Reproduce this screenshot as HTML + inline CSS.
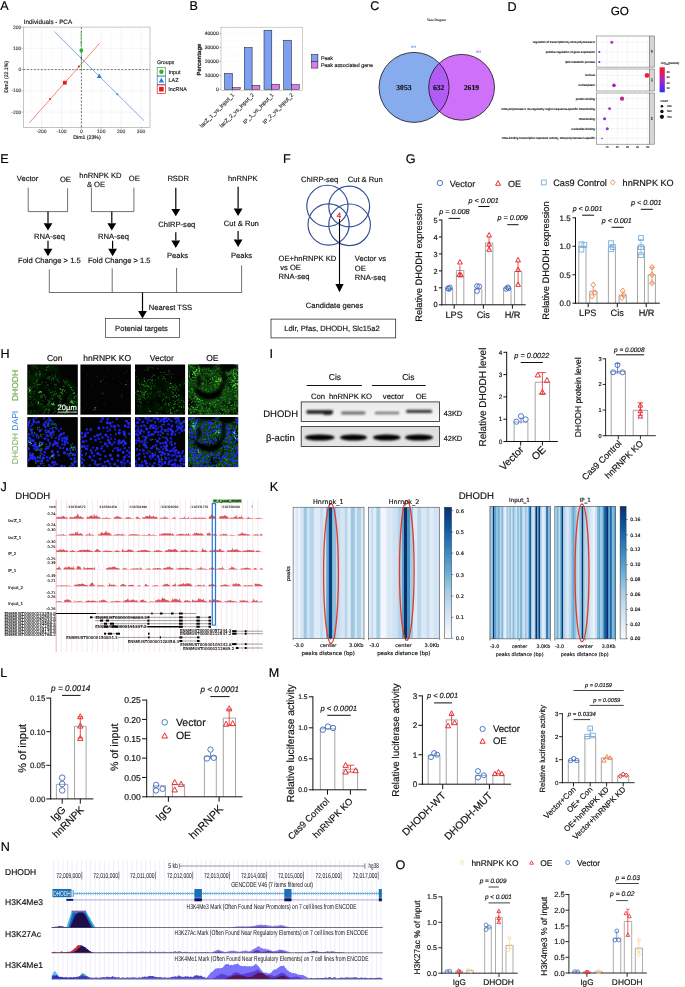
<!DOCTYPE html>
<html><head><meta charset="utf-8"><title>Figure</title>
<style>
html,body{margin:0;padding:0;background:#fff;}
svg{display:block;font-family:"Liberation Sans",sans-serif;text-rendering:geometricPrecision;}
</style></head>
<body>
<svg width="685" height="987" viewBox="0 0 685 987">
<rect width="685" height="987" fill="#fff"/>
<text x="0.3" y="10.4" font-size="12.6" fill="#000"  stroke="#000" stroke-width="0.16">A</text>
<text x="23.8" y="23.6" font-size="6.3" fill="#1a1a1a"  stroke="#1a1a1a" stroke-width="0.16">Individuals - PCA</text>
<rect x="23.3" y="27.1" width="126.7" height="100.2" fill="#fff" stroke="#8a8a8a" stroke-width="0.5" />
<line x1="31.7" y1="27.1" x2="31.7" y2="127.3" stroke="#f2f2f2" stroke-width="0.3" />
<line x1="51.58" y1="27.1" x2="51.58" y2="127.3" stroke="#f2f2f2" stroke-width="0.3" />
<line x1="71.46" y1="27.1" x2="71.46" y2="127.3" stroke="#f2f2f2" stroke-width="0.3" />
<line x1="91.34" y1="27.1" x2="91.34" y2="127.3" stroke="#f2f2f2" stroke-width="0.3" />
<line x1="111.22" y1="27.1" x2="111.22" y2="127.3" stroke="#f2f2f2" stroke-width="0.3" />
<line x1="131.1" y1="27.1" x2="131.1" y2="127.3" stroke="#f2f2f2" stroke-width="0.3" />
<line x1="23.3" y1="122.72" x2="150" y2="122.72" stroke="#f2f2f2" stroke-width="0.3" />
<line x1="23.3" y1="101.47" x2="150" y2="101.47" stroke="#f2f2f2" stroke-width="0.3" />
<line x1="23.3" y1="80.22" x2="150" y2="80.22" stroke="#f2f2f2" stroke-width="0.3" />
<line x1="23.3" y1="58.97" x2="150" y2="58.97" stroke="#f2f2f2" stroke-width="0.3" />
<line x1="23.3" y1="37.72" x2="150" y2="37.72" stroke="#f2f2f2" stroke-width="0.3" />
<line x1="41.64" y1="27.1" x2="41.64" y2="127.3" stroke="#e8e8e8" stroke-width="0.5" />
<line x1="41.64" y1="127.3" x2="41.64" y2="128.6" stroke="#555" stroke-width="0.4" />
<text x="41.64" y="133" font-size="5" fill="#4d4d4d" text-anchor="middle"  stroke="#4d4d4d" stroke-width="0.16">-200</text>
<line x1="61.52" y1="27.1" x2="61.52" y2="127.3" stroke="#e8e8e8" stroke-width="0.5" />
<line x1="61.52" y1="127.3" x2="61.52" y2="128.6" stroke="#555" stroke-width="0.4" />
<text x="61.52" y="133" font-size="5" fill="#4d4d4d" text-anchor="middle"  stroke="#4d4d4d" stroke-width="0.16">-100</text>
<line x1="81.4" y1="27.1" x2="81.4" y2="127.3" stroke="#e8e8e8" stroke-width="0.5" />
<line x1="81.4" y1="127.3" x2="81.4" y2="128.6" stroke="#555" stroke-width="0.4" />
<text x="81.4" y="133" font-size="5" fill="#4d4d4d" text-anchor="middle"  stroke="#4d4d4d" stroke-width="0.16">0</text>
<line x1="101.28" y1="27.1" x2="101.28" y2="127.3" stroke="#e8e8e8" stroke-width="0.5" />
<line x1="101.28" y1="127.3" x2="101.28" y2="128.6" stroke="#555" stroke-width="0.4" />
<text x="101.28" y="133" font-size="5" fill="#4d4d4d" text-anchor="middle"  stroke="#4d4d4d" stroke-width="0.16">100</text>
<line x1="121.16" y1="27.1" x2="121.16" y2="127.3" stroke="#e8e8e8" stroke-width="0.5" />
<line x1="121.16" y1="127.3" x2="121.16" y2="128.6" stroke="#555" stroke-width="0.4" />
<text x="121.16" y="133" font-size="5" fill="#4d4d4d" text-anchor="middle"  stroke="#4d4d4d" stroke-width="0.16">200</text>
<line x1="141.04" y1="27.1" x2="141.04" y2="127.3" stroke="#e8e8e8" stroke-width="0.5" />
<line x1="141.04" y1="127.3" x2="141.04" y2="128.6" stroke="#555" stroke-width="0.4" />
<text x="141.04" y="133" font-size="5" fill="#4d4d4d" text-anchor="middle"  stroke="#4d4d4d" stroke-width="0.16">300</text>
<line x1="23.3" y1="112.1" x2="150" y2="112.1" stroke="#e8e8e8" stroke-width="0.5" />
<line x1="22" y1="112.1" x2="23.3" y2="112.1" stroke="#555" stroke-width="0.4" />
<text x="21.3" y="113.7" font-size="5" fill="#4d4d4d" text-anchor="end"  stroke="#4d4d4d" stroke-width="0.16">-200</text>
<line x1="23.3" y1="90.85" x2="150" y2="90.85" stroke="#e8e8e8" stroke-width="0.5" />
<line x1="22" y1="90.85" x2="23.3" y2="90.85" stroke="#555" stroke-width="0.4" />
<text x="21.3" y="92.45" font-size="5" fill="#4d4d4d" text-anchor="end"  stroke="#4d4d4d" stroke-width="0.16">-100</text>
<line x1="23.3" y1="69.6" x2="150" y2="69.6" stroke="#e8e8e8" stroke-width="0.5" />
<line x1="22" y1="69.6" x2="23.3" y2="69.6" stroke="#555" stroke-width="0.4" />
<text x="21.3" y="71.2" font-size="5" fill="#4d4d4d" text-anchor="end"  stroke="#4d4d4d" stroke-width="0.16">0</text>
<line x1="23.3" y1="48.35" x2="150" y2="48.35" stroke="#e8e8e8" stroke-width="0.5" />
<line x1="22" y1="48.35" x2="23.3" y2="48.35" stroke="#555" stroke-width="0.4" />
<text x="21.3" y="49.95" font-size="5" fill="#4d4d4d" text-anchor="end"  stroke="#4d4d4d" stroke-width="0.16">100</text>
<line x1="23.3" y1="27.1" x2="150" y2="27.1" stroke="#e8e8e8" stroke-width="0.5" />
<line x1="22" y1="27.1" x2="23.3" y2="27.1" stroke="#555" stroke-width="0.4" />
<text x="21.3" y="28.7" font-size="5" fill="#4d4d4d" text-anchor="end"  stroke="#4d4d4d" stroke-width="0.16">200</text>
<line x1="23.3" y1="69.6" x2="150" y2="69.6" stroke="#222" stroke-width="0.6" stroke-dasharray="2 1.5" />
<line x1="81.4" y1="27.1" x2="81.4" y2="127.3" stroke="#222" stroke-width="0.6" stroke-dasharray="2 1.5" />
<line x1="29.3" y1="122.8" x2="99.8" y2="43.1" stroke="#f0504a" stroke-width="0.7" />
<line x1="54.3" y1="31.6" x2="144" y2="120.6" stroke="#4a90d0" stroke-width="0.7" />
<line x1="81" y1="31.6" x2="81.6" y2="69.6" stroke="#4caf50" stroke-width="0.7" stroke-dasharray="3 1" />
<circle cx="81.3" cy="50.5" r="1.9" fill="#3aa83a" />
<circle cx="81.2" cy="43" r="0.8" fill="#2f8f2f" />
<circle cx="81.3" cy="57.9" r="0.8" fill="#1f5fa8" />
<circle cx="78.9" cy="66.5" r="1" fill="#e41a1c" />
<rect x="62.9" y="80.8" width="3.8" height="3.8" fill="#e41a1c" />
<circle cx="50" cy="99" r="0.9" fill="#e41a1c" />
<polygon points="99.3,73.6 96.8,78 101.8,78" fill="#2f7fc8" />
<circle cx="117.3" cy="94.2" r="1" fill="#2f7fc8" />
<text x="87" y="138.5" font-size="5.2" fill="#222" text-anchor="middle"  stroke="#222" stroke-width="0.16">Dim1 (23%)</text>
<text x="8.3" y="76.8" font-size="5.2" fill="#222" text-anchor="middle" transform="rotate(-90 8.3 76.8)"  stroke="#222" stroke-width="0.16">Dim2 (22.1%)</text>
<text x="156.9" y="64.2" font-size="5.3" fill="#222"  stroke="#222" stroke-width="0.16">Groups</text>
<rect x="157.2" y="67.5" width="8.4" height="8.4" fill="#fff" stroke="#3aa83a" stroke-width="0.7" />
<circle cx="161.4" cy="71.7" r="2.2" fill="#3aa83a" />
<text x="168.6" y="73.6" font-size="5.4" fill="#222"  stroke="#222" stroke-width="0.16">Input</text>
<rect x="157.2" y="76.25" width="8.4" height="8.4" fill="#fff" stroke="#2f7fc8" stroke-width="0.7" />
<polygon points="161.4,77.65 158.7,82.45 164.1,82.45" fill="#2f7fc8" />
<text x="168.6" y="82.35" font-size="5.4" fill="#222"  stroke="#222" stroke-width="0.16">LAZ</text>
<rect x="157.2" y="85" width="8.4" height="8.4" fill="#fff" stroke="#e41a1c" stroke-width="0.7" />
<rect x="159.1" y="86.9" width="4.6" height="4.6" fill="#e41a1c" />
<text x="168.6" y="91.1" font-size="5.4" fill="#222"  stroke="#222" stroke-width="0.16">lncRNA</text>
<text x="189.4" y="10.4" font-size="12.6" fill="#000"  stroke="#000" stroke-width="0.16">B</text>
<rect x="221" y="27.2" width="81.3" height="63" fill="#fff" stroke="#9a9a9a" stroke-width="0.5" />
<line x1="221" y1="82.35" x2="302.3" y2="82.35" stroke="#f1f1f1" stroke-width="0.4" stroke-dasharray="1 1" />
<line x1="221" y1="68.45" x2="302.3" y2="68.45" stroke="#f1f1f1" stroke-width="0.4" stroke-dasharray="1 1" />
<line x1="221" y1="54.55" x2="302.3" y2="54.55" stroke="#f1f1f1" stroke-width="0.4" stroke-dasharray="1 1" />
<line x1="221" y1="40.65" x2="302.3" y2="40.65" stroke="#f1f1f1" stroke-width="0.4" stroke-dasharray="1 1" />
<line x1="221" y1="89.3" x2="302.3" y2="89.3" stroke="#ebebeb" stroke-width="0.4" stroke-dasharray="1 1" />
<line x1="219.7" y1="89.3" x2="221" y2="89.3" stroke="#444" stroke-width="0.4" />
<text x="218.7" y="91" font-size="5" fill="#333" text-anchor="end"  stroke="#333" stroke-width="0.16">0</text>
<line x1="221" y1="75.4" x2="302.3" y2="75.4" stroke="#ebebeb" stroke-width="0.4" stroke-dasharray="1 1" />
<line x1="219.7" y1="75.4" x2="221" y2="75.4" stroke="#444" stroke-width="0.4" />
<text x="218.7" y="77.1" font-size="5" fill="#333" text-anchor="end"  stroke="#333" stroke-width="0.16">10000</text>
<line x1="221" y1="61.5" x2="302.3" y2="61.5" stroke="#ebebeb" stroke-width="0.4" stroke-dasharray="1 1" />
<line x1="219.7" y1="61.5" x2="221" y2="61.5" stroke="#444" stroke-width="0.4" />
<text x="218.7" y="63.2" font-size="5" fill="#333" text-anchor="end"  stroke="#333" stroke-width="0.16">20000</text>
<line x1="221" y1="47.6" x2="302.3" y2="47.6" stroke="#ebebeb" stroke-width="0.4" stroke-dasharray="1 1" />
<line x1="219.7" y1="47.6" x2="221" y2="47.6" stroke="#444" stroke-width="0.4" />
<text x="218.7" y="49.3" font-size="5" fill="#333" text-anchor="end"  stroke="#333" stroke-width="0.16">30000</text>
<line x1="221" y1="33.7" x2="302.3" y2="33.7" stroke="#ebebeb" stroke-width="0.4" stroke-dasharray="1 1" />
<line x1="219.7" y1="33.7" x2="221" y2="33.7" stroke="#444" stroke-width="0.4" />
<text x="218.7" y="35.4" font-size="5" fill="#333" text-anchor="end"  stroke="#333" stroke-width="0.16">40000</text>
<line x1="232.4" y1="27.2" x2="232.4" y2="90.2" stroke="#efefef" stroke-width="0.4" stroke-dasharray="1 1" />
<line x1="252.1" y1="27.2" x2="252.1" y2="90.2" stroke="#efefef" stroke-width="0.4" stroke-dasharray="1 1" />
<line x1="271.8" y1="27.2" x2="271.8" y2="90.2" stroke="#efefef" stroke-width="0.4" stroke-dasharray="1 1" />
<line x1="291.5" y1="27.2" x2="291.5" y2="90.2" stroke="#efefef" stroke-width="0.4" stroke-dasharray="1 1" />
<rect x="224.6" y="73.45" width="7.8" height="15.85" fill="#7f9ff2" stroke="#111" stroke-width="0.5" />
<rect x="232.4" y="87.7" width="7.8" height="1.6" fill="#d97ce9" stroke="#111" stroke-width="0.5" />
<line x1="232.4" y1="90.2" x2="232.4" y2="91.5" stroke="#444" stroke-width="0.4" />
<rect x="244.3" y="47.46" width="7.8" height="41.84" fill="#7f9ff2" stroke="#111" stroke-width="0.5" />
<rect x="252.1" y="85.41" width="7.8" height="3.89" fill="#d97ce9" stroke="#111" stroke-width="0.5" />
<line x1="252.1" y1="90.2" x2="252.1" y2="91.5" stroke="#444" stroke-width="0.4" />
<rect x="264" y="30.22" width="7.8" height="59.08" fill="#7f9ff2" stroke="#111" stroke-width="0.5" />
<rect x="271.8" y="84.3" width="7.8" height="5" fill="#d97ce9" stroke="#111" stroke-width="0.5" />
<line x1="271.8" y1="90.2" x2="271.8" y2="91.5" stroke="#444" stroke-width="0.4" />
<rect x="283.7" y="40.23" width="7.8" height="49.07" fill="#7f9ff2" stroke="#111" stroke-width="0.5" />
<rect x="291.5" y="84.64" width="7.8" height="4.66" fill="#d97ce9" stroke="#111" stroke-width="0.5" />
<line x1="291.5" y1="90.2" x2="291.5" y2="91.5" stroke="#444" stroke-width="0.4" />
<text x="200.8" y="59.6" font-size="5.9" fill="#111" text-anchor="middle" transform="rotate(-90 200.8 59.6)" font-weight="bold"  stroke="#111" stroke-width="0.16">Percentage</text>
<text x="234.6" y="95.4" font-size="5.45" fill="#333" text-anchor="end" transform="rotate(-45 234.6 95.4)"  stroke="#333" stroke-width="0.16">lacZ_1_vs_Input_1</text>
<text x="254.3" y="95.4" font-size="5.45" fill="#333" text-anchor="end" transform="rotate(-45 254.3 95.4)"  stroke="#333" stroke-width="0.16">lacZ_2_vs_Input_2</text>
<text x="274" y="95.4" font-size="5.45" fill="#333" text-anchor="end" transform="rotate(-45 274 95.4)"  stroke="#333" stroke-width="0.16">IP_1_vs_Input_1</text>
<text x="293.7" y="95.4" font-size="5.45" fill="#333" text-anchor="end" transform="rotate(-45 293.7 95.4)"  stroke="#333" stroke-width="0.16">IP_2_vs_Input_2</text>
<rect x="311.6" y="54.5" width="6.3" height="6.8" fill="#7f9ff2" stroke="#111" stroke-width="0.5" />
<rect x="311.6" y="61.3" width="6.3" height="6.8" fill="#d97ce9" stroke="#111" stroke-width="0.5" />
<text x="320.9" y="59.8" font-size="5.3" fill="#222"  stroke="#222" stroke-width="0.16">Peak</text>
<text x="320.9" y="66.7" font-size="5.3" fill="#222"  stroke="#222" stroke-width="0.16">Peak associated gene</text>
<text x="370.3" y="10.4" font-size="12.6" fill="#000"  stroke="#000" stroke-width="0.16">C</text>
<text x="436.6" y="20.9" font-size="3.3" fill="#333" text-anchor="middle" font-family="Liberation Serif, serif"  stroke="#333" stroke-width="0.12">Venn Diagram</text>
<clipPath id="vc"><circle cx="414.05" cy="87.4" r="35"/></clipPath>
<circle cx="414.05" cy="87.4" r="35" fill="#86acee" />
<circle cx="461.6" cy="87.3" r="32.9" fill="#cf70fb" />
<circle cx="461.6" cy="87.3" r="32.9" fill="#b15cf5" clip-path="url(#vc)"/>
<circle cx="414.05" cy="87.4" r="35" fill="none" stroke="#111" stroke-width="0.8" />
<circle cx="461.6" cy="87.3" r="32.9" fill="none" stroke="#111" stroke-width="0.8" />
<text x="403.9" y="90.1" font-size="7.6" fill="#111" text-anchor="middle" font-weight="bold" font-family="Liberation Serif, serif"  stroke="#111" stroke-width="0.16">3053</text>
<text x="438.7" y="90.1" font-size="7.6" fill="#111" text-anchor="middle" font-weight="bold" font-family="Liberation Serif, serif"  stroke="#111" stroke-width="0.16">632</text>
<text x="471.4" y="90.1" font-size="7.6" fill="#111" text-anchor="middle" font-weight="bold" font-family="Liberation Serif, serif"  stroke="#111" stroke-width="0.16">2619</text>
<text x="413.7" y="48.4" font-size="3.3" fill="#5b8def" text-anchor="middle"  stroke="#5b8def" stroke-width="0.12">IP1</text>
<text x="478.5" y="52.5" font-size="3.3" fill="#c050f0" text-anchor="middle"  stroke="#c050f0" stroke-width="0.12">IP2</text>
<text x="507.6" y="10.5" font-size="12.6" fill="#000"  stroke="#000" stroke-width="0.16">D</text>
<text x="619.8" y="15.3" font-size="11.7" fill="#000" text-anchor="middle"  stroke="#000" stroke-width="0.16">GO</text>
<rect x="596.6" y="36" width="52.7" height="31.1" fill="#fff" stroke="#666" stroke-width="0.55" />
<line x1="601.9" y1="36" x2="601.9" y2="67.1" stroke="#f2f2f2" stroke-width="0.3" />
<line x1="612.1" y1="36" x2="612.1" y2="67.1" stroke="#f2f2f2" stroke-width="0.3" />
<line x1="622.3" y1="36" x2="622.3" y2="67.1" stroke="#f2f2f2" stroke-width="0.3" />
<line x1="632.5" y1="36" x2="632.5" y2="67.1" stroke="#f2f2f2" stroke-width="0.3" />
<line x1="642.7" y1="36" x2="642.7" y2="67.1" stroke="#f2f2f2" stroke-width="0.3" />
<line x1="607" y1="36" x2="607" y2="67.1" stroke="#e6e6e6" stroke-width="0.4" />
<line x1="617.2" y1="36" x2="617.2" y2="67.1" stroke="#e6e6e6" stroke-width="0.4" />
<line x1="627.4" y1="36" x2="627.4" y2="67.1" stroke="#e6e6e6" stroke-width="0.4" />
<line x1="637.6" y1="36" x2="637.6" y2="67.1" stroke="#e6e6e6" stroke-width="0.4" />
<line x1="647.8" y1="36" x2="647.8" y2="67.1" stroke="#e6e6e6" stroke-width="0.4" />
<rect x="649.3" y="36" width="5" height="31.1" fill="#d6d6d6" stroke="#666" stroke-width="0.55" />
<text x="651" y="51.55" font-size="2.3" fill="#222" text-anchor="middle" transform="rotate(90 651 51.55)"  stroke="#222" stroke-width="0.12">BP</text>
<rect x="596.6" y="69" width="52.7" height="22" fill="#fff" stroke="#666" stroke-width="0.55" />
<line x1="601.9" y1="69" x2="601.9" y2="91" stroke="#f2f2f2" stroke-width="0.3" />
<line x1="612.1" y1="69" x2="612.1" y2="91" stroke="#f2f2f2" stroke-width="0.3" />
<line x1="622.3" y1="69" x2="622.3" y2="91" stroke="#f2f2f2" stroke-width="0.3" />
<line x1="632.5" y1="69" x2="632.5" y2="91" stroke="#f2f2f2" stroke-width="0.3" />
<line x1="642.7" y1="69" x2="642.7" y2="91" stroke="#f2f2f2" stroke-width="0.3" />
<line x1="607" y1="69" x2="607" y2="91" stroke="#e6e6e6" stroke-width="0.4" />
<line x1="617.2" y1="69" x2="617.2" y2="91" stroke="#e6e6e6" stroke-width="0.4" />
<line x1="627.4" y1="69" x2="627.4" y2="91" stroke="#e6e6e6" stroke-width="0.4" />
<line x1="637.6" y1="69" x2="637.6" y2="91" stroke="#e6e6e6" stroke-width="0.4" />
<line x1="647.8" y1="69" x2="647.8" y2="91" stroke="#e6e6e6" stroke-width="0.4" />
<rect x="649.3" y="69" width="5" height="22" fill="#d6d6d6" stroke="#666" stroke-width="0.55" />
<text x="651" y="80" font-size="2.3" fill="#222" text-anchor="middle" transform="rotate(90 651 80)"  stroke="#222" stroke-width="0.12">CC</text>
<rect x="596.6" y="93" width="52.7" height="51.2" fill="#fff" stroke="#666" stroke-width="0.55" />
<line x1="601.9" y1="93" x2="601.9" y2="144.2" stroke="#f2f2f2" stroke-width="0.3" />
<line x1="612.1" y1="93" x2="612.1" y2="144.2" stroke="#f2f2f2" stroke-width="0.3" />
<line x1="622.3" y1="93" x2="622.3" y2="144.2" stroke="#f2f2f2" stroke-width="0.3" />
<line x1="632.5" y1="93" x2="632.5" y2="144.2" stroke="#f2f2f2" stroke-width="0.3" />
<line x1="642.7" y1="93" x2="642.7" y2="144.2" stroke="#f2f2f2" stroke-width="0.3" />
<line x1="607" y1="93" x2="607" y2="144.2" stroke="#e6e6e6" stroke-width="0.4" />
<line x1="617.2" y1="93" x2="617.2" y2="144.2" stroke="#e6e6e6" stroke-width="0.4" />
<line x1="627.4" y1="93" x2="627.4" y2="144.2" stroke="#e6e6e6" stroke-width="0.4" />
<line x1="637.6" y1="93" x2="637.6" y2="144.2" stroke="#e6e6e6" stroke-width="0.4" />
<line x1="647.8" y1="93" x2="647.8" y2="144.2" stroke="#e6e6e6" stroke-width="0.4" />
<rect x="649.3" y="93" width="5" height="51.2" fill="#d6d6d6" stroke="#666" stroke-width="0.55" />
<text x="651" y="118.6" font-size="2.3" fill="#222" text-anchor="middle" transform="rotate(90 651 118.6)"  stroke="#222" stroke-width="0.12">MF</text>
<line x1="596.6" y1="42.2" x2="649.3" y2="42.2" stroke="#e6e6e6" stroke-width="0.4" />
<line x1="596.6" y1="51.9" x2="649.3" y2="51.9" stroke="#e6e6e6" stroke-width="0.4" />
<line x1="596.6" y1="61.9" x2="649.3" y2="61.9" stroke="#e6e6e6" stroke-width="0.4" />
<line x1="596.6" y1="75.4" x2="649.3" y2="75.4" stroke="#e6e6e6" stroke-width="0.4" />
<line x1="596.6" y1="85.4" x2="649.3" y2="85.4" stroke="#e6e6e6" stroke-width="0.4" />
<line x1="596.6" y1="98.7" x2="649.3" y2="98.7" stroke="#e6e6e6" stroke-width="0.4" />
<line x1="596.6" y1="108.7" x2="649.3" y2="108.7" stroke="#e6e6e6" stroke-width="0.4" />
<line x1="596.6" y1="118.7" x2="649.3" y2="118.7" stroke="#e6e6e6" stroke-width="0.4" />
<line x1="596.6" y1="128.7" x2="649.3" y2="128.7" stroke="#e6e6e6" stroke-width="0.4" />
<line x1="596.6" y1="138.4" x2="649.3" y2="138.4" stroke="#e6e6e6" stroke-width="0.4" />
<line x1="595.6" y1="42.2" x2="596.6" y2="42.2" stroke="#333" stroke-width="0.3" />
<text x="595" y="43.15" font-size="2.95" fill="#111" text-anchor="end" stroke="#111" stroke-width="0.12">regulation of transcription by RNA polymerase II</text>
<circle cx="611.8" cy="42.2" r="1.5" fill="#b22fc6" />
<line x1="595.6" y1="51.9" x2="596.6" y2="51.9" stroke="#333" stroke-width="0.3" />
<text x="595" y="52.85" font-size="2.95" fill="#111" text-anchor="end" stroke="#111" stroke-width="0.12">positive regulation of gene expression</text>
<circle cx="599.3" cy="51.9" r="1" fill="#2a3cff" />
<line x1="595.6" y1="61.9" x2="596.6" y2="61.9" stroke="#333" stroke-width="0.3" />
<text x="595" y="62.85" font-size="2.95" fill="#111" text-anchor="end" stroke="#111" stroke-width="0.12">lipid metabolic process</text>
<circle cx="599.3" cy="61.9" r="1" fill="#2a3cff" />
<line x1="595.6" y1="75.4" x2="596.6" y2="75.4" stroke="#333" stroke-width="0.3" />
<text x="595" y="76.35" font-size="2.95" fill="#111" text-anchor="end" stroke="#111" stroke-width="0.12">nucleus</text>
<circle cx="647" cy="75.4" r="2.35" fill="#f2202a" />
<line x1="595.6" y1="85.4" x2="596.6" y2="85.4" stroke="#333" stroke-width="0.3" />
<text x="595" y="86.35" font-size="2.95" fill="#111" text-anchor="end" stroke="#111" stroke-width="0.12">nucleoplasm</text>
<circle cx="614" cy="85.4" r="1.8" fill="#a51fb8" />
<line x1="595.6" y1="98.7" x2="596.6" y2="98.7" stroke="#333" stroke-width="0.3" />
<text x="595" y="99.65" font-size="2.95" fill="#111" text-anchor="end" stroke="#111" stroke-width="0.12">protein binding</text>
<circle cx="622" cy="98.7" r="2.1" fill="#c4208c" />
<line x1="595.6" y1="108.7" x2="596.6" y2="108.7" stroke="#333" stroke-width="0.3" />
<text x="595" y="109.65" font-size="2.95" fill="#111" text-anchor="end" stroke="#111" stroke-width="0.12">RNA polymerase II cis-regulatory region sequence-specific DNA binding</text>
<circle cx="609.6" cy="108.7" r="1.4" fill="#9a2fe0" />
<line x1="595.6" y1="118.7" x2="596.6" y2="118.7" stroke="#333" stroke-width="0.3" />
<text x="595" y="119.65" font-size="2.95" fill="#111" text-anchor="end" stroke="#111" stroke-width="0.12">DNA binding</text>
<circle cx="604.6" cy="118.7" r="1.5" fill="#7e30ea" />
<line x1="595.6" y1="128.7" x2="596.6" y2="128.7" stroke="#333" stroke-width="0.3" />
<text x="595" y="129.65" font-size="2.95" fill="#111" text-anchor="end" stroke="#111" stroke-width="0.12">nucleotide binding</text>
<circle cx="607.3" cy="128.7" r="1.5" fill="#932fe2" />
<line x1="595.6" y1="138.4" x2="596.6" y2="138.4" stroke="#333" stroke-width="0.3" />
<text x="595" y="139.35" font-size="2.95" fill="#111" text-anchor="end" stroke="#111" stroke-width="0.12">DNA-binding transcription repressor activity, RNA polymerase II-specific</text>
<circle cx="602" cy="138.4" r="0.75" fill="#5a30f5" />
<line x1="607" y1="144.2" x2="607" y2="145.1" stroke="#333" stroke-width="0.3" />
<text x="607" y="147.7" font-size="2.7" fill="#222" text-anchor="middle" stroke="#222" stroke-width="0.1">10</text>
<line x1="617.2" y1="144.2" x2="617.2" y2="145.1" stroke="#333" stroke-width="0.3" />
<text x="617.2" y="147.7" font-size="2.7" fill="#222" text-anchor="middle" stroke="#222" stroke-width="0.1">20</text>
<line x1="627.4" y1="144.2" x2="627.4" y2="145.1" stroke="#333" stroke-width="0.3" />
<text x="627.4" y="147.7" font-size="2.7" fill="#222" text-anchor="middle" stroke="#222" stroke-width="0.1">30</text>
<line x1="637.6" y1="144.2" x2="637.6" y2="145.1" stroke="#333" stroke-width="0.3" />
<text x="637.6" y="147.7" font-size="2.7" fill="#222" text-anchor="middle" stroke="#222" stroke-width="0.1">40</text>
<line x1="647.8" y1="144.2" x2="647.8" y2="145.1" stroke="#333" stroke-width="0.3" />
<text x="647.8" y="147.7" font-size="2.7" fill="#222" text-anchor="middle" stroke="#222" stroke-width="0.1">50</text>
<text x="660.6" y="64" font-size="3.1" fill="#111" stroke="#111" stroke-width="0.1">-log<tspan font-size="2" dy="0.6">10</tspan><tspan dy="-0.6">(pvalue)</tspan></text>
<linearGradient id="gd" x1="0" y1="0" x2="0" y2="1"><stop offset="0" stop-color="#ff1a1a"/><stop offset="0.5" stop-color="#b020c0"/><stop offset="1" stop-color="#3030ff"/></linearGradient>
<rect x="659.6" y="67.3" width="5.2" height="25" fill="url(#gd)" />
<text x="666.4" y="73" font-size="2.8" fill="#111" stroke="#111" stroke-width="0.1">40</text>
<text x="666.4" y="78.3" font-size="2.8" fill="#111" stroke="#111" stroke-width="0.1">30</text>
<text x="666.4" y="83.6" font-size="2.8" fill="#111" stroke="#111" stroke-width="0.1">20</text>
<text x="666.4" y="89.1" font-size="2.8" fill="#111" stroke="#111" stroke-width="0.1">10</text>
<text x="660.6" y="101.6" font-size="3.1" fill="#111" stroke="#111" stroke-width="0.1">count</text>
<circle cx="661.9" cy="106.2" r="1.3" fill="#111" />
<text x="667" y="107.1" font-size="2.8" fill="#111" stroke="#111" stroke-width="0.1">250</text>
<circle cx="661.9" cy="111.5" r="1.7" fill="#111" />
<text x="667" y="112.4" font-size="2.8" fill="#111" stroke="#111" stroke-width="0.1">500</text>
<circle cx="661.9" cy="116.8" r="2.1" fill="#111" />
<text x="667" y="117.7" font-size="2.8" fill="#111" stroke="#111" stroke-width="0.1">750</text>
<text x="0.3" y="162.9" font-size="12.6" fill="#000"  stroke="#000" stroke-width="0.16">E</text>
<text x="16.8" y="181.1" font-size="7.6" fill="#111"  stroke="#111" stroke-width="0.16">Vector</text>
<text x="59.9" y="181.5" font-size="7.6" fill="#111"  stroke="#111" stroke-width="0.16">OE</text>
<text x="79.3" y="177.5" font-size="7.6" fill="#111"  stroke="#111" stroke-width="0.16">hnRNPK KD</text>
<text x="86.9" y="186.7" font-size="7.6" fill="#111"  stroke="#111" stroke-width="0.16">&amp; OE</text>
<text x="128.8" y="181.2" font-size="7.6" fill="#111"  stroke="#111" stroke-width="0.16">OE</text>
<text x="167.4" y="181.2" font-size="7.6" fill="#111"  stroke="#111" stroke-width="0.16">RSDR</text>
<text x="228.1" y="181.2" font-size="7.6" fill="#111"  stroke="#111" stroke-width="0.16">hnRNPK</text>
<path d="M28.2 187.7V211.6H67.6V188.3" fill="none" stroke="#111" stroke-width="0.6" />
<path d="M91.4 187.7V211.6H133.9V187.7" fill="none" stroke="#111" stroke-width="0.6" />
<line x1="48" y1="211.6" x2="48" y2="223.2" stroke="#000" stroke-width="1.2" />
<polygon points="48,230.6 43.6,223.2 52.4,223.2" fill="#000" />
<line x1="48" y1="240.8" x2="48" y2="248.8" stroke="#000" stroke-width="1.2" />
<polygon points="48,256.2 43.6,248.8 52.4,248.8" fill="#000" />
<line x1="111.8" y1="211.6" x2="111.8" y2="223.2" stroke="#000" stroke-width="1.2" />
<polygon points="111.8,230.6 107.4,223.2 116.2,223.2" fill="#000" />
<line x1="112.6" y1="240.8" x2="112.6" y2="248.8" stroke="#000" stroke-width="1.2" />
<polygon points="112.6,256.2 108.2,248.8 117,248.8" fill="#000" />
<text x="34.1" y="239.4" font-size="7.6" fill="#111"  stroke="#111" stroke-width="0.16">RNA-seq</text>
<text x="98.1" y="239" font-size="7.6" fill="#111"  stroke="#111" stroke-width="0.16">RNA-seq</text>
<text x="18" y="263.3" font-size="7.6" fill="#111"  stroke="#111" stroke-width="0.16">Fold Change &gt; 1.5</text>
<text x="87.9" y="263.3" font-size="7.6" fill="#111"  stroke="#111" stroke-width="0.16">Fold Change &gt; 1.5</text>
<line x1="175.8" y1="187.7" x2="175.8" y2="208.9" stroke="#000" stroke-width="1.2" />
<polygon points="175.8,216.3 171.4,208.9 180.2,208.9" fill="#000" />
<line x1="175.8" y1="232.3" x2="175.8" y2="240.6" stroke="#000" stroke-width="1.2" />
<polygon points="175.8,248 171.4,240.6 180.2,240.6" fill="#000" />
<line x1="238.1" y1="186.7" x2="238.1" y2="208.5" stroke="#000" stroke-width="1.2" />
<polygon points="238.1,215.9 233.7,208.5 242.5,208.5" fill="#000" />
<line x1="238.1" y1="231" x2="238.1" y2="239.6" stroke="#000" stroke-width="1.2" />
<polygon points="238.1,247 233.7,239.6 242.5,239.6" fill="#000" />
<text x="158.2" y="226.5" font-size="7.6" fill="#111"  stroke="#111" stroke-width="0.16">ChIRP-seq</text>
<text x="223.8" y="225.7" font-size="7.6" fill="#111"  stroke="#111" stroke-width="0.16">Cut &amp; Run</text>
<text x="167" y="258.2" font-size="7.6" fill="#111"  stroke="#111" stroke-width="0.16">Peaks</text>
<text x="231" y="258.2" font-size="7.6" fill="#111"  stroke="#111" stroke-width="0.16">Peaks</text>
<path d="M49.3 269.4V292.5H241.6V265.4" fill="none" stroke="#111" stroke-width="0.6" />
<line x1="112.2" y1="268.4" x2="112.2" y2="292.5" stroke="#111" stroke-width="0.6" />
<line x1="176.6" y1="267.8" x2="176.6" y2="292.5" stroke="#111" stroke-width="0.6" />
<line x1="142.5" y1="292.5" x2="142.5" y2="311.1" stroke="#000" stroke-width="1.2" />
<polygon points="142.5,318.5 138.1,311.1 146.9,311.1" fill="#000" />
<text x="148.8" y="309.7" font-size="7.6" fill="#111"  stroke="#111" stroke-width="0.16">Nearest TSS</text>
<rect x="105.5" y="318.5" width="74.2" height="19" fill="#fff" stroke="#111" stroke-width="0.6" />
<text x="115.1" y="330.8" font-size="7.6" fill="#111"  stroke="#111" stroke-width="0.16">Potenial targets</text>
<text x="283" y="162.9" font-size="12.6" fill="#000"  stroke="#000" stroke-width="0.16">F</text>
<text x="301.1" y="181.6" font-size="7.6" fill="#111"  stroke="#111" stroke-width="0.16">ChIRP-seq</text>
<text x="347.7" y="181.6" font-size="7.6" fill="#111"  stroke="#111" stroke-width="0.16">Cut &amp; Run</text>
<circle cx="327.4" cy="205.9" r="20.6" fill="none" stroke="#2f4f93" stroke-width="1.15" />
<circle cx="349.2" cy="206.5" r="20.4" fill="none" stroke="#2f4f93" stroke-width="1.15" />
<circle cx="328.6" cy="224.5" r="20.6" fill="none" stroke="#2f4f93" stroke-width="1.15" />
<circle cx="349.6" cy="224.8" r="20.8" fill="none" stroke="#2f4f93" stroke-width="1.15" />
<text x="338.9" y="217.6" font-size="7.8" fill="#ee2a2e" text-anchor="middle" stroke="#ee2a2e" stroke-width="0.3">4</text>
<line x1="339.5" y1="218.8" x2="339.5" y2="284.1" stroke="#000" stroke-width="1.1" />
<polygon points="339.5,292.3 335.4,284.1 343.6,284.1" fill="#000" />
<text x="278.6" y="260.9" font-size="7.6" fill="#111"  stroke="#111" stroke-width="0.16">OE+hnRNPK KD</text>
<text x="280.2" y="269.9" font-size="7.6" fill="#111"  stroke="#111" stroke-width="0.16">vs OE</text>
<text x="278.6" y="279.3" font-size="7.6" fill="#111"  stroke="#111" stroke-width="0.16">RNA-seq</text>
<text x="354.8" y="261.3" font-size="7.6" fill="#111"  stroke="#111" stroke-width="0.16">Vector vs</text>
<text x="354.8" y="270.5" font-size="7.6" fill="#111"  stroke="#111" stroke-width="0.16">OE</text>
<text x="354.8" y="279.7" font-size="7.6" fill="#111"  stroke="#111" stroke-width="0.16">RNA-seq</text>
<text x="305.8" y="307.7" font-size="7.6" fill="#111"  stroke="#111" stroke-width="0.16">Candidate genes</text>
<rect x="271" y="319.1" width="124.7" height="18.8" fill="#fff" stroke="#111" stroke-width="0.7" />
<text x="284.3" y="331.4" font-size="7.6" fill="#111"  stroke="#111" stroke-width="0.16">Ldlr, Pfas, DHODH, Slc15a2</text>
<text x="405.8" y="162.9" font-size="12.6" fill="#000"  stroke="#000" stroke-width="0.16">G</text>
<circle cx="439.9" cy="183" r="2.7" fill="none" stroke="#4472c4" stroke-width="0.95" />
<text x="449.7" y="186.7" font-size="9" fill="#111"  stroke="#111" stroke-width="0.16">Vector</text>
<polygon points="498.1,180.68 495.6,185.3 500.6,185.3" fill="none" stroke="#e8262a" stroke-width="0.95" />
<text x="507.9" y="186.7" font-size="9" fill="#111"  stroke="#111" stroke-width="0.16">OE</text>
<rect x="541.4" y="180" width="4.8" height="4.8" fill="none" stroke="#7db3e0" stroke-width="0.95" />
<text x="553.2" y="185.7" font-size="9.2" fill="#111"  stroke="#111" stroke-width="0.16">Cas9 Control</text>
<polygon points="612.7,179.75 615,182.4 612.7,185.05 610.4,182.4" fill="none" stroke="#f4874b" stroke-width="0.95" />
<text x="622.6" y="185.7" font-size="9.1" fill="#111"  stroke="#111" stroke-width="0.16">hnRNPK KO</text>
<path d="M445.4 304.8V288.3H452.7V304.8" fill="#fff" stroke="#808080" stroke-width="0.7" />
<path d="M456.4 304.8V270.5H463.8V304.8" fill="#fff" stroke="#808080" stroke-width="0.7" />
<path d="M474.6 304.8V288.9H481.8V304.8" fill="#fff" stroke="#808080" stroke-width="0.7" />
<path d="M485.4 304.8V242.9H492.8V304.8" fill="#fff" stroke="#808080" stroke-width="0.7" />
<path d="M503.6 304.8V288.3H511V304.8" fill="#fff" stroke="#808080" stroke-width="0.7" />
<path d="M514.5 304.8V271.5H521.8V304.8" fill="#fff" stroke="#808080" stroke-width="0.7" />
<line x1="441.9" y1="219.5" x2="441.9" y2="305.3" stroke="#111" stroke-width="1" />
<line x1="441.4" y1="304.8" x2="525.7" y2="304.8" stroke="#111" stroke-width="1" />
<line x1="438.9" y1="304.8" x2="441.9" y2="304.8" stroke="#111" stroke-width="1" />
<text x="437.6" y="307.46" font-size="7.4" fill="#111" text-anchor="end"  stroke="#111" stroke-width="0.16">0</text>
<line x1="438.9" y1="287.84" x2="441.9" y2="287.84" stroke="#111" stroke-width="1" />
<text x="437.6" y="290.5" font-size="7.4" fill="#111" text-anchor="end"  stroke="#111" stroke-width="0.16">1</text>
<line x1="438.9" y1="270.88" x2="441.9" y2="270.88" stroke="#111" stroke-width="1" />
<text x="437.6" y="273.54" font-size="7.4" fill="#111" text-anchor="end"  stroke="#111" stroke-width="0.16">2</text>
<line x1="438.9" y1="253.92" x2="441.9" y2="253.92" stroke="#111" stroke-width="1" />
<text x="437.6" y="256.58" font-size="7.4" fill="#111" text-anchor="end"  stroke="#111" stroke-width="0.16">3</text>
<line x1="438.9" y1="236.96" x2="441.9" y2="236.96" stroke="#111" stroke-width="1" />
<text x="437.6" y="239.62" font-size="7.4" fill="#111" text-anchor="end"  stroke="#111" stroke-width="0.16">4</text>
<line x1="438.9" y1="220" x2="441.9" y2="220" stroke="#111" stroke-width="1" />
<text x="437.6" y="222.66" font-size="7.4" fill="#111" text-anchor="end"  stroke="#111" stroke-width="0.16">5</text>
<line x1="454.2" y1="304.8" x2="454.2" y2="308.7" stroke="#111" stroke-width="1" />
<line x1="483.4" y1="304.8" x2="483.4" y2="308.7" stroke="#111" stroke-width="1" />
<line x1="512.4" y1="304.8" x2="512.4" y2="308.7" stroke="#111" stroke-width="1" />
<line x1="459.9" y1="265.4" x2="459.9" y2="275.6" stroke="#e8262a" stroke-width="0.8" />
<line x1="459.9" y1="265.4" x2="459.9" y2="265.4" stroke="#e8262a" stroke-width="0.8" />
<line x1="459.9" y1="275.6" x2="459.9" y2="275.6" stroke="#e8262a" stroke-width="0.8" />
<line x1="489.1" y1="236.8" x2="489.1" y2="250" stroke="#e8262a" stroke-width="0.8" />
<line x1="489.1" y1="236.8" x2="489.1" y2="236.8" stroke="#e8262a" stroke-width="0.8" />
<line x1="489.1" y1="250" x2="489.1" y2="250" stroke="#e8262a" stroke-width="0.8" />
<line x1="518.1" y1="261.2" x2="518.1" y2="284.6" stroke="#e8262a" stroke-width="0.8" />
<line x1="518.1" y1="261.2" x2="518.1" y2="261.2" stroke="#e8262a" stroke-width="0.8" />
<line x1="518.1" y1="284.6" x2="518.1" y2="284.6" stroke="#e8262a" stroke-width="0.8" />
<circle cx="448" cy="288.3" r="2.4" fill="none" stroke="#4472c4" stroke-width="0.95" />
<circle cx="449.9" cy="287.4" r="2.4" fill="none" stroke="#4472c4" stroke-width="0.95" />
<circle cx="449" cy="289" r="2.4" fill="none" stroke="#4472c4" stroke-width="0.95" />
<polygon points="459.9,259.58 457.5,264.02 462.3,264.02" fill="none" stroke="#e8262a" stroke-width="0.95" />
<polygon points="459.3,272.08 456.9,276.52 461.7,276.52" fill="none" stroke="#e8262a" stroke-width="0.95" />
<polygon points="460.9,272.48 458.5,276.92 463.3,276.92" fill="none" stroke="#e8262a" stroke-width="0.95" />
<circle cx="477" cy="286" r="2.4" fill="none" stroke="#4472c4" stroke-width="0.95" />
<circle cx="479.3" cy="286.4" r="2.4" fill="none" stroke="#4472c4" stroke-width="0.95" />
<circle cx="477" cy="291.1" r="2.4" fill="none" stroke="#4472c4" stroke-width="0.95" />
<polygon points="489.1,232.58 486.7,237.02 491.5,237.02" fill="none" stroke="#e8262a" stroke-width="0.95" />
<polygon points="489.1,241.78 486.7,246.22 491.5,246.22" fill="none" stroke="#e8262a" stroke-width="0.95" />
<polygon points="489.1,246.88 486.7,251.32 491.5,251.32" fill="none" stroke="#e8262a" stroke-width="0.95" />
<circle cx="507.7" cy="287.4" r="2.4" fill="none" stroke="#4472c4" stroke-width="0.95" />
<circle cx="506.1" cy="288.9" r="2.4" fill="none" stroke="#4472c4" stroke-width="0.95" />
<circle cx="508.5" cy="288.3" r="2.4" fill="none" stroke="#4472c4" stroke-width="0.95" />
<polygon points="518.1,257.48 515.7,261.92 520.5,261.92" fill="none" stroke="#e8262a" stroke-width="0.95" />
<polygon points="518.1,266.98 515.7,271.42 520.5,271.42" fill="none" stroke="#e8262a" stroke-width="0.95" />
<polygon points="518.1,281.88 515.7,286.32 520.5,286.32" fill="none" stroke="#e8262a" stroke-width="0.95" />
<text x="454.2" y="317.9" font-size="9.2" fill="#111" text-anchor="middle"  stroke="#111" stroke-width="0.16">LPS</text>
<text x="483.3" y="317.9" font-size="9.2" fill="#111" text-anchor="middle"  stroke="#111" stroke-width="0.16">Cis</text>
<text x="512.6" y="317.9" font-size="9.2" fill="#111" text-anchor="middle"  stroke="#111" stroke-width="0.16">H/R</text>
<text x="421.9" y="262.6" font-size="9.35" fill="#111" text-anchor="middle" transform="rotate(-90 421.9 262.6)"  stroke="#111" stroke-width="0.16">Relative DHODH expression</text>
<text x="454.35" y="214.3" font-size="7.21" fill="#111" text-anchor="middle" font-style="italic"  stroke="#111" stroke-width="0.16">p = 0.008</text>
<line x1="448.6" y1="218.4" x2="460.3" y2="218.4" stroke="#111" stroke-width="1" />
<text x="483.6" y="202.6" font-size="7.19" fill="#111" text-anchor="middle" font-style="italic"  stroke="#111" stroke-width="0.16">p &lt; 0.001</text>
<line x1="478.3" y1="206.5" x2="489.5" y2="206.5" stroke="#111" stroke-width="1" />
<text x="512.6" y="220.4" font-size="7.19" fill="#111" text-anchor="middle" font-style="italic"  stroke="#111" stroke-width="0.16">p = 0.009</text>
<line x1="507.3" y1="224.7" x2="518.5" y2="224.7" stroke="#111" stroke-width="1" />
<path d="M578.8 303.2V246.3H586V303.2" fill="#fff" stroke="#808080" stroke-width="0.7" />
<path d="M589.7 303.2V291.2H597V303.2" fill="#fff" stroke="#808080" stroke-width="0.7" />
<path d="M608.4 303.2V247H615.4V303.2" fill="#fff" stroke="#808080" stroke-width="0.7" />
<path d="M619.1 303.2V295.1H626.3V303.2" fill="#fff" stroke="#808080" stroke-width="0.7" />
<path d="M637.5 303.2V246.3H644.5V303.2" fill="#fff" stroke="#808080" stroke-width="0.7" />
<path d="M648.2 303.2V274.8H655.4V303.2" fill="#fff" stroke="#808080" stroke-width="0.7" />
<line x1="575.5" y1="217.3" x2="575.5" y2="303.7" stroke="#111" stroke-width="1" />
<line x1="575" y1="303.2" x2="659.8" y2="303.2" stroke="#111" stroke-width="1" />
<line x1="572.5" y1="303.2" x2="575.5" y2="303.2" stroke="#111" stroke-width="1" />
<text x="570.7" y="306.08" font-size="8" fill="#111" text-anchor="end"  stroke="#111" stroke-width="0.16">0.0</text>
<line x1="572.5" y1="274.73" x2="575.5" y2="274.73" stroke="#111" stroke-width="1" />
<text x="570.7" y="277.61" font-size="8" fill="#111" text-anchor="end"  stroke="#111" stroke-width="0.16">0.5</text>
<line x1="572.5" y1="246.26" x2="575.5" y2="246.26" stroke="#111" stroke-width="1" />
<text x="570.7" y="249.14" font-size="8" fill="#111" text-anchor="end"  stroke="#111" stroke-width="0.16">1.0</text>
<line x1="572.5" y1="217.79" x2="575.5" y2="217.79" stroke="#111" stroke-width="1" />
<text x="570.7" y="220.67" font-size="8" fill="#111" text-anchor="end"  stroke="#111" stroke-width="0.16">1.5</text>
<line x1="588.2" y1="303.2" x2="588.2" y2="307.1" stroke="#111" stroke-width="1" />
<line x1="617.3" y1="303.2" x2="617.3" y2="307.1" stroke="#111" stroke-width="1" />
<line x1="646.2" y1="303.2" x2="646.2" y2="307.1" stroke="#111" stroke-width="1" />
<line x1="593.2" y1="286.4" x2="593.2" y2="296.2" stroke="#f4874b" stroke-width="0.8" />
<line x1="593.2" y1="286.4" x2="593.2" y2="286.4" stroke="#f4874b" stroke-width="0.8" />
<line x1="593.2" y1="296.2" x2="593.2" y2="296.2" stroke="#f4874b" stroke-width="0.8" />
<line x1="622.8" y1="291" x2="622.8" y2="298" stroke="#f4874b" stroke-width="0.8" />
<line x1="622.8" y1="291" x2="622.8" y2="291" stroke="#f4874b" stroke-width="0.8" />
<line x1="622.8" y1="298" x2="622.8" y2="298" stroke="#f4874b" stroke-width="0.8" />
<line x1="641" y1="239.3" x2="641" y2="254.6" stroke="#7db3e0" stroke-width="0.8" />
<line x1="638.8" y1="239.3" x2="643.2" y2="239.3" stroke="#7db3e0" stroke-width="0.8" />
<line x1="638.8" y1="254.6" x2="643.2" y2="254.6" stroke="#7db3e0" stroke-width="0.8" />
<line x1="652.1" y1="267.3" x2="652.1" y2="283.1" stroke="#f4874b" stroke-width="0.8" />
<line x1="649.9" y1="267.3" x2="654.3" y2="267.3" stroke="#f4874b" stroke-width="0.8" />
<line x1="649.9" y1="283.1" x2="654.3" y2="283.1" stroke="#f4874b" stroke-width="0.8" />
<rect x="579" y="241.9" width="4.8" height="4.8" fill="none" stroke="#7db3e0" stroke-width="0.95" />
<rect x="581.9" y="242.6" width="4.8" height="4.8" fill="none" stroke="#7db3e0" stroke-width="0.95" />
<rect x="579" y="247.2" width="4.8" height="4.8" fill="none" stroke="#7db3e0" stroke-width="0.95" />
<polygon points="593.2,282.04 595.6,284.8 593.2,287.56 590.8,284.8" fill="none" stroke="#f4874b" stroke-width="0.95" />
<polygon points="594.6,289.74 597,292.5 594.6,295.26 592.2,292.5" fill="none" stroke="#f4874b" stroke-width="0.95" />
<polygon points="592.1,293.44 594.5,296.2 592.1,298.96 589.7,296.2" fill="none" stroke="#f4874b" stroke-width="0.95" />
<rect x="608.6" y="240.8" width="4.8" height="4.8" fill="none" stroke="#7db3e0" stroke-width="0.95" />
<rect x="610.5" y="244.6" width="4.8" height="4.8" fill="none" stroke="#7db3e0" stroke-width="0.95" />
<rect x="608.6" y="246.8" width="4.8" height="4.8" fill="none" stroke="#7db3e0" stroke-width="0.95" />
<polygon points="622.8,288.04 625.2,290.8 622.8,293.56 620.4,290.8" fill="none" stroke="#f4874b" stroke-width="0.95" />
<polygon points="623.7,292.34 626.1,295.1 623.7,297.86 621.3,295.1" fill="none" stroke="#f4874b" stroke-width="0.95" />
<polygon points="621.9,295.04 624.3,297.8 621.9,300.56 619.5,297.8" fill="none" stroke="#f4874b" stroke-width="0.95" />
<rect x="638.6" y="235.6" width="4.8" height="4.8" fill="none" stroke="#7db3e0" stroke-width="0.95" />
<rect x="638.6" y="244.8" width="4.8" height="4.8" fill="none" stroke="#7db3e0" stroke-width="0.95" />
<rect x="638.6" y="252.7" width="4.8" height="4.8" fill="none" stroke="#7db3e0" stroke-width="0.95" />
<polygon points="652.1,264.54 654.5,267.3 652.1,270.06 649.7,267.3" fill="none" stroke="#f4874b" stroke-width="0.95" />
<polygon points="652.1,272.04 654.5,274.8 652.1,277.56 649.7,274.8" fill="none" stroke="#f4874b" stroke-width="0.95" />
<polygon points="652.1,280.34 654.5,283.1 652.1,285.86 649.7,283.1" fill="none" stroke="#f4874b" stroke-width="0.95" />
<text x="587.8" y="315.5" font-size="9.2" fill="#111" text-anchor="middle"  stroke="#111" stroke-width="0.16">LPS</text>
<text x="617.2" y="315.5" font-size="9.2" fill="#111" text-anchor="middle"  stroke="#111" stroke-width="0.16">Cis</text>
<text x="646.6" y="315.5" font-size="9.2" fill="#111" text-anchor="middle"  stroke="#111" stroke-width="0.16">H/R</text>
<text x="549.2" y="260.6" font-size="9.35" fill="#111" text-anchor="middle" transform="rotate(-90 549.2 260.6)"  stroke="#111" stroke-width="0.16">Relative DHODH expression</text>
<text x="587.55" y="210.8" font-size="7.07" fill="#111" text-anchor="middle" font-style="italic"  stroke="#111" stroke-width="0.16">p &lt; 0.001</text>
<line x1="582.1" y1="215.2" x2="594.1" y2="215.2" stroke="#111" stroke-width="1" />
<text x="616.8" y="222.9" font-size="7.14" fill="#111" text-anchor="middle" font-style="italic"  stroke="#111" stroke-width="0.16">p &lt; 0.001</text>
<line x1="611.6" y1="227.3" x2="623.7" y2="227.3" stroke="#111" stroke-width="1" />
<text x="646.25" y="204.7" font-size="7.31" fill="#111" text-anchor="middle" font-style="italic"  stroke="#111" stroke-width="0.16">p &lt; 0.001</text>
<line x1="640.8" y1="209.3" x2="652.8" y2="209.3" stroke="#111" stroke-width="1" />
<text x="0.4" y="357.6" font-size="12.6" fill="#000"  stroke="#000" stroke-width="0.16">H</text>
<text x="54.7" y="360.9" font-size="8.5" fill="#111" text-anchor="middle"  stroke="#111" stroke-width="0.16">Con</text>
<text x="107.2" y="360.9" font-size="8.5" fill="#111" text-anchor="middle"  stroke="#111" stroke-width="0.16">hnRNPK KO</text>
<text x="161.8" y="360.9" font-size="8.5" fill="#111" text-anchor="middle"  stroke="#111" stroke-width="0.16">Vector</text>
<text x="212.3" y="360.9" font-size="8.5" fill="#111" text-anchor="middle"  stroke="#111" stroke-width="0.16">OE</text>
<text x="18.3" y="385.5" font-size="8.5" fill="#6fa84a" text-anchor="middle" transform="rotate(-90 18.3 385.5)"  stroke="#6fa84a" stroke-width="0.16">DHODH</text>
<text transform="rotate(-90 18.3 437.5)" x="18.3" y="437.5" font-size="8.5" text-anchor="middle"><tspan fill="#6fa84a">DHODH</tspan><tspan fill="#2d78d8"> DAPI</tspan></text>
<filter id="hb" x="-5%" y="-5%" width="110%" height="110%"><feGaussianBlur stdDeviation="0.5"/></filter>
<filter id="hb2" x="-10%" y="-10%" width="120%" height="120%"><feGaussianBlur stdDeviation="1.5"/></filter>
<filter id="hb3" x="-10%" y="-10%" width="120%" height="120%"><feGaussianBlur stdDeviation="0.9"/></filter>
<clipPath id="hc00"><rect x="27.3" y="364.5" width="50.5" height="50.2"/></clipPath>
<rect x="27.3" y="364.5" width="50.5" height="50.2" fill="#020302" />
<g clip-path="url(#hc00)">
<g filter="url(#hb2)">
<path d="M50.1 392.6h0M74 387.9h0M52.9 394h0M36.6 390.2h0M59.1 404.3h0M32.1 379.7h0M31.9 405.1h0M76.9 412.9h0M60.3 395.4h0M35.3 365.3h0M54 367.5h0M36.9 376.6h0M28.8 387.8h0M49.5 406.8h0M53.5 396.6h0M52.5 397.8h0M50.4 378.5h0M77.7 414.5h0M69.7 400h0M43.2 376h0M41.9 368h0M66 384.6h0M70.1 383.9h0M75.7 407h0M27.3 375h0M73.3 388.1h0M31 396.1h0M31.7 381.2h0M76 402.6h0M33.3 376.9h0M32.4 367.5h0M55.5 387h0M36.9 401.2h0M33.9 396.8h0M33.2 385.6h0M38 378h0M76.3 404.8h0M42.7 408.9h0M37.9 384.3h0M70.4 396.7h0M32.4 414.2h0M38.1 377.5h0M66.3 381h0M42.3 368.2h0M31.9 393.8h0M39.6 394.7h0M46.1 387.3h0M56.3 408h0M36.5 372.2h0M73.2 405.6h0M39.9 374h0M64.6 411.7h0M37.2 412.2h0M71.9 394.8h0M48.6 369.7h0M29.3 412.8h0M39.3 399.9h0M40.3 405.9h0M57.4 379.2h0M36.2 400.7h0M30.8 376h0M55.5 407.3h0M58.3 378.6h0M28.1 378h0M49.8 367.5h0M36.2 383h0M56.2 371.1h0M45.6 409.2h0M76.8 397.5h0M62.2 393.8h0" stroke="#0f4a0d" stroke-width="5" stroke-linecap="round" fill="none" opacity="0.4"/>
</g>
<g filter="url(#hb)">
<path d="M52.6 399.4h0M45.1 374h0M67.3 410h0M70.9 407.3h0M74.6 401.6h0M77.6 410h0M29.6 396.3h0M28.6 389.2h0M55.3 375.1h0M49.2 402.5h0M63.6 414.6h0M34.1 383.4h0M60.6 407.5h0M63.9 386.7h0M64.5 391.5h0M38.3 385.1h0M29.5 387.3h0M28 403h0M75 396.2h0M60.1 388.7h0M62.5 390.9h0M60.1 392.6h0M49.2 410.6h0M27.6 411h0M36.1 375.2h0M76.9 408.7h0M51 401.5h0M54.5 384.2h0M54.2 401.7h0M70.1 407.2h0M40.4 396.1h0M55.9 384.9h0M32.2 387.1h0M34 393.2h0M51.3 383h0M53.5 379.9h0M47.3 404.8h0M33.9 365.9h0M60.2 412.6h0M70.4 407.9h0M47.9 400.2h0M58 413.5h0M61.6 404.4h0M48.4 409.1h0M62.5 393.2h0M63.3 414.5h0M63 386.1h0M47.1 378.3h0M65.4 414.3h0M30.6 392.8h0M46 399.1h0M65.7 408.3h0M36.4 384.9h0M73 390.5h0M65 403.9h0M30.6 393.4h0M50.8 405.5h0M49.4 403.3h0M57.5 395.9h0M66.5 392.2h0M45.2 406.4h0M30.9 412h0M34.4 391.2h0M63.5 406.3h0M27.7 402.1h0M49.3 401.5h0M31.3 410.9h0M39.7 384.5h0M49 405.7h0M50.8 398.5h0M29.9 391.3h0M74 398.2h0M55.4 411.3h0M43.1 400.9h0M36.6 380.7h0M70.8 409.5h0M50.2 377h0M48.8 401.4h0M53.1 403.8h0M41.2 384.1h0M41.2 404h0M31.1 397.8h0M46.1 396.5h0M34.4 399.5h0M42.7 396h0M74.9 409.2h0M53.9 412.4h0M38.8 384.8h0M32.1 404.7h0M70.3 407.7h0M41.4 394.9h0M58.9 410.6h0M51.5 379.5h0M36.9 373.5h0M48.1 403.9h0M31.3 402.1h0M31.6 388.8h0M60.5 407h0M34.7 386.5h0M30.7 387h0M61.1 389.7h0M40.5 397h0M45 397.7h0M66.2 411.7h0M67.2 414h0M37.5 387.8h0M68.4 384.7h0M64.6 412.6h0M64.6 390.2h0M65.5 413h0M54.5 409h0M42.1 396.7h0M57.8 395.4h0M77 402.6h0M55.7 394.3h0M49 378.9h0M27.5 397.6h0M48.1 377.4h0M70.1 395.5h0M37.5 368.2h0M68.5 398.6h0M53.8 395.4h0M65.2 390.2h0M28.3 398.1h0M69.1 405.6h0M77.5 407h0M53.1 395h0M48.9 403.7h0M30.3 396.6h0M27.4 409.4h0M56 384.5h0M41.7 397.8h0M49.2 376.3h0M29.2 405.6h0M52.5 398.6h0M52.3 374.7h0M35.8 373.9h0M64.9 413.1h0M39.8 375.8h0M70.6 409.3h0M28.9 392.4h0M59.6 382h0M44.9 395.4h0M35.9 367.1h0M40.1 404.3h0M43.2 394.1h0M65.4 382.8h0M42.9 404.3h0M63.3 412.1h0M46.5 370.1h0M73.3 410.4h0M62.7 394.1h0M68 412.8h0M55.3 376.6h0M62 413.3h0M67.9 408.9h0M69 407.7h0M75.1 409.7h0M64.8 382.4h0M49.8 400.1h0M57.6 380.9h0M32 391.3h0M37.5 384.3h0M55.4 391.2h0M44.1 394.9h0M71.2 399h0M30.2 399.6h0M57.1 379.5h0M52.3 377h0M43.1 406.8h0" stroke="#1a6416" stroke-width="1.2" stroke-linecap="round" fill="none"/>
<path d="M27.5 382.8h0M50.9 392.5h0M76 401.9h0M54.1 377.8h0M45.9 382.1h0M34.1 411h0M27.5 388.1h0M39.8 371.8h0M52.8 391.9h0M74.4 397.8h0M73.1 410h0M60.6 396.2h0M75 411.1h0M44.5 411.9h0M43.9 413.2h0M45.9 409.7h0M46.8 367.5h0M72.8 390.4h0M60.9 399.2h0M58.6 397h0M71.4 389.6h0M49 411h0M48.2 412.7h0M75.1 411.4h0M37.2 379.9h0M27.7 369.8h0M73 400.6h0M70.5 387.5h0M48.2 366.7h0M61.2 405.2h0M69.6 385.6h0M60.2 404.5h0M72.8 402.1h0M60.1 401.2h0M63.8 380.9h0M56.8 393.3h0M74.1 402.8h0M29.3 371.6h0M40.4 374h0M36.7 382.2h0M47.9 384.9h0M27.7 389h0M28.9 388.3h0M59.7 396.1h0M70 402.7h0M76.2 396.1h0M42.4 382.3h0M46.3 370h0M71.6 387.6h0M73.7 403.6h0M39.7 374.5h0M70.7 387.7h0M49.2 389.9h0M61.2 398.7h0M46.7 409.1h0M49.6 409.5h0M59.5 398h0M54.9 393.5h0M66.8 381.4h0M53.3 378.4h0" stroke="#35a028" stroke-width="1" stroke-linecap="round" fill="none"/>
<path d="M52.6 404.3h0M39.3 391.8h0M73.4 393.3h0M29.4 391.5h0M53.6 403.3h0M53 404.2h0M39 392.4h0M52.1 404.4h0M70.8 401.3h0M30.3 390.4h0M30.4 390.3h0M72.2 403.1h0M61.7 392.7h0M29.7 389.4h0M51.7 403.8h0M39 392.3h0M71.8 401.1h0M38.3 402.1h0M71.9 401.7h0M40.8 391.5h0M71.6 402.2h0M29.5 390.8h0M71.6 400.9h0M63 389.4h0M54.3 404.9h0M72.8 402h0M39.3 392h0M60.4 388.8h0M41.4 392.1h0M74.4 392.9h0M52.8 404.6h0M40.3 391.9h0M53.4 403.9h0M38.1 403.7h0M62.2 390.7h0M38.7 402.6h0" stroke="#5fd644" stroke-width="1.1" stroke-linecap="round" fill="none"/>
</g>
</g>
<clipPath id="hc01"><rect x="27.3" y="417.1" width="50.5" height="50"/></clipPath>
<rect x="27.3" y="417.1" width="50.5" height="50" fill="#020302" />
<g clip-path="url(#hc01)">
<g filter="url(#hb)">
<path d="M36.9 460.5h0M42.9 463.2h0M39.3 427.2h0M50 433.7h0M55.2 427.4h0M71.5 463.2h0M39.9 441.7h0M48.3 440.7h0M40.9 436h0M53.2 427.4h0M53.5 432.9h0M40.4 455.5h0M41.4 448.9h0M40.6 449.1h0M42.1 448.9h0M37.6 427.7h0M39.5 461.1h0M34.5 432.4h0M52.3 437.3h0M72 447.9h0M31.8 432.8h0M41 444.8h0M70.4 450.5h0M72.9 448.3h0M47.5 425.8h0M41.5 448.2h0M34.7 433.3h0M40.7 457.1h0M46.2 446.8h0M43.9 465.4h0M31.9 431.3h0M39.6 431.6h0M47.1 420.1h0M40.3 453.2h0M37.1 449.9h0M36.6 449.2h0M36 450.4h0M41.6 450.5h0M73.6 449.7h0M58.9 430.5h0M75.5 449.7h0M51.4 420.4h0M50.1 419.3h0M72.9 465h0M48.6 426h0M39.2 449.5h0M32.9 429.1h0M52.3 424.4h0M49.1 421.4h0M35.7 462.6h0M43.2 434.4h0M67.5 450.1h0M40.2 458.4h0M46.2 446.8h0M74 462h0M53.4 427.7h0M45.1 422.6h0M47.8 424.9h0M70.9 444.7h0M41.3 449.8h0M40.9 463.1h0M37.8 429.3h0M38.6 436.2h0M53.9 434.9h0M38.4 466.5h0M39.4 450.2h0M41.4 449.8h0M47.3 432.1h0M49.8 428.6h0M29.3 421.6h0M69.5 466h0M56.1 426h0M37.9 446.8h0M40.7 434.5h0M44.4 451.7h0M45.6 448.5h0M51.1 425.1h0M71.8 459h0M74.2 460.5h0M40.3 463.5h0M36.9 437.3h0M53.8 424.8h0M49.4 423.5h0M72.9 454.2h0M37.6 461.4h0M39.1 456.3h0M46.1 444.2h0M76.6 461.3h0M72.2 463.4h0M37.9 448.2h0M32.4 432.6h0M44.1 438.4h0M36.1 463.3h0M48.3 436.2h0M37.4 450.5h0M75.1 446.6h0M53 421.1h0M49.6 442.5h0M41.8 429.6h0M63.8 433.9h0M45.8 438.6h0M38.8 458.1h0M72.4 465.6h0M39.6 444.9h0M28.4 423.9h0M30.2 428.8h0M49.5 445.7h0M54.7 423.7h0M38.2 461.8h0M72.4 443.8h0" stroke="#1b7034" stroke-width="1.4" stroke-linecap="round" fill="none"/>
<path d="M35.5 460.4h0M40.1 442.5h0M67.5 436.7h0M63.4 433.4h0M44.2 455.1h0M56 438.1h0M63 448.2h0M33.6 435.9h0M61.1 428.7h0M36.6 417.8h0M56.9 464.2h0M62 438.1h0M59.2 436.9h0M74.4 466.5h0M29.8 452.8h0M33.3 419.2h0M41.7 453.7h0M44 418.4h0M54.7 441.3h0M46.2 432.6h0M41.6 436.7h0M58.5 455.4h0M62.3 444.4h0M36.1 422.5h0M52 423.1h0M55.9 424.3h0M58.9 430.8h0M45.8 430.1h0M29.9 420.3h0M31.3 426.2h0M51.7 467h0M51.8 437.8h0M30.2 444.6h0M60.5 448.3h0M41.3 464h0M71 466.8h0M49.7 458.8h0M28.7 425.5h0M43 442.8h0M27.8 427.6h0M53.9 457.6h0M67.3 453.9h0M47.5 457.3h0" stroke="#1b1fe2" stroke-width="2.1" stroke-linecap="round" fill="none"/>
<path d="M69.1 455.5h0M56.4 428.5h0M46.9 435.6h0M45.7 449h0M32.1 433.8h0M64.8 444.4h0M32.6 424.2h0M45 438.6h0M27.8 442.2h0M54.4 464.7h0M37.6 461.1h0M49 465.2h0M38.4 437.5h0M41.1 451h0M36.6 435h0M70.5 448.5h0M52.8 445.5h0M33.1 459h0M57.6 445.7h0M59 439.4h0M64.5 466.6h0M47.6 460.5h0M52.1 428.8h0M74.7 458.6h0M67.6 442.7h0M71.2 452.7h0M40 457.5h0M50.2 443.9h0M55 462.4h0M45.8 422.1h0M29.2 434.4h0M71 458.8h0M37.7 448.6h0M49.1 417.9h0M57.8 451.8h0M62.3 440.4h0M74.8 447.6h0M45.4 426.9h0M77.5 451.7h0M34.7 448.7h0M48 439.9h0M44.8 452.3h0M39.2 446.1h0" stroke="#1b1fe2" stroke-width="2.6" stroke-linecap="round" fill="none"/>
<path d="M41.7 460.7h0M49.9 420.3h0M48.5 431.2h0M48.1 423.7h0M61.1 434.3h0M72.6 464.6h0M28.5 448.7h0M51 435.2h0M50.8 432.9h0M30.7 440.2h0M38.3 466.6h0M33.3 440.5h0M28.1 460.1h0M75 461.9h0M54.4 443.8h0M32.9 456.6h0M33.6 445.5h0M33.9 421.5h0M53.2 431.8h0M47.8 447.7h0M35.1 458h0M64.4 452.7h0M35.2 443.7h0M28.7 422.6h0M29.6 437.9h0M31.3 430.1h0M52.6 462.3h0M38.5 422.1h0M65.1 441.5h0M53.4 454.8h0M40 430.6h0M43.3 458.1h0M67.1 449.2h0M30.2 455.3h0M74.5 454.7h0M64.5 438h0M61.6 466.3h0M66.8 439.1h0M52.2 451.6h0M32.6 454.2h0M35.7 446.4h0M57.2 443.1h0M30.5 458.3h0M44.1 424.7h0" stroke="#2226ee" stroke-width="3" stroke-linecap="round" fill="none"/>
<path d="M36.3 460.9h0M64 432.7h0M63.5 447.7h0M36.1 417.8h0M59.4 436.3h0M33.8 419.4h0M55.4 442h0M58.8 455.1h0M52.8 423.5h0M45.4 430.7h0M52.1 466.5h0M60 447.4h0M49.7 458.3h0M27.5 427.2h0M46.8 457.2h0M46.5 435.2h0M64.4 444.4h0M28.4 441.6h0M49.7 465.9h0M36.8 435h0M33.5 459h0M64.8 467.3h0M75.1 458.1h0M39.2 458.2h0M45.5 422.6h0M37.3 448.5h0M62.1 440.8h0M78.3 451.7h0M44.9 452h0M49.5 421.1h0M60.4 435.1h0M51.3 434.4h0M39 465.9h0M75.1 461.2h0M34.5 445.2h0M48.5 446.9h0M35.5 442.9h0M30.4 430.3h0M66 441.8h0M44 458.6h0M74.5 454h0M66.8 438.6h0M35.8 446.1h0M44.1 424.1h0" stroke="#1b1fe2" stroke-width="2" stroke-linecap="round" fill="none"/>
<path d="M72.2 454.9h0M41 445.1h0M73.7 447.3h0M30.4 442.7h0M52.7 456.4h0M42.4 444.2h0M41.4 442.8h0M28.4 441h0M69.8 453.7h0M52.9 455.4h0M73 449.9h0M31.4 443.4h0M29.3 442.4h0M39.5 443.5h0M71.9 446.6h0M30.2 442.1h0M37.6 457.1h0M39.2 445.1h0M50.9 456.9h0M39.8 445.9h0M71.5 446.9h0M51.8 455.8h0" stroke="#3fd07a" stroke-width="1.2" stroke-linecap="round" fill="none"/>
</g>
</g>
<clipPath id="hc10"><rect x="80.4" y="364.5" width="50.5" height="50.2"/></clipPath>
<rect x="80.4" y="364.5" width="50.5" height="50.2" fill="#020302" />
<g clip-path="url(#hc10)">
<g filter="url(#hb)">
<path d="M124.9 373.3h0M88 377.2h0M104.6 403.8h0M97.2 376.5h0M113.4 377.6h0M106.8 377.3h0M124.7 373.8h0M92.1 379.6h0M97 401h0M114.4 404.2h0M107.7 368.4h0M119 376.8h0M91.4 385.3h0M130.4 383.1h0M98.4 410.2h0M130.4 383.9h0M87.2 404.1h0M119.9 381.5h0M120.3 383.5h0M94.9 394.3h0M117.8 388.4h0M121.7 365.2h0M105.6 383.6h0M83.7 410.4h0M87.6 374.8h0M124.7 412.7h0M127.4 381.7h0M127.4 371.6h0" stroke="#0f380d" stroke-width="1" stroke-linecap="round" fill="none"/>
<path d="M121.4 395.4h0M102.9 393.9h0M93.4 409.9h0M122 397.2h0M102.9 393.1h0M100.4 381.2h0M100.4 381.8h0M94.6 407.5h0M101.2 380.9h0M103 379.3h0" stroke="#1f6a1a" stroke-width="1" stroke-linecap="round" fill="none"/>
<path d="M125.9 384.6h0" stroke="#45c030" stroke-width="1.3" stroke-linecap="round" fill="none"/>
<path d="M95 409.2h0M95.6 407.7h0" stroke="#2f8f25" stroke-width="1.2" stroke-linecap="round" fill="none"/>
</g>
</g>
<clipPath id="hc11"><rect x="80.4" y="417.1" width="50.5" height="50"/></clipPath>
<rect x="80.4" y="417.1" width="50.5" height="50" fill="#020302" />
<g clip-path="url(#hc11)">
<g filter="url(#hb)">
<path d="M127.6 451h0M89.8 465.4h0M112.6 422.3h0M104.8 461.8h0M110.6 434.6h0M130.8 441.5h0M104.1 451h0M102.6 446.3h0M107.8 431.2h0M82.7 437.2h0M121.9 465.2h0M129 447.7h0M129.5 433.9h0M123.2 445.2h0M115.1 429.6h0M117.9 425.4h0M87.7 446.1h0M111.3 438.6h0M110 429.9h0M114.6 448.2h0M126.8 455.4h0M108.4 437.3h0M115.9 434.1h0M80.6 441.1h0M86.1 454.4h0M120.8 449.6h0M100.6 442h0M107.6 419.6h0M84.1 460.1h0M88 432.9h0M114 442.2h0M115.2 439.4h0M95.5 450.5h0M86.9 429.4h0M95.4 461.1h0M86.3 440.9h0M116.5 419.3h0M112.9 450.9h0M100.6 464.1h0M94.9 436.6h0M93.2 447.6h0" stroke="#1b1fe2" stroke-width="2.1" stroke-linecap="round" fill="none"/>
<path d="M119.5 430.2h0M118.2 450.6h0M102.4 437.5h0M100.3 454.7h0M91.8 452.7h0M105.6 466.1h0M93.9 455.7h0M85.6 433.5h0M107.3 446.1h0M95.7 440.3h0M118.6 443.4h0M95 463.7h0M98.8 438.8h0M100.5 434.1h0M123.8 459.9h0M107.2 427.9h0M126.7 421.1h0M101.4 448.6h0M111.5 426.3h0M129.3 456.5h0M109.9 463.8h0M83.5 465.9h0M128.5 426.8h0M124.3 466.9h0M105.6 456.3h0M92.5 460.3h0M101 421.4h0M117.3 448.1h0M90.9 429.4h0M117.8 466.4h0M124.5 463.4h0M81.5 458.9h0M117.7 460.6h0M90.9 450.2h0M90.7 438.9h0M124.5 448.2h0M112 444.6h0M127.4 461.4h0M110.6 466.9h0M103.4 427.7h0M84.7 446.4h0M100.2 459.1h0" stroke="#1b1fe2" stroke-width="2.6" stroke-linecap="round" fill="none"/>
<path d="M85 436.1h0M124 432.1h0M129.8 452.7h0M97.6 435.3h0M121.3 442.6h0M81.5 454.9h0M97.7 464.8h0M102.6 418.2h0M98.8 427.9h0M109.6 442.8h0M112 458.8h0M81.7 462.6h0M97.1 448.3h0M121.4 462.3h0M123.1 452.2h0M105.9 435.1h0M125.2 425.9h0M119 440.8h0M119.3 433h0M123.5 441.1h0M83.4 441.7h0M118 455.4h0M114.8 464.2h0M81.6 433.3h0M110.4 455.2h0M105.2 443.8h0M114.6 426.6h0M107.9 461.1h0M124.5 457.1h0M108.5 440.2h0M107.3 422.7h0M103 466.6h0M130.4 463.2h0M125.4 443.3h0M89.9 456.9h0M97.8 453.4h0M80.7 451.3h0M82.2 446.6h0M86.5 448.8h0M110.1 423.2h0M128.9 423.6h0M124.6 434.6h0" stroke="#2226ee" stroke-width="3" stroke-linecap="round" fill="none"/>
<path d="M126.8 450.6h0M105 462.5h0M103.6 451.3h0M82.1 437.5h0M128.8 433.6h0M118.8 426h0M110.2 429.4h0M107.8 437.2h0M85.9 453.6h0M107.6 418.8h0M114.6 442.8h0M86.7 429.2h0M116.9 418.6h0M94.1 436.3h0M119.1 449.7h0M92.3 453.4h0M85.5 434h0M119.2 443h0M100.1 434.4h0M126.1 421.6h0M130 457.2h0M127.8 427.1h0M92.1 459.9h0M90.4 430.3h0M80.8 459.3h0M91 439.1h0M128 461.1h0M84.3 446.5h0M123.3 431.9h0M121.6 442.7h0M102.9 418.4h0M112.7 459.5h0M121 461.8h0M125.1 425.5h0M123.7 440.6h0M114.7 463.4h0M105.7 444h0M124.4 457.2h0M102.5 467.4h0M89.7 456.5h0M82.5 447.3h0M128.1 423h0" stroke="#1b1fe2" stroke-width="2" stroke-linecap="round" fill="none"/>
<path d="M95 462.1h0M125.9 437.1h0" stroke="#1f8a5a" stroke-width="1.3" stroke-linecap="round" fill="none"/>
</g>
</g>
<clipPath id="hc20"><rect x="135" y="364.5" width="50.1" height="50.2"/></clipPath>
<rect x="135" y="364.5" width="50.1" height="50.2" fill="#020302" />
<g clip-path="url(#hc20)">
<g filter="url(#hb2)">
<path d="M160.4 394.9h0M154.1 395h0M169.4 396h0M167.1 388h0M156.6 410.6h0M158.2 388.3h0M171.3 403.7h0M162 395.6h0M180.8 397.4h0M165 398.9h0M156.1 406.9h0M168.7 382.5h0M167.4 383h0M147.8 387.4h0M176.9 411.7h0M137.9 397h0M164.4 407.3h0M143 382h0M139.7 399.7h0M178.1 410.6h0M153.7 397.1h0M153.6 385.9h0M137.7 391.6h0M151.4 386.8h0M149.3 385.8h0M145.6 386.7h0M177.7 388.7h0M148.3 391.6h0M153 382.8h0M139.9 412.6h0M165.5 385.6h0M149 412.7h0M169.3 411.2h0M169.2 407.4h0M170.2 391.3h0M183.2 412.3h0M157.2 393.1h0M142.4 397.1h0M150.6 383.8h0M180.7 401.1h0M140.7 408.5h0M171.8 392.9h0M142.8 381.2h0M144.2 413.7h0M170.3 385.8h0M138.8 392.3h0M183.9 381.2h0M155.1 410.7h0M173.2 406.1h0M159.8 379.9h0M155.9 403.4h0M183 385.5h0M142.9 387.5h0M155.9 411.2h0M183.8 405.5h0M147 406.9h0M160.8 391.9h0M160.9 408.4h0M147.1 398.4h0M178.5 411.5h0" stroke="#0d420b" stroke-width="5" stroke-linecap="round" fill="none" opacity="0.35"/>
</g>
<g filter="url(#hb)">
<path d="M176 400.7h0M174.6 397.8h0M165.9 397.5h0M154.4 375.4h0M163.7 378.4h0M148 393.8h0M161.2 408.7h0M173 396.9h0M159.6 395.8h0M175 389.7h0M175.3 390.4h0M144.1 386.3h0M148 402.3h0M142.7 396.7h0M151.9 380.1h0M177.8 399.4h0M173.3 400.3h0M150.7 379.3h0M149.2 393.1h0M140.8 406.4h0M158.7 404.8h0M174.9 384.1h0M160.9 372.3h0M174.6 412.9h0M177.6 404.6h0M165.2 401.9h0M149.3 386.7h0M164.3 404h0M163.5 372.7h0M172.6 385.8h0M137.4 401.3h0M166.7 396.6h0M171.6 377.3h0M147.2 397.7h0M136.2 380.7h0M168 397.4h0M141 395.9h0M138.2 383.4h0M158.5 391.9h0M151.8 377.2h0M149.5 387h0M173 392.5h0M172.1 397h0M184.1 402.3h0M175.5 395.3h0M180.8 405.7h0M183.8 405.9h0M148 368.6h0M140 402.5h0M181.4 407.4h0M138.9 395h0M172.8 387h0M139.5 400.8h0M168.9 374.2h0M165.9 398.3h0M158.4 378.6h0M160.1 391.7h0M183.1 400.9h0M141.6 403.8h0M158.2 413.1h0M142.7 384.3h0M147.5 386.5h0M174.8 395.7h0M180.2 384h0M145.6 386.6h0M176.1 388h0M147.9 367.1h0M140.9 402.1h0M170.5 402.2h0M166 393.5h0M162.4 400.9h0M139.3 384.9h0M143.5 396.8h0M173.4 386.4h0M148.3 369.1h0M163.5 399.6h0M139.8 399h0M148.2 395.8h0M164.8 378.4h0M178.1 404.6h0M178.2 402.1h0M165.7 405.1h0M169 370.3h0M139.3 396h0M152.6 380.3h0M165.3 381.2h0M157.5 368.3h0M150.2 382.6h0M148.2 393.5h0M145.1 369.8h0M135.4 370.4h0M162.2 400h0M167.4 412h0M137 391.1h0M174.4 411.2h0M152.3 383h0M145.6 392h0M161.5 407.5h0M172.4 388.5h0M184.6 383.2h0M146.7 391.5h0M169.1 411h0M172.9 389.3h0M137.5 394.3h0M175.6 388.8h0M143.9 389.7h0M152.3 376.4h0M150.2 397.3h0M183.4 401.3h0M183.8 405.6h0M167.1 374.5h0M171.9 391.7h0M179.6 385.8h0M175.4 385.3h0M150.3 367h0M173.5 389.6h0M165.1 372.2h0M165.8 374.2h0M146 391.8h0M144.5 381.5h0M167.5 390.1h0M171 413.2h0M139.8 397.2h0M141.7 384.5h0M159.8 409.2h0M138.4 381.5h0M142.8 392.7h0M145.3 386.7h0M172.6 413.9h0M138 390.6h0M154.9 386h0M164.3 404.6h0M148.7 408.7h0M140.5 387.2h0M164.6 395.4h0M184.1 407.5h0M151.2 388.7h0M144.2 397.8h0M179.3 395.3h0M163.8 376.4h0M144.6 393.9h0M151.3 380.6h0M155.3 380.3h0M174.8 407h0M163.3 377.1h0M136.7 376.8h0M141.9 391.7h0M141.5 389.8h0M184.8 410.9h0M178.3 398.9h0M180.3 384.6h0M147.4 370.6h0M158.3 376.9h0M137.2 394.3h0M152.5 379.3h0M183.3 407.7h0M175.5 401.4h0M166.5 409.7h0M140.7 414.4h0M161.4 375.7h0M152.3 367.9h0M169.5 399.1h0M176.7 386.3h0M140.8 398.9h0M170 372.5h0M162.6 379.5h0M176.7 410.4h0M150.9 389h0M138.5 379.2h0M148.8 396.6h0M153.1 374.9h0M147.6 389.6h0M145 398.6h0M145.4 390.7h0M165.4 379h0M153.9 385.7h0M146.9 394.3h0M150.7 394.5h0M172.5 374.3h0M178.4 389.9h0M160.6 413.8h0M144.4 396.1h0M141.1 383.9h0M151.1 393.7h0M174 401.8h0M151.7 392h0M168.3 371.8h0M135.6 392.2h0M163.5 393.8h0M176.2 387.4h0" stroke="#196014" stroke-width="1.15" stroke-linecap="round" fill="none"/>
<path d="M179.3 406.6h0M176.6 393.2h0M177.9 400.3h0M173.4 394.1h0M140.3 391.4h0M142.3 394.9h0M181.4 407h0M172.2 392.4h0M144.2 378.5h0M170.3 410.1h0M156.4 412.9h0M172 413.8h0M172.9 407.7h0M175.2 395.5h0M143.7 385h0M146.2 383.1h0M170.6 412.2h0M173.7 408h0M170.3 413.3h0M138.4 391.4h0M146.3 385.6h0M145 385.1h0M178.3 395.1h0M168.7 403.5h0M144.5 381.1h0M181.1 413.8h0M168.4 405.2h0M180 402.6h0M173.2 408.4h0M138 391.5h0M138.1 405.6h0M173.4 396.7h0M169.2 404.6h0M141.4 392.9h0M171.4 412.8h0M143.1 392.2h0M148.7 379.5h0M170.3 409.5h0M144.4 380.9h0M147.8 380.8h0M176 411.1h0M166.6 403.6h0M150.9 388.7h0M138.8 399.5h0M175.3 403.9h0M174.1 404.6h0M178.2 396.1h0M176.6 397h0M175.4 414.5h0M147.7 385.6h0M144 394h0M174.1 387.6h0M176.5 396.1h0M177.9 410.4h0M179.1 406.9h0M174.3 403.2h0M143.3 384.8h0M181 400.3h0M151.7 386.9h0M148.3 386.3h0" stroke="#35a028" stroke-width="1" stroke-linecap="round" fill="none"/>
<path d="M170.6 383.6h0M170.1 387.6h0M145 392.1h0M144 394.6h0M150 411.2h0" stroke="#58cc42" stroke-width="1.4" stroke-linecap="round" fill="none"/>
</g>
</g>
<clipPath id="hc21"><rect x="135" y="417.1" width="50.1" height="50"/></clipPath>
<rect x="135" y="417.1" width="50.1" height="50" fill="#020302" />
<g clip-path="url(#hc21)">
<g filter="url(#hb)">
<path d="M163.6 437.1h0M178.6 424.2h0M146 436.7h0M164.4 430.7h0M155.3 423.1h0M164.5 454.8h0M161.5 457.4h0M144.9 439.7h0M184.9 420.4h0M144.3 443h0M162.4 424.4h0M169.7 443.2h0M176.3 420.8h0M161.5 459.4h0M145.6 444.2h0M156.7 447.6h0M148.7 450.5h0M167 438.9h0M163.4 433.4h0M167.5 438.6h0M156.5 448.4h0M159.6 449.7h0M162 455.1h0M155.7 452.3h0M179.6 422.7h0M161.1 427.1h0M144.3 442h0M141.7 461.1h0M159 422.1h0M180.8 425.8h0M144.7 437.1h0M165.4 431.4h0M144.2 442.1h0M158.7 451.9h0M155.2 439.3h0M178.4 419.8h0M162.5 459.3h0M177.7 420.8h0M152 420.9h0M157.5 448.7h0M166 445.9h0M178.2 417.5h0M164.9 457h0M146 426.7h0M162.6 433h0M140.1 443.1h0M143.8 451.3h0M139.7 445.9h0M162.7 437.4h0M152.6 439.5h0" stroke="#1b7040" stroke-width="1.3" stroke-linecap="round" fill="none"/>
<path d="M171.8 450.2h0M137.3 455.4h0M138.4 428.8h0M174 455.5h0M146.7 442.5h0M175.1 447.3h0M161.3 426.3h0M138.4 426.5h0M161.3 446.9h0M158.1 448.9h0M163.3 449.4h0M155.6 459.2h0M161.6 461.1h0M184.4 458.5h0M173.7 451.6h0M162.7 429.5h0M140.1 450.2h0M147.4 447.7h0M156.5 429.1h0M150.2 451.9h0M179.4 433h0M150.7 439.5h0M175.5 453.4h0M150.7 458.6h0M155.9 444.9h0M161 435.3h0M135.5 431h0M158.9 464.7h0M141.9 462.2h0M149 418.1h0M179.1 420.5h0M149.9 464h0M168.8 458.3h0M176.8 426h0M160.3 421.8h0M175.9 431.6h0M168.4 424.2h0M147.9 420h0M164.1 446.4h0M170.7 438.1h0M181.9 453.2h0M144 431.7h0M182.9 451.1h0M137.3 464.3h0M158.4 427.4h0M173.2 448.5h0M158.4 434.7h0M164.1 424.6h0M147.7 423h0M136.4 443.4h0M168 431.4h0M177.3 429.3h0M143.9 453.7h0M142.8 436.4h0M154 433.8h0M153.1 425.1h0M155 421.8h0M174.9 434.8h0M183.8 461.1h0M180.8 463.6h0M138.5 435.3h0" stroke="#1b1fe2" stroke-width="2.1" stroke-linecap="round" fill="none"/>
<path d="M151.4 448.2h0M138.7 438.2h0M159.3 459.2h0M168.4 428.9h0M165.9 437.8h0M148.6 432.6h0M168.6 464.1h0M171.2 441.9h0M169.6 450.8h0M139.6 419.6h0M161.3 455h0M143 421.8h0M171.5 421.1h0M142 441.6h0M149.9 456.3h0M160.4 443.3h0M153.7 418.5h0M176.4 422.4h0M169 419.2h0M161.1 431.6h0M162.3 464.1h0M167.7 434.3h0M159.5 438.5h0M161.4 419.9h0M147.1 452.9h0M171.8 455.6h0M154.8 454.8h0M136.3 440.5h0M171.7 460.2h0M160.4 451.7h0M155.6 426.1h0M144.9 456.8h0M165.8 458.6h0M182.7 426.2h0M144.3 425.5h0M137.1 449.4h0M167.5 440.4h0M150.4 420.6h0M172.3 425.9h0M166.9 420.9h0M139.1 458.9h0M135.5 425.7h0M177.8 465.6h0M139.3 454.1h0M182.1 430.7h0M179.9 461h0M143.4 450.4h0M148.8 435.2h0M171.8 444.7h0M176.9 456.4h0M138.2 431.2h0M158.2 432h0M137.5 418.5h0M163.1 443.2h0M150.3 428.3h0M153.4 446.4h0M165.4 430h0M164.8 453.9h0M175.1 443.6h0M180.7 466.4h0M141.4 425.9h0M154.4 463.2h0" stroke="#1b1fe2" stroke-width="2.6" stroke-linecap="round" fill="none"/>
<path d="M137.6 422.6h0M135.4 466.1h0M139 440.8h0M174.5 464.2h0M166.8 445.4h0M181.2 428.1h0M144.9 440h0M145.7 446.3h0M146.1 437.6h0M143.9 444.4h0M175.4 459.9h0M146.7 429h0M164.1 421.4h0M142.3 465.4h0M166.3 417.4h0M157.5 441.2h0M146.6 463.3h0M152.6 454.1h0M171 429.7h0M165 462.5h0M183.8 421.7h0M165.9 447.8h0M165.7 442.4h0M160.4 466.6h0M175.7 450.5h0M175.3 467h0M159.3 461.6h0M139.6 465.4h0M172.7 431.8h0M172.1 464.9h0M175.6 418.3h0M171.9 434.3h0M158 456.5h0M181.1 423.4h0M135.4 461.5h0M141.3 430.5h0M151.8 434.6h0M153.4 427.7h0M163.9 419.1h0M169.4 461.5h0M178.1 418h0M136.4 433.9h0M156.5 417.4h0M178.8 427.6h0M151 425.8h0M147.3 466.8h0M152.8 466h0M184.7 429.9h0M152.8 456.6h0M145.9 418.1h0M179.8 456.1h0M155.4 431.7h0M162.8 452.8h0M140.1 433h0M158.2 419h0M183.8 464.2h0M166.7 449.9h0M184.6 456.2h0M168.5 454.2h0M145.1 461h0M181.4 459.3h0M178.6 452.6h0" stroke="#2226ee" stroke-width="3" stroke-linecap="round" fill="none"/>
<path d="M171.7 451h0M174.5 455h0M161.7 427h0M157.2 449.7h0M161.5 461.7h0M161.8 429.2h0M156.2 428.6h0M151 440h0M156.2 445.7h0M158.2 464.3h0M178.9 421h0M177.2 426.9h0M169.1 424.2h0M171.2 438.7h0M182.9 451.4h0M173.8 449.1h0M147.1 422.2h0M177.7 429.9h0M153.4 434.5h0M175.3 434.2h0M137.8 435.6h0M159.5 458.6h0M149.3 432.1h0M170.2 451.6h0M142.3 422.2h0M150 457.1h0M176.3 422.2h0M161.8 464.8h0M161 420.6h0M154 455.5h0M159.5 452.1h0M166.6 458.3h0M137.2 449.2h0M171.5 426.5h0M135.5 426.3h0M181.3 430.1h0M148.3 435.8h0M137.3 430.3h0M162.9 443h0M166 430.7h0M180.2 466.8h0M137.4 423.1h0M174.8 463.4h0M144.8 439.9h0M143.9 444.5h0M164.5 421.2h0M157.5 441.8h0M171.3 429.1h0M165.2 447.4h0M176.6 450.3h0M140.2 466.2h0M176 418h0M181.5 423.4h0M152.6 434.6h0M169.6 461.8h0M156.7 416.8h0M147.5 466.7h0M153.1 457.1h0M154.9 431.5h0M157.8 419.8h0M184.6 456.1h0M182.2 459.8h0" stroke="#1b1fe2" stroke-width="2" stroke-linecap="round" fill="none"/>
</g>
</g>
<clipPath id="hc30"><rect x="188" y="364.5" width="50.2" height="50.2"/></clipPath>
<rect x="188" y="364.5" width="50.2" height="50.2" fill="#020302" />
<g clip-path="url(#hc30)">
<g filter="url(#hb2)">
<path d="M231.1 389.8h0M194.4 383.2h0M192.2 384.6h0M210.6 388.6h0M237.1 391.2h0M196.3 373.5h0M222.1 390.4h0M208.6 389.3h0M208.6 398.5h0M217.8 366.9h0M212.9 377.1h0M217.2 387.7h0M226.2 412.9h0M225.2 395.5h0M213.5 370.2h0M224.7 374.4h0M207.1 393.8h0M201.3 407.8h0M215.4 413.3h0M189.1 387.8h0M204.2 393.4h0M220.5 394.2h0M235.2 386.6h0M206.6 402.1h0M215.8 378h0M234.3 375.8h0M191.8 391.5h0M233.7 407.4h0M229 395.2h0M213.7 379.1h0M196.3 386.7h0M229.8 392.3h0M237.3 404.7h0M215.3 394.2h0M209 410h0M229.8 373.5h0M233.3 398.5h0M206.1 401.9h0M209.2 399.3h0M213.3 396.2h0M234.2 409.2h0M212.1 383.9h0M223.9 398h0M192.8 390.1h0M202 397h0M196.4 379.5h0M200.7 378.6h0M216.4 407.8h0M220.2 397h0M226.2 384.1h0M209.5 397.2h0M198.4 402.3h0M234.2 408.7h0M191.3 410.5h0M199.2 371h0M219 381.9h0M197 395h0M214.9 391.4h0M213.7 395.5h0M227 400.7h0M223.4 406h0M211.6 396.6h0M193.7 368.6h0M210.7 398.7h0M199.8 412.7h0M202.5 389.2h0M211.5 413.2h0M195.7 377.1h0M219.8 382.7h0M205.2 371.1h0M234 386.7h0M217 376.8h0M235 369.8h0M223 367.8h0M214.7 380.8h0M235.7 386.5h0M230.1 366h0M199.8 414h0M206.6 366.4h0M201 382.7h0M214.5 383.7h0M203.3 388.3h0M211.5 373.7h0M214 393.5h0M216.8 401.6h0M210.7 375.2h0M235.3 370.4h0M203.2 385.4h0M208.7 375.1h0M231.2 379.7h0M215.5 395.1h0M194.6 386.1h0M194.7 391.7h0M224.7 407.4h0M235.2 370.2h0M211 397.9h0M206.8 411.9h0M212.8 408.1h0M191.4 384h0M223 406.5h0M212.9 407.6h0M226.1 385.2h0M223.6 390.4h0M193.7 409.7h0M230.4 409.3h0M199.8 403.5h0M189.9 389.6h0M203.2 389.9h0M207.2 392.1h0M209.8 402.6h0M221 378.4h0M198 376.4h0M204.4 385.8h0M213.3 402.9h0M237.3 377.6h0M202.8 390.5h0M188.3 396.4h0M189.9 394.3h0M217.5 383.7h0M237.7 380.2h0M188.9 369.9h0M200.1 401.5h0M225.1 382.3h0M232.3 372.7h0M199.5 393.2h0M214.7 404.2h0M203.5 409.8h0M219.7 399.1h0M216.8 375.1h0M216.3 411.8h0M188.8 381.1h0M203.5 377.3h0M226.7 397h0M194.7 399.9h0M232.1 367.8h0M189 394.7h0M232.2 392.1h0M213.4 384.9h0M216.4 410.3h0M218 402h0M211.4 408.9h0M226.6 390h0M203.1 379.6h0M237.1 396.6h0M191.6 390.6h0M209.5 394.6h0M202.2 409.9h0M212.2 406.1h0M201 409.1h0M215.4 391.9h0M209.8 411.8h0M216.2 391.3h0M206.2 387.5h0M201.6 386.8h0M201.2 368.4h0M206.3 365.9h0M221.3 369.3h0M233.4 380.4h0M201.6 392.1h0M202.6 400.8h0M203.3 410.7h0M190.1 367.3h0M232.3 399.1h0M201.2 396.8h0M206.1 390h0M201.8 391.6h0M220.6 407h0M200.9 393.1h0M216.5 408.4h0M212.1 407.9h0" stroke="#176a14" stroke-width="5.5" stroke-linecap="round" fill="none" opacity="0.6"/>
</g>
<g filter="url(#hb)">
<path d="M234.4 385h0M208.4 413.1h0M217.1 391.1h0M227 394.8h0M214 397.5h0M201.1 383.5h0M188.4 400.7h0M229.4 401.5h0M236.8 402.4h0M193.4 380.6h0M234.3 369.9h0M232.1 404.5h0M195.4 375h0M224.7 397.3h0M189.5 391.1h0M197.5 407.6h0M214.9 365.2h0M207.9 365h0M233.5 409h0M224 364.6h0M235.1 377.8h0M220.7 402.8h0M216.1 370.3h0M200.3 401.2h0M194.2 383.4h0M234.8 385h0M195.7 397.1h0M205.5 404.1h0M206.3 406.1h0M229.4 373.4h0M215.4 386.9h0M194.2 410.3h0M205.2 395.2h0M191 412.2h0M237.2 398.8h0M194.6 397.8h0M211.5 388.3h0M199 372.1h0M230.4 394.8h0M225.5 401.6h0M208.1 392.1h0M203.2 397.4h0M209.6 403.9h0M202.6 383.7h0M192.1 366.5h0M198.8 365.3h0M209.3 383.5h0M232.3 366.6h0M237.4 369.3h0M229.7 382.5h0M200.3 395.2h0M205.9 365.3h0M194.6 398.6h0M224.1 414.4h0M200.7 403.1h0M205.2 390.4h0M202 385.2h0M233.9 377.1h0M209.3 410.1h0M210.7 405.3h0M214.8 382.1h0M224.2 397.3h0M207.1 414.6h0M192.6 407.2h0M224.2 400.1h0M211.8 402.1h0M190.2 398.1h0M231.5 385h0M225.2 399.4h0M213.2 403.2h0M212.3 370.5h0M214.3 402.3h0M196.2 387.7h0M229.9 365.2h0M231.3 382.1h0M206.2 399.6h0M216.8 378.9h0M195.8 385.6h0M232.7 414.4h0M224 399.4h0M222.5 410.4h0M196.1 371.8h0M230.4 365.5h0M214.3 384.7h0M234.1 395.9h0M199.3 367.7h0M211.7 392.2h0M211.5 393.7h0M191.1 382.5h0M229.7 379h0M197.5 373.5h0M235.1 408.1h0M208.3 381h0M206.5 408.8h0M233.6 412.3h0M231 398.6h0M193.9 411.8h0M196.4 401.6h0M205.9 366.3h0M221 377.3h0M232.6 373.6h0M221.5 386.4h0M190.4 378.6h0M203.5 403.4h0M226.7 411.5h0M196.3 375.1h0M206.7 380.6h0M198.4 402.3h0M188.3 391.5h0M194.7 380.2h0M202.7 387.7h0M235.1 401.5h0M209.6 414.2h0M200.7 374h0M219.9 403.2h0M224.3 390h0M224.3 381.2h0M235.6 401.7h0M228.2 391.6h0M234.1 388.1h0M235.7 386.8h0M235.7 380.4h0M213.9 392.6h0M215.6 406.8h0M230.6 373.6h0M223.4 390.9h0M208.3 370.3h0M233.7 414.1h0M224.4 393.2h0M192.2 380.6h0M204.5 368.8h0M206.8 382.9h0M208.7 368h0M194.6 412.3h0M215.8 376.2h0M210.6 382.7h0M212.4 373.4h0M225.4 411.3h0M219.5 412.7h0M228.9 391.5h0M214.2 399.2h0M206.4 368.3h0M210.7 405.5h0M221.9 366.5h0M229.5 366.9h0M214 373.4h0M203.1 376.1h0M218.9 400.2h0M232.4 389.9h0M191 366.4h0M192.3 370.9h0M196.8 379.4h0M195.5 407.2h0M206 388.6h0M227.4 373.6h0M213.2 366.6h0M212.3 411.1h0M216.5 379.7h0M219.8 389.7h0M213 396.4h0M223.7 409.2h0M237 412.8h0M228.7 398.8h0M228.2 374.2h0M197.9 406.8h0M209.9 365.5h0M225.4 371.2h0M201.7 410.7h0M197.5 406h0M201.4 404.3h0M207.1 392.7h0M222.3 400.5h0M198.4 398.2h0M196.3 376.8h0M227.1 372.2h0M208.8 370.2h0M217.2 373.3h0M206.1 413.6h0M210.4 389.6h0M189.6 377.7h0M193.3 395.6h0M195.7 373.4h0M195.2 401.7h0M220.7 379.2h0M203.8 378.4h0M215.5 393.1h0M194.7 372.2h0M219.4 378.5h0M221.4 373.3h0M192.9 368h0M231 391.4h0M189 382.4h0M219.7 375.5h0M229.8 364.7h0M214.4 393.3h0M197.5 414.1h0M215.4 371.1h0M225.9 365.9h0M222.2 406.4h0M220.1 365.7h0M191.2 406.2h0M230.5 378h0M234.6 405.3h0M193.4 408.9h0M188.7 380.8h0M198.5 375.1h0M213.1 366.8h0M236.5 375.1h0M222.2 382.2h0M234.1 392.6h0M212.9 402.7h0M216.2 387.1h0M196.7 404.6h0M219.6 387.8h0M237.6 387.8h0M225.2 372.7h0M206 396.2h0M201 414.5h0M237.7 396.9h0M224.1 378.1h0M226.8 407.7h0M211 392.9h0M220.9 377h0M190.3 373.6h0M214.4 396.5h0M231 377.9h0M196.4 385.6h0M196.2 377.5h0M212.5 398.9h0M193.3 373.2h0M211.7 390.7h0M196.8 397.6h0M216.3 412.8h0M235.9 396h0M192.4 390.7h0M201.6 378.5h0M191.8 399.2h0M221 378.3h0M199.6 414.3h0M215.7 399.5h0M200.3 411.8h0M224.1 390h0M193.6 386.4h0M189.2 375h0M227.2 370.1h0M198.3 381.6h0M236.6 372.8h0M208.9 391.2h0M190.3 392.8h0M191.5 380.5h0M204.2 414.6h0M210 379.5h0M204.5 379.6h0M196.1 380.4h0M222.7 382.2h0M199.5 366.4h0M227.5 379.5h0M201.6 407.1h0M236.7 392.1h0M191.5 406.5h0M226.3 365.4h0M202.4 406.4h0M211.9 373.4h0M237.4 375.2h0M197.1 399.4h0M237.5 400h0M189 365.5h0M198.8 397.9h0M236.2 370.3h0M221.6 398.4h0M189.5 409.8h0M203.7 383.3h0M227.8 391.8h0M219.4 367.4h0M219.2 372h0M229.4 403.4h0M220.6 396.9h0M237 406.1h0M223.9 382.6h0M188.6 414.7h0M191.2 366.7h0M217.9 414.3h0M210.4 375h0M189 372.6h0M206.2 382h0M201.5 408.6h0M238.2 413.6h0M197.8 399.5h0M196.2 387.7h0M213.1 380.3h0M227.4 375.5h0M228.3 403h0M219.6 368.3h0M194.1 405h0M236.1 376.5h0M221.5 402.5h0M231.6 371.3h0M198.3 367.7h0M222.8 382.5h0M223 372.8h0M220 378.2h0M210 394.1h0M235.7 374.1h0M227.3 367h0M196.9 399.5h0M192.2 406.7h0M232.6 375.5h0M223.5 397.1h0M237.1 389.4h0M206.5 408.6h0M201.4 410.3h0M206.2 384.9h0M229.9 402.5h0M197.3 397.6h0M237.6 384.6h0M216 397.4h0M224.1 384.1h0M207.1 373.4h0M219.4 381.1h0M227.5 366.7h0M226.1 372.5h0M231.6 405.8h0M205.9 369.5h0M198.6 374.9h0M237.1 405h0M189.2 364.9h0M216.1 387.3h0M215.7 406.7h0M230 371.3h0M236.6 387.5h0M211.6 372.1h0M200 373.8h0M202.1 391.8h0M200.9 378h0M193.6 368h0M233.7 386.5h0M210.7 371.1h0M237.4 365.1h0M227.4 366.7h0M202.5 388.9h0M210.9 399.9h0M216.6 399.7h0M191.4 379.2h0M201.8 388.7h0M209 369.9h0M194.5 367.6h0M190.8 397h0M236.4 394.3h0M197.9 395.2h0M212.9 378.7h0M228.4 377.7h0M203.4 366.8h0M200.2 410.8h0M212.1 401.1h0M212.6 377.8h0M205.8 390.1h0M203.5 390.4h0M189.3 384h0M193.8 388.5h0M214.6 410.2h0M231.8 409.4h0M210.3 379.3h0M230.5 370.5h0M207.1 367.6h0M228.8 401.9h0M234.5 373.8h0M230 399.5h0M215.3 386.8h0M228.4 388.2h0M235.5 411h0M206.4 391.5h0M209.6 409.7h0M230.9 384.6h0M206.5 380.4h0M221.3 397.9h0M219.2 390.7h0M221.7 364.8h0M212 399.3h0M224.6 405.4h0M199.3 411h0M236.6 395.6h0M229.2 374.4h0M197.4 375.4h0M214.8 409.3h0M205.6 411.4h0M229.7 366.7h0M189.5 414.6h0M213.1 403.6h0M231.2 379.7h0M188.8 408h0M234.8 384.5h0M221.2 365.1h0M235.2 395.2h0M237.1 399.1h0M206 373.5h0M213.8 407.9h0M214.8 391.6h0M199 371.9h0M200 379.8h0M211.7 411.8h0M201.6 376h0M225.2 411.6h0M199.8 379.5h0M208.8 367.6h0M192.7 392.2h0M200.3 376.2h0M228.4 388.7h0M216.3 397.4h0M225.3 410.7h0M236.7 370.1h0M225.2 365.8h0M194 377.4h0M194.5 372.1h0M199.7 405.3h0M227.5 389.7h0M215.6 402h0M217.7 368.4h0M211.1 374.7h0M211.6 413.6h0M197.9 380.7h0" stroke="#1f721a" stroke-width="1.4" stroke-linecap="round" fill="none"/>
<path d="M217.2 397.6h0M203.3 384.3h0M213 411.2h0M190.5 409.2h0M216 410.5h0M207.6 397.1h0M189.2 375.7h0M220.6 381h0M214 413.8h0M216.1 398.1h0M216.3 377.2h0M237.5 383.6h0M189.2 385.8h0M208.8 374.8h0M209.5 368.1h0M235.2 390.6h0M202.4 392h0M217.7 384h0M228.6 387.4h0M234.3 403h0M222.8 372.7h0M223.3 413.7h0M228.8 366.7h0M202.2 364.6h0M221.4 409h0M222.5 397.8h0M215.2 401.2h0M215.4 404.6h0M195.8 388.1h0M219.6 367.9h0M216.2 410.4h0M192.4 401.4h0M224.1 409.2h0M236.5 396.5h0M218 388.3h0M210.1 394.7h0M205 404.6h0M215.4 386.3h0M213.9 400.1h0M230 405.4h0M223.6 376.8h0M188 370.6h0M192.2 390h0M191.9 388.3h0M226 386.6h0M231.8 382.6h0M212.3 377.8h0M194.6 393.5h0M194.2 371.9h0M202.6 401.1h0M237.1 375.4h0M200.1 413.2h0M217.1 404.5h0M238.2 397.6h0M200.4 413.8h0M232.8 364.6h0M236.6 397.1h0M199.6 388.3h0M203.1 403.4h0M208.1 368.8h0M232.6 381.1h0M196.7 399.6h0M194.5 394.9h0M210.3 370.6h0M235.9 399.3h0M190.8 409.7h0M220.4 405.8h0M226.8 373h0M203.8 373.2h0M228.7 412.1h0M216.8 397.9h0M237 390.6h0M210.1 378.6h0M237.5 370.6h0M197.6 407.2h0M189.4 374.4h0M214.5 376.4h0M207.3 365.8h0M221.6 368.2h0M202.5 369.6h0M222.9 375.4h0M215.8 366.2h0M216.4 381.7h0M233.6 374.2h0M202.9 408.1h0M191.1 389.1h0M212.4 379.1h0M196.4 389.5h0M189.5 365h0M202.4 383.5h0M201 400.2h0M208.9 395.1h0M217.6 400.2h0M234.8 392.7h0M222.9 392.4h0M191.8 406.4h0M214.5 366.5h0M225.3 389.7h0M235.6 385.4h0M211.6 409.5h0M234.6 403.2h0M210.3 386.1h0M224.9 409.5h0M211 399.8h0M216.2 392.2h0M198.7 378.6h0M200.8 413.9h0M189.3 375.5h0M198.2 405.5h0M221.7 380h0M193.4 398.3h0M225.5 396.7h0M223.9 394.5h0M189.5 404.4h0M231.7 372.9h0M207.2 413.9h0M237 405.5h0M230.3 372.4h0M231.9 405.8h0M198 410.3h0M228.8 410.5h0M233.1 369.2h0M196.5 405h0M196.7 382h0M227.6 406.2h0M208.1 385.2h0M222.9 414.5h0M219.5 381.9h0M200.1 373.9h0M218.7 400.6h0M199.2 401.8h0M218.3 393.2h0M214.4 385.1h0M188.8 391.5h0M221.2 409.1h0M236.8 397h0M196.1 407.6h0M208.8 412.9h0M235.4 369h0M190.6 367h0M221.9 389.2h0M219.3 380.8h0M217.8 369.3h0M198.4 401.3h0M199.5 370.2h0M220.6 413.9h0M235 408.8h0M223.8 364.9h0M195.8 393.7h0M214.7 406.5h0M189.5 395.9h0M191.6 402.4h0M192.5 388.9h0M226.8 414h0M228 403.8h0M203 396.6h0M215.2 389.3h0M217.9 386.8h0M207 402.8h0M220.5 413.5h0M234.5 404.7h0M193.5 389.8h0M212.9 404.2h0M233.7 374.4h0M188.5 408.2h0M237 381.5h0M218.2 383.8h0M207.3 396.5h0M222.7 409.7h0M206.3 389.3h0M210.6 414h0M214 410.6h0M236.6 365.9h0M226.7 370.1h0M213 396.1h0M191.9 393.5h0M222.7 382h0M215.1 384.4h0M195.6 377.3h0M235.3 396.5h0M215.2 404.9h0M230 402.5h0M208.1 391.6h0M204.2 367.7h0M234.4 368.5h0M206.7 407.3h0M203.6 410.3h0M189.1 372h0M210.5 396.4h0M227.8 409.5h0M229.1 373.8h0M237.8 366.8h0M211.4 382h0M189.2 374.7h0M237.9 413.2h0M205.3 414.7h0M225.1 366.2h0M218.3 374.8h0M202 400.5h0M198.4 382.2h0" stroke="#38a02b" stroke-width="1.05" stroke-linecap="round" fill="none"/>
<path d="M196.6 370.3h0M233.8 372.6h0M235.4 387.8h0M218 381.2h0M195.6 371.3h0M199.5 370.3h0M220.8 380.1h0M207.9 410.5h0M235.7 383.3h0M199.1 371.2h0M220.8 378h0M189.2 376.7h0M194.1 372.7h0M233.7 385.3h0M193.3 407.7h0M215.7 381.2h0M216.8 381.7h0M220.5 380.4h0M218.7 378h0M209.9 403.2h0M218.7 384.1h0M234.7 378.5h0M232.7 386.7h0M198 373.6h0M231.7 369.8h0M195.2 409.1h0M199.3 399.4h0M221.3 379.4h0M220.1 379.2h0M193.7 371.7h0M195.8 396.4h0M218.5 379.7h0M221.2 378.2h0M214.5 407h0M235.3 378.4h0M232.3 380.7h0M233.8 381.8h0M194.4 373.4h0M221.1 378.7h0M192.8 377.3h0M194.5 373.9h0M198.3 366.8h0M196.4 369.5h0M194.3 373.7h0M195.3 375.3h0M237.7 383.7h0M197.6 398.5h0M192.5 374.3h0M231.6 370.1h0M196.7 409.7h0M233.2 385.1h0M209.2 408.3h0M211.1 410.7h0M233.5 374.5h0M221.8 380h0M237.4 384.5h0M233.7 369.7h0M236 373.7h0M221 381h0M234 380.7h0M234.4 376.7h0M198.2 364.9h0M237.7 380.3h0M235 384.2h0M191 412.9h0M233.3 370.9h0M236.3 383.8h0M199.1 368.6h0M234.5 385.3h0M197 369.5h0" stroke="#62d648" stroke-width="1.25" stroke-linecap="round" fill="none"/>
</g>
<g filter="url(#hb3)" fill="#010401">
<path d="M193.02 385.58Q203.06 394.62 213.1 392.11Q219.12 390.1 222.64 383.58Q224.14 394.62 216.11 398.64Q206.07 401.15 199.04 396.13Q194.02 392.11 193.02 385.58Z"/>
<ellipse cx="207.08" cy="364.5" rx="10.04" ry="3.51"/>
<ellipse cx="227.16" cy="366.01" rx="8.53" ry="5.02"/>
<ellipse cx="223.64" cy="378.05" rx="2.26" ry="8.53" opacity="0.85"/>
<ellipse cx="199.04" cy="380.56" rx="2.51" ry="6.02" opacity="0.8"/>
<ellipse cx="213.1" cy="409.68" rx="2.51" ry="3.01" opacity="0.7"/>
</g>
</g>
<clipPath id="hc31"><rect x="188" y="417.1" width="50.2" height="50"/></clipPath>
<rect x="188" y="417.1" width="50.2" height="50" fill="#020302" />
<g clip-path="url(#hc31)">
<g filter="url(#hb2)">
<path d="M199.7 441.2h0M195.5 441.5h0M221.4 417.7h0M193.8 458.7h0M226.1 455.7h0M201.7 433.8h0M228.3 456.7h0M221.6 423.1h0M224.8 466.2h0M194.7 425.2h0M189.5 443.9h0M201.7 437.1h0M188 418h0M215.1 443.6h0M200.5 428h0M227.3 451.6h0M215.2 444h0M202.6 453.2h0M201.6 434.9h0M217.7 448.2h0M206.8 454.7h0M229.9 448.4h0M203.3 455.6h0M207.9 423.9h0M188.5 432.2h0M189.4 452.4h0M219.2 443.5h0M233.8 450.2h0M209.6 426.1h0M190.1 446.6h0M232.9 466.7h0M235.4 427.2h0M192.7 421h0M207.1 444.8h0M214.8 425.1h0M201.7 458.1h0M194.5 458.6h0M206.5 424.9h0M234.1 459.6h0M233.2 462.5h0M201.7 441h0M204.6 454.2h0M208.8 431.7h0M189.7 456.5h0M188.2 442.2h0M206 456.9h0M206 460.1h0M233 418.2h0M231.2 444.2h0M208.4 427.1h0M200.9 417.6h0M194 462.5h0M200.1 461.6h0M214.9 443.6h0M194.8 450h0M215.7 434.1h0M212.3 417.5h0M219.7 462.2h0M196 423.4h0M207.4 449.6h0M224.9 463.5h0M200.1 453.9h0M196.4 432.5h0M214.3 445h0M210.5 436h0M199.9 429.9h0M204 423.4h0M207.2 421.1h0M219.5 449.4h0M210.3 454h0M230.5 455.8h0M228 435.4h0M198.8 464.4h0M225.7 455.2h0M220.1 431.6h0M189.8 462.2h0M201.4 466.7h0M210.6 438.7h0M191.4 425h0M225.2 463.6h0M220 433.9h0M203.2 435.4h0M226.8 459.1h0M194.6 442.2h0M226.8 429.2h0M216.9 417.2h0M191 462h0M229.4 417.9h0M209.1 466.2h0M205 459.1h0M234.6 455.7h0M215.1 427.1h0M237.5 459.2h0M195.2 454.9h0M192.5 424.9h0M236.2 464.1h0M191 431.7h0M197.4 457.2h0M230.6 446.3h0M205.1 418h0M194.6 452h0M198.8 423.7h0M234.8 465.2h0M228.2 442.2h0M224.3 432.4h0M231.8 426.5h0M217.8 454.7h0M195.8 430.4h0M194.6 434.9h0M220 434.7h0M231.8 466.2h0M229.5 438.6h0M192.4 455.2h0M214.3 448.3h0M217.8 464.9h0M230.4 462h0M225.8 439.2h0M225 429.6h0M223.5 426.8h0M237.5 445.8h0M216.5 426.5h0M201.1 459.2h0M204.3 425.1h0M198.5 444.5h0M198.7 465.4h0M218.9 435.2h0M205.4 437.1h0M230 427.2h0M203.7 429.2h0M229.4 461.1h0M197.6 442.8h0M217 453.1h0M237.1 419.4h0M203.4 455.3h0M204.9 424.9h0M230.9 439.6h0M196.3 433.5h0M206.7 424.5h0M215.8 417.6h0M195.3 467h0M216.4 435.1h0M231 436.6h0M226 434.4h0M237 447.5h0M203.1 451.3h0M221.2 442.5h0M232.3 465.9h0M235.6 466.8h0M229.1 423h0M189.1 440.6h0" stroke="#176a24" stroke-width="5.5" stroke-linecap="round" fill="none" opacity="0.6"/>
</g>
<g filter="url(#hb)">
<path d="M195.5 439.7h0M236.1 463.8h0M220.2 424.4h0M191.8 422h0M238.1 420.4h0M201.4 452.6h0M222 466.3h0M224.5 458.3h0M214.6 455.7h0M211.8 419.7h0M228.9 420.7h0M195.3 437.6h0M202.9 463.4h0M210.8 452.5h0M206.1 424.5h0M204 462.2h0M223.4 440.7h0M216.6 426.3h0M204.8 446h0M223.4 423.2h0M236.8 423.7h0M198.4 442.4h0M194.5 466.8h0M207.3 432.5h0M216.1 458.4h0M216.4 446h0M215.7 424.1h0M195.1 441.8h0M207.6 455.5h0M201.7 442.4h0M216.3 465.4h0M212.4 453.9h0M232.4 455.6h0M218.9 444h0M189.4 458.5h0M229.8 439.4h0M203.1 459.2h0M227.6 433.9h0M222.6 461.3h0M231.2 447.8h0M196.8 427.4h0M231.4 454.6h0M196.7 434.4h0M212.8 419.9h0M198.2 454.7h0M219.8 438.3h0M225.8 441.9h0M194.6 457.8h0M209.7 443.2h0M211 455.7h0M234.8 418.1h0M221.5 444.1h0M222.2 461h0M198.3 463.1h0M222.5 456.6h0M234.8 454.4h0M230.5 464.2h0M222.4 465h0M225.3 459h0M213.6 438.9h0M205.2 462h0M215.8 461.4h0M192.4 458.2h0M221.8 450.8h0M226.1 428.5h0M222.7 464.1h0M225.4 464.6h0M207.4 446.6h0M200.9 438h0M199.5 430.6h0M210.9 426.2h0M224.9 419h0M229.4 425.1h0M227 458.7h0M236.6 444.4h0M202.6 435.1h0M232.1 422.7h0M196.6 419.7h0M223.2 441.6h0M236.5 435.8h0M222.9 431.1h0M235.1 440.8h0M233.8 456.4h0M216.2 421.8h0M220.8 423.9h0M216.4 457.8h0M190.7 462.9h0M213.9 431.3h0M219.6 439.7h0M191 450.4h0M238.1 464.8h0M215.2 421.6h0M219.2 422.3h0M191 453.3h0M227.7 428.3h0M214.6 465.4h0M225.7 423.1h0M211.7 455.4h0M194.7 437.6h0M188.1 446.2h0M219 430.9h0M201.5 454.2h0M210.2 466.8h0M226.5 417.5h0M235.6 439.2h0M207.1 455.9h0M219.4 458.4h0M213.6 462.5h0M237.4 435.4h0M211.7 422.4h0M191.5 419.7h0M212.4 452.9h0M194.6 452.2h0M196.1 457.7h0M218.4 417.5h0M238.1 447h0M194.3 419h0M213.4 449.7h0M233.4 421.5h0M236 433.4h0M215.5 437.5h0M228.8 446.7h0M223.6 466.2h0M222.2 434.1h0M215.7 430.2h0M217.6 427h0M224.2 454.8h0M216.6 465.2h0M206.3 460.6h0M196.1 442.1h0M203.2 424.2h0M212.9 427.3h0M221 421.8h0M195.1 436.9h0M216.9 445.9h0M197.4 466.2h0M207.3 448.1h0M225.5 438.2h0M224.8 428.1h0M203.1 460.8h0M208.7 466.3h0M215 443.9h0M219 455.4h0M219.3 418.4h0M213.5 457.5h0M224.1 420h0M192.1 457.7h0M205.1 451.9h0M230.6 425.2h0M193.3 431.8h0M237.5 439.6h0M203.4 424h0M226.3 463.4h0M189.6 450.1h0M189.9 459.5h0M195.7 445.8h0M198.6 441.7h0M222.9 427.5h0M227.1 445.5h0M196.1 447.8h0M227.8 463.1h0M192.1 455.1h0M216.9 465.6h0M221.1 453.7h0M224.1 434.6h0M205.5 447.8h0M189.8 436.2h0M192.2 448.5h0M198.4 450.6h0M200.3 450.7h0M202.3 460.1h0M225.2 432.1h0M201.6 418h0M217.4 435.3h0M202.9 448.1h0M208.7 446.5h0M229.7 466h0M238.1 457.3h0M214 423.8h0M212.2 454.7h0M210.8 453.7h0M233.7 463.4h0M192.6 440.9h0M233.3 417.4h0M189.5 447.6h0M214.5 430.6h0M214.1 434.5h0M226.2 433.9h0M230.1 429.6h0M194.4 441.3h0M199.2 462.8h0M203.5 457h0M212.3 428.4h0M219.1 453.3h0M211.4 451.3h0M221.9 437.5h0M218.4 447.6h0M190.8 462.2h0M207.6 418.7h0M206.2 441.7h0M222 424.3h0M200.3 428.9h0M235.1 442h0M223.7 430.1h0M205.6 430.3h0M220.7 448.6h0M210.1 422.4h0M217.6 435.1h0M203.9 439.6h0M215.9 420h0M198.3 436.8h0M195.4 439.3h0M207.4 458.7h0M197.5 445.8h0M197.3 457.2h0M227.4 438.2h0M219.2 465.4h0M208.4 423.1h0M207.5 441.9h0M200.3 448.7h0M234.8 422.4h0M212 427.6h0M213 435.9h0M194.6 460.4h0M212.9 448.8h0M209.4 428.4h0M208.1 423.9h0M221.7 447.9h0M230.5 420.6h0M215.8 451h0M206.1 466.1h0M211.2 466.3h0M227.7 454.7h0M207.8 450.7h0M199.4 452.6h0M221.5 439.7h0M212.2 437.2h0M188.9 466.1h0M209.2 461h0M207.2 434.3h0M225 445.1h0M209.1 460.6h0M222.3 464.5h0M195.4 449.7h0M218.5 429h0M225.3 449.7h0M219.9 444.5h0M213.2 423.2h0M219.8 421.7h0M232.6 458.9h0M212 446.8h0M218.4 458.3h0M228.9 433.2h0M220.2 423.1h0M228.5 437.8h0M224.5 422.7h0M231.6 427.1h0M192.1 430.1h0M216.9 466.5h0M207.7 432.7h0M226.2 430.5h0M197.2 421.6h0M222 458.5h0M196.3 463h0M207.6 455.1h0M218.6 423h0M206 434.6h0M199.1 462.1h0M200.2 444.8h0M227.3 460h0M224.4 447.5h0M195.4 431.3h0M234 445.5h0M238 449.2h0M202.9 438.7h0M214.7 438.2h0M223.2 459.1h0M190.6 447.3h0M218.8 453.4h0M194.2 429.3h0M233.7 432.6h0M232.5 449.9h0M204.2 466.7h0M234.8 446.1h0M194.5 425h0M193.9 421.3h0M191.9 430.2h0M197.9 445.5h0M201.9 461.3h0M200.5 450.3h0M226.8 462h0M236.2 425.6h0M190.5 459.8h0M227.7 432.4h0M195.8 449.8h0M205.5 439.1h0M205.1 432.6h0M208.9 456.7h0M217.2 455h0M213.5 448.6h0M235.2 428.5h0M213.1 434.2h0M230.3 428.4h0M227.2 448.9h0M200.3 445h0M232.6 431h0M238.1 465.5h0M191.4 457.9h0M197.8 455.4h0M216.2 465.1h0M215.1 419.3h0M219.6 449.1h0M234.2 466.1h0M207.3 456h0M190.6 444.6h0M208.1 422.8h0M215.5 448h0M237.4 461h0M213.9 458.5h0M214.4 426.5h0M194.8 425.2h0M215.8 433h0M194.3 440.8h0M228.8 441.4h0M200.1 454.9h0M190.9 425.9h0M237.9 451h0M189.8 460.6h0M209.8 445.4h0M199.8 452.1h0M210.6 422.2h0M215.6 422.2h0M232.4 461.3h0M201.3 461.9h0M217.7 445.4h0M230.8 428.6h0M234.4 436h0M191.6 451.9h0M198.7 436.2h0M207.2 446.9h0M191.4 455.4h0M203 442.9h0M219.6 427.6h0M204 450.6h0M195.2 433.4h0M234 442.8h0M224.3 427.7h0M204.3 440h0M214.6 427.5h0M198.9 444.5h0M200.7 461h0M230.8 452.9h0M199.7 436.8h0M224.4 449.3h0M214 420h0M217.6 425.9h0M191.6 425.6h0M208 465.1h0M237.8 446.1h0M236.2 460.4h0M228.6 459.5h0M214.1 454h0M236.3 427.9h0M196.4 442.6h0M211.2 448.9h0M233.5 452.4h0M190 419.8h0M189.5 439.1h0M203 443.4h0M223.1 432.2h0M207.1 463.3h0M226.2 460.3h0M200.4 453h0M197.3 463.9h0M208.2 429.6h0M189.6 457.4h0M222.3 466.3h0M203.9 445.9h0M218.5 448.5h0M226.6 422.8h0" stroke="#1f6c34" stroke-width="1.4" stroke-linecap="round" fill="none"/>
<path d="M230 420.6h0M202.5 426.6h0M226.8 447.2h0M210.1 457.8h0M195.4 422.4h0M218.8 425.3h0M230.9 464.7h0M223.5 420.8h0M208.9 420.6h0M225.2 432.2h0M193.5 458.5h0M228 434.4h0M192.4 418.5h0M205.2 421.9h0M199.9 442.2h0M226.9 428.3h0M195.5 424.6h0M225.4 446.5h0M226.7 459.9h0M200.6 443.3h0M205.3 439.5h0M236 460.7h0M224.2 458h0M226.1 441.9h0M211 430.2h0M210.7 424.3h0M236.6 426.6h0M225.6 459.5h0M193.1 427.2h0M231.8 417.8h0M194.1 465h0M193.7 454.9h0M212.6 466.1h0M222.6 428.8h0M226.7 425.2h0M209.4 441.9h0M231.6 450.6h0M224.3 452.4h0M189.6 435.1h0M229.1 447.3h0M224.3 461.4h0M201 427.2h0M194.9 460.8h0M213.8 459.6h0M222.7 443h0M192.7 452.8h0M235.8 448.5h0M202.6 458.2h0M216.1 447.2h0M208.8 462.2h0M202 430.6h0M201.5 442.8h0M205.8 465.9h0M226.4 459.9h0M198.3 417.2h0M220.3 463h0M219.5 464.3h0M192.9 446.5h0M219 445.8h0M226.4 453.4h0M227.9 445.8h0M201.6 465.2h0M206.1 419.7h0M221.2 425.4h0M211.3 450.1h0M197.6 462.4h0M201.2 446h0M193.7 463.3h0M204 450.7h0M236.5 439.4h0M201.6 427.9h0M233.4 460.5h0M208.3 438.4h0M208.6 435.8h0M208.4 456.4h0M219.7 429.7h0M221 428.3h0M206.8 452.2h0M231.5 442.2h0M234.4 422.6h0M234.8 461.1h0M189.4 464.9h0M219.1 424.8h0M189.6 432.1h0M212.9 445h0M227.4 419.5h0M212.8 467h0M229 423.8h0M210 432.3h0M236.1 453.9h0M230.9 437.3h0M222 443.3h0M216.8 427.8h0M210.7 435.1h0M228.4 432.1h0M235.1 419.8h0M216.2 425.4h0M196.7 458.3h0M237.7 431.1h0M188.7 424.9h0M193.2 428.3h0M226.9 437.7h0M229.6 436.3h0M219.5 452.3h0M233.3 462.9h0M206.8 462.5h0M232.8 448.6h0M222.1 448.1h0M217.1 427.5h0M224.2 423.6h0" stroke="#3aa050" stroke-width="1.05" stroke-linecap="round" fill="none"/>
<path d="M220.7 461h0M237.2 461.1h0M205.7 422.2h0M233.7 442.7h0M217 455.6h0M207.9 451.2h0M207.3 432.4h0M223.7 446.1h0M201.5 443h0M219 453.6h0M189.3 448.9h0M217.5 420.9h0M206.9 446.3h0M228.1 438.4h0M209.7 459.8h0M193.5 466.2h0M225.8 419.8h0M212.4 417.8h0M198.3 442.1h0M210.8 432.2h0M210.2 420.5h0M188.1 442.8h0M218.1 430.3h0M207.7 465.3h0M235.5 433.7h0M230.4 423.4h0M211.2 447h0M211 462.6h0M197.1 428.8h0M200.1 462.5h0M226.6 426.3h0M224.7 440.4h0M208.5 455.1h0M231.2 438.2h0M193.1 417.7h0M232.8 450h0M203.7 424.6h0M204.1 417.4h0M215.3 457.5h0M224.6 463.1h0M205 466.1h0" stroke="#1c28dc" stroke-width="2.1" stroke-linecap="round" fill="none"/>
<path d="M206.4 461.4h0M199.1 457.5h0M230.6 459.6h0M222.1 466.8h0M210.7 441.5h0M196.7 420.4h0M203.1 432.6h0M229.4 441.9h0M193.9 454.3h0M219.4 458.1h0M198.9 419h0M236.7 422.6h0M189.7 419.4h0M197.3 461.1h0M235.5 437.7h0M190.1 451.6h0M205.4 457.4h0M221.8 428.5h0M195.4 451.2h0M197.9 465h0M223.1 434.5h0M208.1 435.1h0M212.7 465.4h0M196.4 455.5h0M213.1 443.8h0M231.9 454.1h0M226.9 435.3h0M202.3 419.6h0M193.2 460.2h0M233.8 457.4h0M204 445.7h0M232.4 432.4h0M226 457h0M229.5 417.5h0M237.6 440.2h0M208.5 440h0M223 421.9h0M199.8 439.5h0M215.9 418.8h0M214.3 460.6h0M201.4 465.7h0M234.2 429h0" stroke="#1c28dc" stroke-width="2.6" stroke-linecap="round" fill="none"/>
<path d="M202.9 460.1h0M232.1 418.2h0M235.8 455.5h0M236.1 447.8h0M201.8 427.9h0M224.6 431.3h0M192.5 449.4h0M237.3 466.7h0M209.3 427.6h0M226.9 453.7h0M191.6 433h0M212.5 454h0M195.5 437h0M226.9 447h0M223.4 417.5h0M237.3 452.6h0M222.2 425.3h0M215.9 439.9h0M217.9 426.3h0M223.1 456.8h0M191.9 436.9h0M229.1 432.3h0M234.6 466.1h0M233.9 461h0M190.5 428.9h0M194.4 423.1h0M192.1 442.2h0M198.7 448.8h0M194.2 456.8h0M200.3 454.4h0M188.4 460.1h0M220.8 442.2h0M228.7 465.1h0M228.9 428.9h0M211.8 423.6h0M205.2 442h0M209.3 423.1h0M213.8 430.7h0M195 427h0M237.1 419.4h0M215.4 448.3h0M197 432.4h0" stroke="#2226ee" stroke-width="3" stroke-linecap="round" fill="none"/>
<path d="M220.7 460.2h0M234.2 442.6h0M207 431.8h0M218.8 453.7h0M206.9 446.2h0M193.3 466.2h0M198.3 442.9h0M188.2 443.1h0M236 433.6h0M211.2 462.9h0M226.9 425.5h0M231.9 438.4h0M202.9 424.8h0M225 462.8h0M199.2 456.8h0M211.3 441.3h0M229 441.9h0M198.7 418.4h0M196.8 461h0M205 457.4h0M197.9 465.3h0M213.3 464.8h0M232.6 454.5h0M193.1 460.4h0M233 431.7h0M237.7 439.7h0M199 440.2h0M202.2 465h0M231.6 418.6h0M202.4 427.5h0M237.3 466.8h0M191.6 432.4h0M227.7 447.9h0M221.8 426.1h0M222.6 456.3h0M234.6 465.7h0M193.9 422.3h0M195 457.3h0M221.7 442.1h0M212.4 424h0M214.4 430.1h0M215.3 448.5h0" stroke="#1c28dc" stroke-width="2" stroke-linecap="round" fill="none"/>
<path d="M193.7 426h0M194.3 428h0M198.3 451h0M235.1 431h0M237 435.6h0M216.3 430.8h0M215.3 433.2h0M235.4 438.4h0M218.1 431h0M234.9 434h0M234.7 432h0M220.9 430.6h0M193 425.7h0M194.1 427.2h0M234.2 433.3h0M193.7 423.6h0M195.1 429.6h0M197.8 426.1h0M193.4 426.2h0M193.1 423.4h0M232.9 434.8h0M219 432.5h0M194.1 425.9h0M235.1 437.4h0M218.6 433h0M195 425.9h0M234.1 436.2h0M196.2 423h0M198.6 452.4h0M198.1 449.9h0M235.5 437.8h0M237.6 438.5h0M234.6 433.4h0M234.1 436.2h0M194.1 427.9h0M218.4 432.5h0M192.4 426h0M216.3 432.2h0M233.7 432.3h0M220 432.3h0" stroke="#3fc8a0" stroke-width="1.3" stroke-linecap="round" fill="none"/>
</g>
<g filter="url(#hb3)" fill="#010401">
<path d="M193.02 438.1Q203.06 447.1 213.1 444.6Q219.12 442.6 222.64 436.1Q224.14 447.1 216.11 451.1Q206.07 453.6 199.04 448.6Q194.02 444.6 193.02 438.1Z"/>
<ellipse cx="207.08" cy="417.1" rx="10.04" ry="3.5"/>
<ellipse cx="227.16" cy="418.6" rx="8.53" ry="5"/>
<ellipse cx="223.64" cy="430.6" rx="2.26" ry="8.5" opacity="0.85"/>
<ellipse cx="199.04" cy="433.1" rx="2.51" ry="6" opacity="0.8"/>
<ellipse cx="213.1" cy="462.1" rx="2.51" ry="3" opacity="0.7"/>
</g>
</g>
<text x="67.2" y="410.2" font-size="7.6" fill="#fff" text-anchor="middle"  stroke="#fff" stroke-width="0.16">20µm</text>
<line x1="57.5" y1="412.1" x2="76.9" y2="412.1" stroke="#fff" stroke-width="0.8" />
<text x="269.6" y="357.8" font-size="12.6" fill="#000"  stroke="#000" stroke-width="0.16">I</text>
<text x="334.9" y="379.9" font-size="8.5" fill="#111" text-anchor="middle"  stroke="#111" stroke-width="0.16">Cis</text>
<text x="408.3" y="379.9" font-size="8.5" fill="#111" text-anchor="middle"  stroke="#111" stroke-width="0.16">Cis</text>
<line x1="306.7" y1="385.5" x2="361.9" y2="385.5" stroke="#111" stroke-width="1" />
<line x1="372" y1="385.5" x2="425.6" y2="385.5" stroke="#111" stroke-width="1" />
<text x="318" y="399.2" font-size="7.7" fill="#111" text-anchor="middle"  stroke="#111" stroke-width="0.16">Con</text>
<text x="350.5" y="399.2" font-size="7.7" fill="#111" text-anchor="middle"  stroke="#111" stroke-width="0.16">hnRNPK KO</text>
<text x="393.3" y="399.2" font-size="7.7" fill="#111" text-anchor="middle"  stroke="#111" stroke-width="0.16">vector</text>
<text x="421.2" y="399.2" font-size="7.7" fill="#111" text-anchor="middle"  stroke="#111" stroke-width="0.16">OE</text>
<text x="298.1" y="416.6" font-size="9.5" fill="#111" text-anchor="end"  stroke="#111" stroke-width="0.16">DHODH</text>
<text x="294.7" y="441.2" font-size="9.5" fill="#111" text-anchor="end"  stroke="#111" stroke-width="0.16">β-actin</text>
<text x="443.7" y="415.7" font-size="7.4" fill="#111"  stroke="#111" stroke-width="0.16">43KD</text>
<text x="443.7" y="441.2" font-size="7.4" fill="#111"  stroke="#111" stroke-width="0.16">42KD</text>
<filter id="wb" x="-10%" y="-50%" width="120%" height="200%"><feGaussianBlur stdDeviation="1.1 0.8"/></filter>
<linearGradient id="wg1" x1="0" y1="0" x2="0" y2="1"><stop offset="0" stop-color="#e9e9e9"/><stop offset="1" stop-color="#f6f6f6"/></linearGradient>
<linearGradient id="wg2" x1="0" y1="0" x2="0" y2="1"><stop offset="0" stop-color="#dcdcdc"/><stop offset="1" stop-color="#e6e6e6"/></linearGradient>
<clipPath id="wc1"><rect x="301.2" y="401.9" width="138.2" height="19.6"/></clipPath>
<clipPath id="wc2"><rect x="301.2" y="426.4" width="138.2" height="20"/></clipPath>
<rect x="301.2" y="401.9" width="138.2" height="19.6" fill="url(#wg1)" />
<g clip-path="url(#wc1)" filter="url(#wb)">
<rect x="306.4" y="410" width="26.7" height="4" fill="#2e2e2e" rx="1.5"/>
<rect x="341" y="411.6" width="24.5" height="2.8" fill="#6a6a6a" rx="1.5"/>
<rect x="374.7" y="411.8" width="24.6" height="2.4" fill="#7a7a7a" rx="1.5"/>
<rect x="406" y="409.7" width="26.1" height="3.4" fill="#3a3a3a" rx="1.5"/>
<rect x="323" y="410.5" width="9" height="4.6" fill="#222" rx="2"/>
</g>
<rect x="301.2" y="401.9" width="138.2" height="19.6" fill="none" stroke="#222" stroke-width="0.8" />
<rect x="301.2" y="426.4" width="138.2" height="20" fill="url(#wg2)" />
<g clip-path="url(#wc2)" filter="url(#wb)">
<ellipse cx="319.75" cy="437.5" rx="14.75" ry="3.1" fill="#000" />
<ellipse cx="353.5" cy="437.5" rx="13.5" ry="3.1" fill="#000" />
<ellipse cx="386.75" cy="437.5" rx="13.75" ry="3.1" fill="#000" />
<ellipse cx="419" cy="437.5" rx="14" ry="3.1" fill="#000" />
</g>
<rect x="301.2" y="426.4" width="138.2" height="20" fill="none" stroke="#222" stroke-width="0.8" />
<path d="M514.1 441.5V422H527.9V441.5" fill="#fff" stroke="#808080" stroke-width="0.7" />
<path d="M535.2 441.5V382.2H549.6V441.5" fill="#fff" stroke="#808080" stroke-width="0.7" />
<line x1="506.7" y1="351.8" x2="506.7" y2="442" stroke="#111" stroke-width="1" />
<line x1="506.2" y1="441.5" x2="557.8" y2="441.5" stroke="#111" stroke-width="1" />
<line x1="503.4" y1="441.5" x2="506.7" y2="441.5" stroke="#111" stroke-width="1" />
<text x="502.3" y="443.77" font-size="6.3" fill="#111" text-anchor="end"  stroke="#111" stroke-width="0.16">0</text>
<line x1="503.4" y1="419.2" x2="506.7" y2="419.2" stroke="#111" stroke-width="1" />
<text x="502.3" y="421.47" font-size="6.3" fill="#111" text-anchor="end"  stroke="#111" stroke-width="0.16">1</text>
<line x1="503.4" y1="396.9" x2="506.7" y2="396.9" stroke="#111" stroke-width="1" />
<text x="502.3" y="399.17" font-size="6.3" fill="#111" text-anchor="end"  stroke="#111" stroke-width="0.16">2</text>
<line x1="503.4" y1="374.6" x2="506.7" y2="374.6" stroke="#111" stroke-width="1" />
<text x="502.3" y="376.87" font-size="6.3" fill="#111" text-anchor="end"  stroke="#111" stroke-width="0.16">3</text>
<line x1="503.4" y1="352.3" x2="506.7" y2="352.3" stroke="#111" stroke-width="1" />
<text x="502.3" y="354.57" font-size="6.3" fill="#111" text-anchor="end"  stroke="#111" stroke-width="0.16">4</text>
<line x1="520.7" y1="441.5" x2="520.7" y2="445.5" stroke="#111" stroke-width="1" />
<line x1="542.4" y1="441.5" x2="542.4" y2="445.5" stroke="#111" stroke-width="1" />
<line x1="521" y1="417.5" x2="521" y2="423.5" stroke="#4472c4" stroke-width="0.8" />
<line x1="521" y1="417.5" x2="521" y2="417.5" stroke="#4472c4" stroke-width="0.8" />
<line x1="521" y1="423.5" x2="521" y2="423.5" stroke="#4472c4" stroke-width="0.8" />
<line x1="542.4" y1="372.6" x2="542.4" y2="394" stroke="#e8262a" stroke-width="0.8" />
<line x1="538.6" y1="372.6" x2="546.2" y2="372.6" stroke="#e8262a" stroke-width="0.8" />
<line x1="538.6" y1="394" x2="546.2" y2="394" stroke="#e8262a" stroke-width="0.8" />
<circle cx="516.4" cy="421.7" r="2.6" fill="none" stroke="#4472c4" stroke-width="0.95" />
<circle cx="521" cy="416.2" r="2.6" fill="none" stroke="#4472c4" stroke-width="0.95" />
<circle cx="525.6" cy="419.4" r="2.6" fill="none" stroke="#4472c4" stroke-width="0.95" />
<polygon points="537.8,372.17 535.2,376.98 540.4,376.98" fill="none" stroke="#e8262a" stroke-width="0.95" />
<polygon points="547,377.47 544.4,382.28 549.6,382.28" fill="none" stroke="#e8262a" stroke-width="0.95" />
<polygon points="542.4,389.37 539.8,394.18 545,394.18" fill="none" stroke="#e8262a" stroke-width="0.95" />
<text x="531.85" y="358.4" font-size="7.4" fill="#111" text-anchor="middle" font-style="italic"  stroke="#111" stroke-width="0.16">p = 0.0022</text>
<line x1="520.7" y1="362.5" x2="542.9" y2="362.5" stroke="#111" stroke-width="1" />
<text x="486.5" y="397.1" font-size="10" fill="#111" text-anchor="middle" transform="rotate(-90 486.5 397.1)"  stroke="#111" stroke-width="0.16">Relative DHODH level</text>
<text x="524.3" y="450.3" font-size="10.3" fill="#111" text-anchor="end" transform="rotate(-45 524.3 450.3)"  stroke="#111" stroke-width="0.16">Vector</text>
<text x="546.3" y="450.3" font-size="10.3" fill="#111" text-anchor="end" transform="rotate(-45 546.3 450.3)"  stroke="#111" stroke-width="0.16">OE</text>
<path d="M611.2 435.7V371.4H625.4V435.7" fill="#fff" stroke="#808080" stroke-width="0.7" />
<path d="M633.2 435.7V410.3H647.7V435.7" fill="#fff" stroke="#808080" stroke-width="0.7" />
<line x1="605.6" y1="358.35" x2="605.6" y2="436.15" stroke="#111" stroke-width="0.9" />
<line x1="605.15" y1="435.7" x2="655.8" y2="435.7" stroke="#111" stroke-width="0.9" />
<line x1="602.6" y1="435.7" x2="605.6" y2="435.7" stroke="#111" stroke-width="0.9" />
<text x="601.6" y="437.72" font-size="5.6" fill="#111" text-anchor="end"  stroke="#111" stroke-width="0.16">0</text>
<line x1="602.6" y1="410.07" x2="605.6" y2="410.07" stroke="#111" stroke-width="0.9" />
<text x="601.6" y="412.09" font-size="5.6" fill="#111" text-anchor="end"  stroke="#111" stroke-width="0.16">1</text>
<line x1="602.6" y1="384.44" x2="605.6" y2="384.44" stroke="#111" stroke-width="0.9" />
<text x="601.6" y="386.46" font-size="5.6" fill="#111" text-anchor="end"  stroke="#111" stroke-width="0.16">2</text>
<line x1="602.6" y1="358.81" x2="605.6" y2="358.81" stroke="#111" stroke-width="0.9" />
<text x="601.6" y="360.83" font-size="5.6" fill="#111" text-anchor="end"  stroke="#111" stroke-width="0.16">3</text>
<line x1="618.3" y1="435.7" x2="618.3" y2="439.3" stroke="#111" stroke-width="0.9" />
<line x1="640.4" y1="435.7" x2="640.4" y2="439.3" stroke="#111" stroke-width="0.9" />
<line x1="617.5" y1="363.5" x2="617.5" y2="373" stroke="#4472c4" stroke-width="0.8" />
<line x1="614.7" y1="363.5" x2="620.3" y2="363.5" stroke="#4472c4" stroke-width="0.8" />
<line x1="614.7" y1="373" x2="620.3" y2="373" stroke="#4472c4" stroke-width="0.8" />
<line x1="640.4" y1="402.8" x2="640.4" y2="415.3" stroke="#e8262a" stroke-width="0.8" />
<line x1="637.6" y1="402.8" x2="643.2" y2="402.8" stroke="#e8262a" stroke-width="0.8" />
<line x1="637.6" y1="415.3" x2="643.2" y2="415.3" stroke="#e8262a" stroke-width="0.8" />
<circle cx="617.5" cy="365.1" r="2.5" fill="none" stroke="#4472c4" stroke-width="0.95" />
<circle cx="613.1" cy="372.3" r="2.5" fill="none" stroke="#4472c4" stroke-width="0.95" />
<circle cx="622.5" cy="372.3" r="2.5" fill="none" stroke="#4472c4" stroke-width="0.95" />
<polygon points="640.4,402.88 638.1,407.14 642.7,407.14" fill="none" stroke="#e8262a" stroke-width="0.95" />
<polygon points="640.4,408.48 638.1,412.74 642.7,412.74" fill="none" stroke="#e8262a" stroke-width="0.95" />
<polygon points="640.4,413.88 638.1,418.14 642.7,418.14" fill="none" stroke="#e8262a" stroke-width="0.95" />
<text x="629.3" y="351.6" font-size="6.4" fill="#111" text-anchor="middle" font-style="italic"  stroke="#111" stroke-width="0.16">p = 0.0008</text>
<line x1="616" y1="354.8" x2="644.2" y2="354.8" stroke="#111" stroke-width="1" />
<text x="581.4" y="397.3" font-size="8.55" fill="#111" text-anchor="middle" transform="rotate(-90 581.4 397.3)"  stroke="#111" stroke-width="0.16">DHODH protein level</text>
<text x="622.2" y="444" font-size="8.9" fill="#111" text-anchor="end" transform="rotate(-45 622.2 444)"  stroke="#111" stroke-width="0.16">Cas9 Control</text>
<text x="643.8" y="444" font-size="8.9" fill="#111" text-anchor="end" transform="rotate(-45 643.8 444)"  stroke="#111" stroke-width="0.16">hnRNPK KO</text>
<text x="0.4" y="491.3" font-size="12.6" fill="#000"  stroke="#000" stroke-width="0.16">J</text>
<text x="15.3" y="498.8" font-size="9.5" fill="#111"  stroke="#111" stroke-width="0.16">DHODH</text>
<line x1="56.2" y1="499.8" x2="56.2" y2="652" stroke="#f9d0d4" stroke-width="0.55" />
<line x1="61.37" y1="499.8" x2="61.37" y2="652" stroke="#dcdcf6" stroke-width="0.55" />
<line x1="66.54" y1="499.8" x2="66.54" y2="652" stroke="#f9d0d4" stroke-width="0.55" />
<line x1="71.71" y1="499.8" x2="71.71" y2="652" stroke="#dcdcf6" stroke-width="0.55" />
<line x1="76.88" y1="499.8" x2="76.88" y2="652" stroke="#f9d0d4" stroke-width="0.55" />
<line x1="82.05" y1="499.8" x2="82.05" y2="652" stroke="#dcdcf6" stroke-width="0.55" />
<line x1="87.22" y1="499.8" x2="87.22" y2="652" stroke="#f9d0d4" stroke-width="0.55" />
<line x1="92.39" y1="499.8" x2="92.39" y2="652" stroke="#dcdcf6" stroke-width="0.55" />
<line x1="97.56" y1="499.8" x2="97.56" y2="652" stroke="#f9d0d4" stroke-width="0.55" />
<line x1="102.73" y1="499.8" x2="102.73" y2="652" stroke="#dcdcf6" stroke-width="0.55" />
<line x1="107.9" y1="499.8" x2="107.9" y2="652" stroke="#f9d0d4" stroke-width="0.55" />
<line x1="113.07" y1="499.8" x2="113.07" y2="652" stroke="#dcdcf6" stroke-width="0.55" />
<line x1="118.24" y1="499.8" x2="118.24" y2="652" stroke="#f9d0d4" stroke-width="0.55" />
<line x1="123.41" y1="499.8" x2="123.41" y2="652" stroke="#dcdcf6" stroke-width="0.55" />
<line x1="128.58" y1="499.8" x2="128.58" y2="652" stroke="#f9d0d4" stroke-width="0.55" />
<line x1="133.75" y1="499.8" x2="133.75" y2="652" stroke="#dcdcf6" stroke-width="0.55" />
<line x1="138.92" y1="499.8" x2="138.92" y2="652" stroke="#f9d0d4" stroke-width="0.55" />
<line x1="144.09" y1="499.8" x2="144.09" y2="652" stroke="#dcdcf6" stroke-width="0.55" />
<line x1="149.26" y1="499.8" x2="149.26" y2="652" stroke="#f9d0d4" stroke-width="0.55" />
<line x1="154.43" y1="499.8" x2="154.43" y2="652" stroke="#dcdcf6" stroke-width="0.55" />
<line x1="159.6" y1="499.8" x2="159.6" y2="652" stroke="#f9d0d4" stroke-width="0.55" />
<line x1="164.77" y1="499.8" x2="164.77" y2="652" stroke="#dcdcf6" stroke-width="0.55" />
<line x1="169.94" y1="499.8" x2="169.94" y2="652" stroke="#f9d0d4" stroke-width="0.55" />
<line x1="175.11" y1="499.8" x2="175.11" y2="652" stroke="#dcdcf6" stroke-width="0.55" />
<line x1="180.28" y1="499.8" x2="180.28" y2="652" stroke="#f9d0d4" stroke-width="0.55" />
<line x1="185.45" y1="499.8" x2="185.45" y2="652" stroke="#dcdcf6" stroke-width="0.55" />
<line x1="190.62" y1="499.8" x2="190.62" y2="652" stroke="#f9d0d4" stroke-width="0.55" />
<line x1="195.79" y1="499.8" x2="195.79" y2="652" stroke="#dcdcf6" stroke-width="0.55" />
<line x1="200.96" y1="499.8" x2="200.96" y2="652" stroke="#f9d0d4" stroke-width="0.55" />
<line x1="206.13" y1="499.8" x2="206.13" y2="652" stroke="#dcdcf6" stroke-width="0.55" />
<line x1="211.3" y1="499.8" x2="211.3" y2="652" stroke="#f9d0d4" stroke-width="0.55" />
<line x1="216.47" y1="499.8" x2="216.47" y2="652" stroke="#dcdcf6" stroke-width="0.55" />
<line x1="221.64" y1="499.8" x2="221.64" y2="652" stroke="#f9d0d4" stroke-width="0.55" />
<line x1="226.81" y1="499.8" x2="226.81" y2="652" stroke="#dcdcf6" stroke-width="0.55" />
<line x1="231.98" y1="499.8" x2="231.98" y2="652" stroke="#f9d0d4" stroke-width="0.55" />
<line x1="237.15" y1="499.8" x2="237.15" y2="652" stroke="#dcdcf6" stroke-width="0.55" />
<line x1="242.32" y1="499.8" x2="242.32" y2="652" stroke="#f9d0d4" stroke-width="0.55" />
<line x1="247.49" y1="499.8" x2="247.49" y2="652" stroke="#dcdcf6" stroke-width="0.55" />
<line x1="252.66" y1="499.8" x2="252.66" y2="652" stroke="#f9d0d4" stroke-width="0.55" />
<line x1="257.83" y1="499.8" x2="257.83" y2="652" stroke="#dcdcf6" stroke-width="0.55" />
<line x1="56.2" y1="499.8" x2="56.2" y2="652" stroke="#f3a6ac" stroke-width="0.7" />
<text x="55.6" y="507.6" font-size="2.9" fill="#222" text-anchor="end" font-family="DejaVu Sans, Liberation Sans, sans-serif"  stroke="#222" stroke-width="0.12">chr8</text>
<text x="67.4" y="507.6" font-size="3" fill="#222" font-family="DejaVu Sans, Liberation Sans, sans-serif"  stroke="#222" stroke-width="0.12">:116318572</text>
<text x="98.7" y="507.6" font-size="3" fill="#222" font-family="DejaVu Sans, Liberation Sans, sans-serif"  stroke="#222" stroke-width="0.12">:116320458</text>
<text x="129" y="507.6" font-size="3" fill="#222" font-family="DejaVu Sans, Liberation Sans, sans-serif"  stroke="#222" stroke-width="0.12">:116324490</text>
<text x="160.2" y="507.6" font-size="3" fill="#222" font-family="DejaVu Sans, Liberation Sans, sans-serif"  stroke="#222" stroke-width="0.12">:116328766</text>
<text x="190.3" y="507.6" font-size="3" fill="#222" font-family="DejaVu Sans, Liberation Sans, sans-serif"  stroke="#222" stroke-width="0.12">:116331751</text>
<text x="221.4" y="507.6" font-size="3" fill="#222" font-family="DejaVu Sans, Liberation Sans, sans-serif"  stroke="#222" stroke-width="0.12">:116336008</text>
<line x1="252.2" y1="505" x2="252.2" y2="508" stroke="#444" stroke-width="0.4" />
<text x="8.2" y="522.3" font-size="4" fill="#111" font-family="DejaVu Sans, Liberation Sans, sans-serif"  stroke="#111" stroke-width="0.12">lacZ_2</text>
<text x="55.4" y="514.5" font-size="3.5" fill="#111" text-anchor="end" font-family="DejaVu Sans, Liberation Sans, sans-serif"  stroke="#111" stroke-width="0.12">0.24</text>
<text x="55.4" y="526.2" font-size="3.5" fill="#111" text-anchor="end" font-family="DejaVu Sans, Liberation Sans, sans-serif"  stroke="#111" stroke-width="0.12">-0.24</text>
<path d="M56.2 518.8L56.2 517.9L57 517.1L57.7 517.2L58.5 516.6L59.2 517.5L60 516.8L60.7 516.7L61.5 516.9L62.2 516.6L63 515.8L63.7 516.1L64.5 516.5L65.2 517.5L66 517.8L66.7 516.8L67.5 518L68.2 518.7L69.2 518.7L69.2 518L69.9 517.3L70.7 516.8L71.4 517.3L72.2 517.5L72.9 517.1L73.7 517.5L74.4 516.8L75.2 515.9L75.9 516.8L76.7 516L77.4 513.7L78.2 514L78.9 516.8L79.7 516.5L80.4 516.2L81.2 516.7L81.9 516.7L82.7 517.6L83.4 517.4L84.2 518.7L86.7 518.7L86.7 517.7L87.4 516.6L88.2 516.9L88.9 517.3L89.7 516.1L90.4 515.9L91.2 515.5L91.9 515.5L92.7 516L93.4 516.9L94.2 513.1L94.9 516.4L95.7 515.8L96.4 515.3L97.2 515.9L97.9 517.2L98.7 516.8L99.4 516.7L100.2 517.8L100.9 518.7L101.5 518.7L101.5 518.3L102.2 518L103 518L103.7 517.7L104.5 518L105.2 518L106 517.3L106.7 517.6L107.5 517.9L108.2 518L109 517.7L109.7 518L110.5 518.2L111.2 518.7L113.7 518.7L113.7 517.6L114.5 517.6L115.2 516.7L116 517L116.7 515.9L117.5 515.9L118.2 516.9L119 516.5L119.7 517L120.5 517.2L121.2 517.4L122 518L122.7 518.7L124.4 518.7L124.4 518.2L125.2 518.2L125.9 517.4L126.7 517.4L127.4 517.3L128.2 517.1L128.9 517.3L129.7 517.4L130.4 517.5L131.2 518.2L131.9 518L132.7 518.3L133.4 518.7L135.6 518.7L135.6 517.7L136.3 517.2L137.1 516.6L137.8 517L138.6 517.4L139.3 518L140.1 517.9L140.8 518.7L142.2 518.7L142.2 517.6L143 516.8L143.7 517.7L144.5 517.5L145.2 516.9L146 515.5L146.7 516.4L147.5 515.8L148.2 516.8L149 515.8L149.7 514.8L150.5 516.3L151.2 517.1L152 515.9L152.7 516.9L153.5 515.5L154.2 516.6L155 517L155.7 517.1L156.5 516.6L157.2 517.6L158 518.7L159.7 518.7L159.7 518L160.5 517.7L161.2 518.2L162 517.2L162.7 518L163.5 517.6L164.2 517.4L165 516L165.7 517.2L166.5 517.9L167.2 517.4L168 517.8L168.7 518.7L171.6 518.7L171.6 518.4L172.4 518.1L173.1 517.7L173.9 517.8L174.6 516.6L175.4 518.1L176.1 518.7L179 518.7L179 518.4L179.8 518.3L180.5 518L181.3 517.9L182 518.1L182.8 517.9L183.5 518L184.3 516.2L185 517.9L185.8 518L186.5 518.3L187.3 517.9L188 518.2L188.8 516.5L189.5 518.5L190.3 518.7L190.9 518.7L190.9 518.1L191.6 517.8L192.4 518.3L193.1 518.1L193.9 517.4L194.6 518L195.4 517.2L196.1 517.4L196.9 517.9L197.6 518L198.4 517.6L199.1 517.9L199.9 517.2L200.6 517.9L201.4 517.8L202.1 517.6L202.9 517.8L203.6 517.7L204.4 517.8L205.1 517.8L205.9 518.1L206.6 518.7L208.6 518.7L208.6 517.7L209.3 516.5L210.1 516.6L210.8 515.7L211.6 513.8L212.3 515.9L213.1 516.3L213.8 515.4L214.6 516.7L215.3 517.4L216.1 518.7L219.1 518.7L219.1 517.8L219.8 516.4L220.6 516.2L221.3 516.1L222.1 516.7L222.8 515.7L223.6 516.2L224.3 515.2L225.1 515.4L225.8 515.6L226.6 516.5L227.3 516.7L228.1 516.8L228.8 518.7L229.4 518.7L229.4 517.9L230.1 517.9L230.9 517.4L231.6 517.8L232.4 517.8L233.1 517.9L233.9 516.8L234.6 517.1L235.4 516.7L236.1 514.8L236.9 517.3L237.6 517.4L238.4 517.8L239.1 516.8L239.9 517L240.6 517.5L241.4 515.2L242.1 517.6L242.9 517.7L243.6 517.8L244.4 518.7L245.3 518.7L245.3 518.3L246 518.4L246.8 518.1L247.5 518L248.3 516.8L249 517.8L249.8 518.3L250.5 517.7L251.3 518.1L252 518.4L252.8 518.3L253.5 518.5L254.3 518.7L254.8 518.7L254.8 518.5L255.6 518.2L256.3 517.9L257.1 518.2L257.8 517.9L258.6 518.1L259.3 517.8L260.1 517.7L260.8 518.4L261.6 518.2L262.3 518.4L263.1 518.7L262.8 518.8Z" fill="#d9555c" />
<line x1="56.2" y1="518.8" x2="262.8" y2="518.8" stroke="#e9a0a4" stroke-width="0.3" stroke-dasharray="2 1.2" />
<text x="8.2" y="538.9" font-size="4" fill="#111" font-family="DejaVu Sans, Liberation Sans, sans-serif"  stroke="#111" stroke-width="0.12">lacZ_1</text>
<text x="55.4" y="530.9" font-size="3.5" fill="#111" text-anchor="end" font-family="DejaVu Sans, Liberation Sans, sans-serif"  stroke="#111" stroke-width="0.12">0.30</text>
<text x="55.4" y="543.1" font-size="3.5" fill="#111" text-anchor="end" font-family="DejaVu Sans, Liberation Sans, sans-serif"  stroke="#111" stroke-width="0.12">-0.30</text>
<path d="M56.2 535.6L56.2 535L57 535.1L57.7 534.6L58.5 535L59.2 535L60 534.3L60.7 534.8L61.5 534.7L62.2 534.6L63 534.8L63.7 533.4L64.5 534.9L65.2 535.1L66 535.1L66.7 535.5L68.7 535.5L68.7 534.1L69.4 534.8L70.2 533.9L70.9 533.2L71.7 534.3L72.4 533.5L73.2 533.8L73.9 533.4L74.7 534.2L75.4 531.8L76.2 532.3L76.9 533.4L77.7 530.9L78.4 534.1L79.2 533.7L79.9 533.4L80.7 533.1L81.4 533.8L82.2 534.6L82.9 534.5L83.7 535.5L85 535.5L85 535.1L85.7 535L86.5 534.5L87.2 534.3L88 534.9L88.7 534.6L89.5 532.5L90.2 534.5L91 534.6L91.7 534.8L92.5 534.7L93.2 534.7L94 535.1L94.7 535.5L97.9 535.5L97.9 534.8L98.6 534.2L99.4 534.2L100.1 534.2L100.9 532.8L101.6 532.3L102.4 532.4L103.1 532.9L103.9 533.7L104.6 532.3L105.4 532.5L106.1 530.3L106.9 532.6L107.6 533L108.4 532.8L109.1 532.8L109.9 532.9L110.6 534.5L111.4 534.2L112.1 535.5L112.6 535.5L112.6 535.2L113.3 535.2L114.1 534.8L114.8 534.7L115.6 534.4L116.3 534.5L117.1 534.4L117.8 534.1L118.6 534.3L119.3 534.3L120.1 534.8L120.8 534.2L121.6 534.2L122.3 533.4L123.1 535L123.8 534.6L124.6 534.9L125.3 535.2L126.1 535.5L128 535.5L128 535.1L128.8 535L129.5 534.5L130.3 534.2L131 534.6L131.8 534.2L132.5 534.2L133.3 534.2L134 534.5L134.8 534.1L135.5 534.4L136.3 533.9L137 534.5L137.8 534.7L138.5 534.6L139.3 534.9L140 534.7L140.8 535.5L141.4 535.5L141.4 535L142.2 535.1L142.9 534.8L143.7 535L144.4 534.5L145.2 535L145.9 534.9L146.7 534.9L147.4 534.9L148.2 534.3L148.9 534.2L149.7 534.1L150.4 534.4L151.2 534.9L151.9 535L152.7 534.7L153.4 534.6L154.2 535.1L154.9 534.8L155.7 535.2L156.4 535.1L157.2 535.5L158.9 535.5L158.9 534.9L159.7 534.1L160.4 534.6L161.2 534.2L161.9 533.2L162.7 534L163.4 533.2L164.2 533.2L164.9 533.6L165.7 533.2L166.4 533.4L167.2 532.9L167.9 533.7L168.7 533.4L169.4 533.3L170.2 532.8L170.9 533.9L171.7 534.5L172.4 533L173.2 534.2L173.9 534.4L174.7 535.5L175.7 535.5L175.7 535.1L176.5 534.4L177.2 534.3L178 534.9L178.7 534L179.5 533.8L180.2 533.9L181 533.9L181.7 534.1L182.5 533.5L183.2 534L184 534.6L184.7 534.4L185.5 534.2L186.2 533.6L187 534.3L187.7 534.6L188.5 532.8L189.2 534.2L190 534.9L190.7 535L191.5 535.5L192.3 535.5L192.3 534.2L193 534.2L193.8 534.4L194.5 532.1L195.3 533.7L196 533L196.8 532.8L197.5 533.2L198.3 532.8L199 534L199.8 533.6L200.5 533.5L201.3 532.9L202 533.8L202.8 534L203.5 534.7L204.3 535.5L206.7 535.5L206.7 534.6L207.4 533L208.2 533.3L208.9 533.3L209.7 532.3L210.4 533.8L211.2 535.5L211.8 535.5L211.8 535L212.6 534.6L213.3 534.5L214.1 533.9L214.8 534L215.6 534.8L216.3 534.5L217.1 534.9L217.8 535.5L219.3 535.5L219.3 534.9L220 534.5L220.8 534.4L221.5 534.7L222.3 534.5L223 534.3L223.8 533.5L224.5 534.3L225.3 533.9L226 534L226.8 534.6L227.5 534.7L228.3 535.5L229.2 535.5L229.2 535.1L229.9 535.2L230.7 534.8L231.4 534.7L232.2 535.1L232.9 534.9L233.7 535L234.4 535.1L235.2 535.5L237.6 535.5L237.6 535L238.3 534.5L239.1 533.8L239.8 534.6L240.6 533.4L241.3 533.4L242.1 532.1L242.8 533.6L243.6 533.6L244.3 534L245.1 532.9L245.8 534.3L246.6 534.4L247.3 533.8L248.1 534.5L248.8 534.3L249.6 534.6L250.3 535.5L253.3 535.5L253.3 535L254 534.4L254.8 534.7L255.5 534.2L256.3 534.5L257 534.6L257.8 534.2L258.5 534.8L259.3 535.5L259.9 535.5L259.9 533.3L260.7 534.5L261.4 533.7L262.2 534.8L262.9 535.5L262.8 535.6Z" fill="#d9555c" />
<line x1="56.2" y1="535.6" x2="262.8" y2="535.6" stroke="#e9a0a4" stroke-width="0.3" stroke-dasharray="2 1.2" />
<text x="8.2" y="555" font-size="4" fill="#111" font-family="DejaVu Sans, Liberation Sans, sans-serif"  stroke="#111" stroke-width="0.12">IP_2</text>
<text x="55.4" y="547.6" font-size="3.5" fill="#111" text-anchor="end" font-family="DejaVu Sans, Liberation Sans, sans-serif"  stroke="#111" stroke-width="0.12">0.25</text>
<text x="55.4" y="559.9" font-size="3.5" fill="#111" text-anchor="end" font-family="DejaVu Sans, Liberation Sans, sans-serif"  stroke="#111" stroke-width="0.12">-0.25</text>
<path d="M56.2 551.9L56.2 550.6L57 550.2L57.7 550.6L58.5 550.3L59.2 550L60 549.6L60.7 549.2L61.5 549.7L62.2 550.4L63 548.7L63.7 549.4L64.5 550.1L65.2 550.6L66 550.7L66.7 550.3L67.5 550.5L68.2 551.8L69.7 551.8L69.7 551.3L70.4 551L71.2 550.7L71.9 550.7L72.7 550.1L73.4 550.4L74.2 551.2L74.9 551L75.7 551.8L77.3 551.8L77.3 550.9L78.1 551.1L78.8 550.7L79.6 550.2L80.3 550.2L81.1 549.6L81.8 550.2L82.6 550.4L83.3 549.6L84.1 549.9L84.8 549.4L85.6 550.2L86.3 549.7L87.1 549.9L87.8 548.9L88.6 550.2L89.3 549.8L90.1 550.3L90.8 551.1L91.6 550.8L92.3 551.1L93.1 551.8L94.3 551.8L94.3 551.2L95 550.8L95.8 550.1L96.5 549.1L97.3 549.6L98 549.5L98.8 549.5L99.5 550.9L100.3 550.5L101 551.8L102.8 551.8L102.8 551.5L103.5 551.1L104.3 551.2L105 550.5L105.8 550.3L106.5 550.7L107.3 550.8L108 551.1L108.8 550.5L109.5 550.7L110.3 551L111 551.1L111.8 551L112.5 551.8L114.8 551.8L114.8 549.9L115.6 551L116.3 551L117.1 550.1L117.8 550.6L118.6 551.2L119.3 551.1L120.1 551.8L121.8 551.8L121.8 550.8L122.5 548.6L123.3 550L124 550.9L124.8 550.7L125.5 550.7L126.3 550.7L127 550.2L127.8 550.1L128.5 549.2L129.3 549.7L130 550.3L130.8 549L131.5 550.2L132.3 550.3L133 550.7L133.8 551.8L136.8 551.8L136.8 550.9L137.5 550.9L138.3 550.6L139 551L139.8 550.3L140.5 551L141.3 549.7L142 550.1L142.8 550.3L143.5 550L144.3 550.2L145 549.6L145.8 550.1L146.5 550L147.3 550.3L148 550.7L148.8 550.4L149.5 551.1L150.3 551.3L151 551.8L153.9 551.8L153.9 551L154.6 550.6L155.4 551L156.1 550.7L156.9 549.5L157.6 550.6L158.4 550.2L159.1 550.3L159.9 550.4L160.6 551L161.4 550.5L162.1 551.8L165 551.8L165 550.2L165.8 550.9L166.5 550.1L167.3 550.4L168 549.7L168.8 549L169.5 549.7L170.3 549.5L171 549.5L171.8 549.4L172.5 550L173.3 549.8L174 549.3L174.8 548.7L175.5 549.3L176.3 549.3L177 550.5L177.8 550.7L178.5 551.8L180.3 551.8L180.3 551.3L181.1 550.3L181.8 550.8L182.6 549.5L183.3 550.7L184.1 550.6L184.8 550L185.6 549.6L186.3 550.4L187.1 550.3L187.8 551.1L188.6 551.8L189.8 551.8L189.8 549.6L190.6 551.1L191.3 550.4L192.1 549.9L192.8 550.1L193.6 550.7L194.3 550.5L195.1 550.9L195.8 550.7L196.6 550.5L197.3 551.2L198.1 551.8L201.3 551.8L201.3 550.6L202 550.5L202.8 547.3L203.5 549.9L204.3 550.2L205 549.7L205.8 550.3L206.5 550.9L207.3 551.8L209.6 551.8L209.6 550.8L210.3 550.3L211.1 550.6L211.8 550.7L212.6 550.7L213.3 550.3L214.1 550.6L214.8 548.7L215.6 550.1L216.3 550.4L217.1 550.1L217.8 549.9L218.6 550.4L219.3 548.8L220.1 549.1L220.8 549.5L221.6 550.6L222.3 550.9L223.1 550.3L223.8 551.2L224.6 551.8L227.4 551.8L227.4 550.6L228.1 550.1L228.9 550.2L229.6 550.2L230.4 550.8L231.1 549.5L231.9 550.1L232.6 547.6L233.4 550.5L234.1 549.5L234.9 550L235.6 548.9L236.4 549.7L237.1 549.6L237.9 549.2L238.6 550.7L239.4 550.4L240.1 550.8L240.9 551L241.6 551.8L242.5 551.8L242.5 550.8L243.2 550.8L244 550.4L244.7 550.9L245.5 550.2L246.2 550.6L247 550.2L247.7 549.8L248.5 550.2L249.2 549.7L250 550.3L250.7 550.2L251.5 550.1L252.2 550.6L253 551L253.7 549.2L254.5 551.8L255.7 551.8L255.7 551.2L256.5 550.6L257.2 550.5L258 551L258.7 550.6L259.5 550.7L260.2 551.8L262.8 551.9Z" fill="#d9555c" />
<line x1="56.2" y1="551.9" x2="262.8" y2="551.9" stroke="#e9a0a4" stroke-width="0.3" stroke-dasharray="2 1.2" />
<text x="8.2" y="572" font-size="4" fill="#111" font-family="DejaVu Sans, Liberation Sans, sans-serif"  stroke="#111" stroke-width="0.12">IP_1</text>
<text x="55.4" y="564" font-size="3.5" fill="#111" text-anchor="end" font-family="DejaVu Sans, Liberation Sans, sans-serif"  stroke="#111" stroke-width="0.12">0.39</text>
<text x="55.4" y="577.2" font-size="3.5" fill="#111" text-anchor="end" font-family="DejaVu Sans, Liberation Sans, sans-serif"  stroke="#111" stroke-width="0.12">-0.39</text>
<path d="M56.2 569.5L56.2 568.7L57 568.1L57.7 568L58.5 567.4L59.2 566.2L60 568L60.7 568.4L61.5 569.4L63.6 569.4L63.6 568.7L64.3 567.8L65.1 567.3L65.8 567.2L66.6 567.8L67.3 567.5L68.1 566.5L68.8 566.5L69.6 567.1L70.3 567.7L71.1 566.9L71.8 568L72.6 567.7L73.3 565.9L74.1 568.7L74.8 568.2L75.6 569.4L76.3 569.4L76.3 568.7L77 566.7L77.8 566.3L78.5 566L79.3 566.4L80 566.7L80.8 567.6L81.5 569.4L83.3 569.4L83.3 568.7L84.1 566.1L84.8 568.5L85.6 568.3L86.3 568.2L87.1 567.7L87.8 567.5L88.6 567.9L89.3 567.9L90.1 567.8L90.8 568L91.6 568.1L92.3 567.4L93.1 568.5L93.8 568.4L94.6 566.5L95.3 569.4L98.1 569.4L98.1 568.8L98.9 568.3L99.6 565.8L100.4 567.1L101.1 567.6L101.9 568.1L102.6 569L103.4 569.4L105.1 569.4L105.1 568.7L105.8 568.2L106.6 568.5L107.3 567.8L108.1 567.9L108.8 567.5L109.6 566.9L110.3 567.4L111.1 567.7L111.8 566.9L112.6 566.8L113.3 567.1L114.1 566.9L114.8 565.7L115.6 567.7L116.3 567.8L117.1 568.1L117.8 567.9L118.6 568.5L119.3 568.2L120.1 569.4L122.5 569.4L122.5 568.5L123.2 568.7L124 567.5L124.7 568.2L125.5 568.5L126.2 568.6L127 568.4L127.7 569.4L129.5 569.4L129.5 569L130.3 569L131 568.8L131.8 568.7L132.5 568.7L133.3 568.2L134 568.5L134.8 568.5L135.5 568.4L136.3 568.5L137 568.1L137.8 568.5L138.5 568.5L139.3 568.8L140 568.5L140.8 566.9L141.5 568.6L142.3 568.9L143 569.4L145.3 569.4L145.3 569.1L146.1 568.7L146.8 568.7L147.6 568.7L148.3 568.1L149.1 568.7L149.8 568.5L150.6 568.8L151.3 569.4L151.9 569.4L151.9 569.1L152.7 568.8L153.4 568.3L154.2 568.7L154.9 567.8L155.7 568L156.4 568.7L157.2 568L157.9 567.9L158.7 568L159.4 568.2L160.2 568.2L160.9 568.6L161.7 568.7L162.4 569.4L163.2 569.4L163.2 568L163.9 568L164.7 568.1L165.4 567.4L166.2 568L166.9 567.6L167.7 566.7L168.4 567.6L169.2 566.2L169.9 567.3L170.7 567.2L171.4 568.3L172.2 567.8L172.9 567.7L173.7 569.4L176.5 569.4L176.5 566.9L177.2 568.7L178 568.7L178.7 567.9L179.5 568.1L180.2 567.6L181 568L181.7 568.5L182.5 567.7L183.2 568.2L184 568.3L184.7 568.4L185.5 567.9L186.2 567.5L187 567.9L187.7 567.9L188.5 568L189.2 568.2L190 568.7L190.7 568.5L191.5 568.5L192.2 569L193 569.4L195.8 569.4L195.8 568.9L196.5 569.1L197.3 568.8L198 568.5L198.8 568.3L199.5 568.6L200.3 568.3L201 566.5L201.8 568.1L202.5 568.7L203.3 568.4L204 568.7L204.8 568.5L205.5 568.8L206.3 569L207 569.1L207.8 569.4L208.6 569.4L208.6 568.8L209.3 568.5L210.1 568.5L210.8 568.4L211.6 567.1L212.3 568.5L213.1 567.6L213.8 567.9L214.6 568.9L215.3 569.4L215.8 569.4L215.8 567.9L216.5 569L217.3 569L218 568.5L218.8 568.4L219.5 568.2L220.3 568.3L221 568.1L221.8 568.8L222.5 566.2L223.3 568.6L224 568.7L224.8 569.1L225.5 569.4L227.9 569.4L227.9 569L228.7 568.7L229.4 568.7L230.2 568L230.9 568.6L231.7 566L232.4 567.7L233.2 566.8L233.9 567.7L234.7 568.4L235.4 568.7L236.2 568.4L236.9 568.9L237.7 569.4L239.6 569.4L239.6 569L240.3 568.9L241.1 568.7L241.8 568.3L242.6 568.6L243.3 568.6L244.1 568.3L244.8 568.1L245.6 567.8L246.3 567.8L247.1 567.7L247.8 567.8L248.6 568L249.3 568.4L250.1 568.4L250.8 568.5L251.6 569.4L253.2 569.4L253.2 569L253.9 568.8L254.7 568L255.4 568.1L256.2 568.3L256.9 568.9L257.7 569.4L260.3 569.4L260.3 567.7L261 568.2L261.8 568.4L262.5 568.4L263.3 569.4L262.8 569.5Z" fill="#d9555c" />
<line x1="56.2" y1="569.5" x2="262.8" y2="569.5" stroke="#e9a0a4" stroke-width="0.3" stroke-dasharray="2 1.2" />
<text x="8.2" y="588.9" font-size="4" fill="#111" font-family="DejaVu Sans, Liberation Sans, sans-serif"  stroke="#111" stroke-width="0.12">Input_2</text>
<text x="55.4" y="582.4" font-size="3.5" fill="#111" text-anchor="end" font-family="DejaVu Sans, Liberation Sans, sans-serif"  stroke="#111" stroke-width="0.12">0.21</text>
<text x="55.4" y="593.6" font-size="3.5" fill="#111" text-anchor="end" font-family="DejaVu Sans, Liberation Sans, sans-serif"  stroke="#111" stroke-width="0.12">-0.21</text>
<path d="M56.2 586.3L56.2 585.8L57 585.9L57.7 585.6L58.5 585.5L59.2 585.8L60 585.8L60.7 585.6L61.5 585.2L62.2 585.4L63 585.4L63.7 585.4L64.5 585.6L65.2 585.5L66 585.2L66.7 585.8L67.5 585.6L68.2 585.6L69 585.8L69.7 585.6L70.5 586L71.2 586L72 586.2L74.2 586.2L74.2 585.1L75 584.6L75.7 584.9L76.5 584.5L77.2 584.3L78 584.8L78.7 583.5L79.5 584.3L80.2 583.7L81 584.3L81.7 584.1L82.5 583.3L83.2 584L84 583.9L84.7 584.7L85.5 585L86.2 585L87 585L87.7 585.4L88.5 586.2L89 586.2L89 585L89.7 585.4L90.5 583.5L91.2 583.1L92 583L92.7 581.9L93.5 584.8L94.2 584.4L95 586.2L96.6 586.2L96.6 586L97.4 585.4L98.1 585.3L98.9 585.2L99.6 585.2L100.4 585.5L101.1 585L101.9 585.6L102.6 585.2L103.4 585.5L104.1 585.6L104.9 586.2L107.3 586.2L107.3 585.8L108.1 585.5L108.8 585.6L109.6 582.6L110.3 585L111.1 584.5L111.8 584.7L112.6 585L113.3 584.6L114.1 584.5L114.8 585.2L115.6 585.5L116.3 585.6L117.1 586.2L120.1 586.2L120.1 585.3L120.8 585.2L121.6 584.6L122.3 584.3L123.1 583.9L123.8 584L124.6 584.7L125.3 584.9L126.1 585.3L126.8 586.2L128 586.2L128 585.8L128.8 585.1L129.5 584.9L130.3 585.1L131 584.9L131.8 584.5L132.5 585L133.3 585.1L134 585.7L134.8 586.2L137 586.2L137 586L137.8 585.8L138.5 585.6L139.3 585.3L140 585.4L140.8 585.9L141.5 586.2L144.6 586.2L144.6 585.5L145.4 584L146.1 583.8L146.9 585L147.6 585.3L148.4 585.4L149.1 586.2L151.8 586.2L151.8 586L152.5 585.6L153.3 585.9L154 585.5L154.8 585.6L155.5 585.3L156.3 585.2L157 585.3L157.8 585.5L158.5 585.9L159.3 586.2L162.2 586.2L162.2 585.6L162.9 585.4L163.7 584.7L164.4 584.5L165.2 583.6L165.9 584.7L166.7 584.1L167.4 583.6L168.2 584.4L168.9 584.8L169.7 585.3L170.4 586.2L172.3 586.2L172.3 585.5L173.1 584.8L173.8 584.9L174.6 584.4L175.3 583.1L176.1 585.2L176.8 586.2L177.7 586.2L177.7 585.3L178.5 585.1L179.2 584L180 585.1L180.7 583.8L181.5 584.2L182.2 584.4L183 582.9L183.7 583.3L184.5 584.6L185.2 583.6L186 584.4L186.7 583.1L187.5 583.2L188.2 583.5L189 584.1L189.7 583.3L190.5 583.8L191.2 584.8L192 585.1L192.7 586.2L194.7 586.2L194.7 585.9L195.5 585.8L196.2 585.8L197 585.8L197.7 585.3L198.5 584.6L199.2 585.5L200 584.4L200.7 585.3L201.5 585.6L202.2 585.8L203 585.7L203.7 584.3L204.5 585.6L205.2 585.7L206 586.2L208.1 586.2L208.1 585.6L208.8 585.2L209.6 584.2L210.3 585L211.1 584.6L211.8 584.1L212.6 584L213.3 583.9L214.1 585L214.8 585.1L215.6 585.2L216.3 585.7L217.1 586.2L220.2 586.2L220.2 585.6L220.9 585.2L221.7 585.1L222.4 585.2L223.2 585L223.9 584.6L224.7 584.7L225.4 583.9L226.2 584.8L226.9 585.1L227.7 585.1L228.4 585.6L229.2 585.5L229.9 585.7L230.7 586.2L232.4 586.2L232.4 585.5L233.1 583L233.9 584.5L234.6 584.3L235.4 583.5L236.1 582.8L236.9 584.8L237.6 584L238.4 583.5L239.1 584L239.9 584.3L240.6 585.3L241.4 586.2L243.1 586.2L243.1 585.8L243.8 585.6L244.6 585.3L245.3 585.3L246.1 585.4L246.8 585.6L247.6 585.5L248.3 585.3L249.1 585.1L249.8 585.5L250.6 585.6L251.3 585.1L252.1 585.3L252.8 585.7L253.6 586.2L254.6 586.2L254.6 583.3L255.3 584.1L256.1 583.3L256.8 584.2L257.6 583.7L258.3 584.6L259.1 584L259.8 583.8L260.6 584.7L261.3 585.3L262.1 584.5L262.8 586.2L262.8 586.3Z" fill="#d9555c" />
<line x1="56.2" y1="586.3" x2="262.8" y2="586.3" stroke="#e9a0a4" stroke-width="0.3" stroke-dasharray="2 1.2" />
<text x="8.2" y="605.1" font-size="4" fill="#111" font-family="DejaVu Sans, Liberation Sans, sans-serif"  stroke="#111" stroke-width="0.12">Input_1</text>
<text x="55.4" y="597.7" font-size="3.5" fill="#111" text-anchor="end" font-family="DejaVu Sans, Liberation Sans, sans-serif"  stroke="#111" stroke-width="0.12">0.26</text>
<text x="55.4" y="609.5" font-size="3.5" fill="#111" text-anchor="end" font-family="DejaVu Sans, Liberation Sans, sans-serif"  stroke="#111" stroke-width="0.12">-0.26</text>
<path d="M56.2 602.2L56.2 601.8L57 601.5L57.7 601.2L58.5 601.6L59.2 601L60 601.2L60.7 601.7L61.5 601.8L62.2 602.1L64.1 602.1L64.1 600.9L64.9 599.8L65.6 599.8L66.4 599.9L67.1 599.2L67.9 599.6L68.6 599.6L69.4 599.9L70.1 600.6L70.9 600.6L71.6 602.1L74.2 602.1L74.2 599.7L75 601.7L75.7 601.4L76.5 601.7L77.2 601.5L78 601.6L78.7 601.1L79.5 601.3L80.2 601.8L81 600.5L81.7 601.7L82.5 602.1L85.1 602.1L85.1 601.6L85.8 601.6L86.6 600.8L87.3 601L88.1 600.5L88.8 600.2L89.6 601.1L90.3 601.1L91.1 600.8L91.8 600.8L92.6 600.5L93.3 600.6L94.1 601.1L94.8 600.8L95.6 601.1L96.3 601.4L97.1 601.5L97.8 601.6L98.6 602.1L99.2 602.1L99.2 601.2L99.9 600.1L100.7 601.3L101.4 599.8L102.2 600.4L102.9 600.1L103.7 599.5L104.4 599.8L105.2 600.5L105.9 600.9L106.7 601.1L107.4 602.1L109.9 602.1L109.9 601.5L110.6 601.7L111.4 601.4L112.1 601.1L112.9 601.4L113.6 601.4L114.4 601.2L115.1 601.4L115.9 601L116.6 600.8L117.4 601.1L118.1 601.3L118.9 600.9L119.6 601.2L120.4 601.7L121.1 601.4L121.9 601.7L122.6 602.1L123.1 602.1L123.1 600.8L123.9 601L124.6 600.7L125.4 599.9L126.1 599.9L126.9 599.7L127.6 598.5L128.4 599.3L129.1 600.8L129.9 600.4L130.6 600.5L131.4 599.7L132.1 599.4L132.9 600L133.6 599.2L134.4 600.2L135.1 600.6L135.9 600.8L136.6 600.3L137.4 600.8L138.1 602.1L139.9 602.1L139.9 601.5L140.7 600.1L141.4 600.3L142.2 599.5L142.9 599.4L143.7 600.1L144.4 600.7L145.2 600.9L145.9 600.8L146.7 602.1L149.1 602.1L149.1 601.8L149.9 601.8L150.6 601.2L151.4 601.6L152.1 601.2L152.9 601.8L153.6 601.7L154.4 602.1L155 602.1L155 601.3L155.8 600.1L156.5 600.8L157.3 599.7L158 599.8L158.8 598.7L159.5 599.9L160.3 600.4L161 599.8L161.8 598.9L162.5 597.1L163.3 598.8L164 598.4L164.8 598.6L165.5 599.6L166.3 600.2L167 599.4L167.8 600.5L168.5 600.6L169.3 601L170 602.1L170.7 602.1L170.7 600.6L171.4 601L172.2 599.8L172.9 597.7L173.7 600.5L174.4 598.8L175.2 598.9L175.9 598.7L176.7 599.2L177.4 599.3L178.2 600.1L178.9 600.6L179.7 597.9L180.4 600.9L181.2 601.1L181.9 602.1L184 602.1L184 601.1L184.8 600.7L185.5 600.1L186.3 600.6L187 600.9L187.8 599.5L188.5 601L189.3 600.7L190 601.1L190.8 602.1L191.7 602.1L191.7 601.4L192.5 599.1L193.2 600.5L194 600.7L194.7 600.2L195.5 601.1L196.2 600.5L197 600.8L197.7 600.2L198.5 597.7L199.2 599.6L200 598.3L200.7 599.4L201.5 599.5L202.2 599.8L203 599.8L203.7 598.4L204.5 601.2L205.2 600.7L206 601.1L206.7 601.6L207.5 602.1L208.9 602.1L208.9 600.8L209.7 599.2L210.4 600.6L211.2 600.9L211.9 600.5L212.7 599.7L213.4 599.4L214.2 599.2L214.9 599.8L215.7 599.1L216.4 600.6L217.2 599.7L217.9 600L218.7 600.5L219.4 600.7L220.2 600.4L220.9 601.1L221.7 602.1L224.4 602.1L224.4 601.4L225.1 601.2L225.9 601.4L226.6 601L227.4 600.8L228.1 600.8L228.9 600.5L229.6 600.7L230.4 599.7L231.1 600.6L231.9 600.9L232.6 601L233.4 600.7L234.1 601.3L234.9 601.2L235.6 601.6L236.4 601.6L237.1 602.1L239.7 602.1L239.7 599.5L240.4 600.7L241.2 600.6L241.9 600.8L242.7 600.2L243.4 600.7L244.2 599.4L244.9 600.9L245.7 600.7L246.4 601.1L247.2 600.6L247.9 601L248.7 602.1L251.4 602.1L251.4 601.3L252.1 601.5L252.9 600.5L253.6 598.5L254.4 600.4L255.1 601.1L255.9 600.4L256.6 600.3L257.4 600.8L258.1 601.6L258.9 602.1L259.6 602.1L259.6 601.2L260.3 601.2L261.1 601.7L261.8 601.3L262.6 601.8L263.3 602.1L262.8 602.2Z" fill="#d9555c" />
<line x1="56.2" y1="602.2" x2="262.8" y2="602.2" stroke="#e9a0a4" stroke-width="0.3" stroke-dasharray="2 1.2" />
<rect x="96.5" y="565" width="9.5" height="4.8" fill="#fff" />
<line x1="98.6" y1="565" x2="98.6" y2="569.8" stroke="#dcdcf6" stroke-width="0.55" />
<line x1="103.8" y1="565" x2="103.8" y2="569.8" stroke="#dcdcf6" stroke-width="0.55" />
<rect x="212.8" y="499.3" width="29" height="3.7" fill="#7fcf6c" />
<text x="213.5" y="502.3" font-size="2.9" fill="#113" font-weight="bold" font-family="DejaVu Sans, Liberation Sans, sans-serif"  stroke="#113" stroke-width="0.12">IP_1_peak_49365</text>
<rect x="212.3" y="503.6" width="3.1" height="121.5" fill="none" stroke="#1c74d2" stroke-width="1.1" />
<line x1="56.2" y1="613.5" x2="96" y2="613.5" stroke="#000" stroke-width="1" />
<line x1="96" y1="613.5" x2="196.4" y2="613.5" stroke="#111" stroke-width="0.4" />
<rect x="179" y="612.5" width="3.7" height="2" fill="#000" />
<rect x="151.3" y="612.5" width="1.3" height="2" fill="#000" />
<rect x="160" y="612.5" width="2.5" height="2" fill="#000" />
<rect x="171" y="612.5" width="2.5" height="2" fill="#000" />
<line x1="93" y1="617.3" x2="210.7" y2="617.3" stroke="#111" stroke-width="0.4" />
<rect x="90" y="616.3" width="2.5" height="2" fill="#000" />
<rect x="147.4" y="616.3" width="2" height="2" fill="#000" />
<rect x="179" y="616.3" width="3.7" height="2" fill="#000" />
<rect x="196.4" y="616.3" width="3.4" height="2" fill="#000" />
<rect x="208.5" y="616.3" width="2.5" height="2" fill="#000" />
<line x1="95" y1="620.6" x2="210.7" y2="620.6" stroke="#111" stroke-width="0.4" />
<rect x="147.4" y="619.6" width="2" height="2" fill="#000" />
<rect x="179" y="619.6" width="3.7" height="2" fill="#000" />
<rect x="196.4" y="619.6" width="3.4" height="2" fill="#000" />
<rect x="208.5" y="619.6" width="2.5" height="2" fill="#000" />
<rect x="100" y="619.6" width="3" height="2" fill="#000" />
<rect x="106" y="619.6" width="3" height="2" fill="#000" />
<line x1="100" y1="623.7" x2="210.7" y2="623.7" stroke="#111" stroke-width="0.4" />
<rect x="147.4" y="622.7" width="2" height="2" fill="#000" />
<rect x="179" y="622.7" width="3.7" height="2" fill="#000" />
<rect x="196.4" y="622.7" width="3.4" height="2" fill="#000" />
<rect x="208.5" y="622.7" width="2.5" height="2" fill="#000" />
<rect x="104" y="622.7" width="3" height="2" fill="#000" />
<rect x="110" y="622.7" width="4" height="2" fill="#000" />
<line x1="104" y1="626.7" x2="210.7" y2="626.7" stroke="#111" stroke-width="0.4" />
<rect x="179" y="625.7" width="3.7" height="2" fill="#000" />
<rect x="196.4" y="625.7" width="3.4" height="2" fill="#000" />
<rect x="208.5" y="625.7" width="2.5" height="2" fill="#000" />
<rect x="104" y="625.7" width="4" height="2" fill="#000" />
<rect x="112" y="625.7" width="6" height="2" fill="#000" />
<rect x="147.4" y="626" width="35.3" height="1.4" fill="#000" />
<line x1="232" y1="631.2" x2="262.8" y2="631.2" stroke="#111" stroke-width="0.4" />
<rect x="232.2" y="630.2" width="4.3" height="2" fill="#000" />
<rect x="244.8" y="630.2" width="1.8" height="2" fill="#000" />
<line x1="232" y1="633.7" x2="262.8" y2="633.7" stroke="#111" stroke-width="0.4" />
<rect x="232.2" y="632.7" width="4.3" height="2" fill="#000" />
<rect x="244.8" y="632.7" width="1.8" height="2" fill="#000" />
<line x1="104" y1="633.7" x2="120" y2="633.7" stroke="#111" stroke-width="0.4" />
<rect x="104" y="632.7" width="2" height="2" fill="#000" />
<rect x="108" y="632.7" width="4" height="2" fill="#000" />
<rect x="116" y="632.7" width="4" height="2" fill="#000" />
<rect x="148" y="632.7" width="1.6" height="2" fill="#000" />
<line x1="118" y1="637.4" x2="199" y2="637.4" stroke="#111" stroke-width="0.4" />
<rect x="148" y="636.4" width="1.6" height="2" fill="#000" />
<rect x="159.8" y="636.4" width="1.2" height="2" fill="#000" />
<rect x="179.5" y="636.4" width="2.8" height="2" fill="#000" />
<rect x="197" y="636.4" width="2.5" height="2" fill="#000" />
<line x1="179" y1="641" x2="200" y2="641" stroke="#111" stroke-width="0.4" />
<rect x="179.5" y="640" width="2.8" height="2" fill="#000" />
<rect x="197" y="640" width="2.5" height="2" fill="#000" />
<line x1="232" y1="644.1" x2="262.8" y2="644.1" stroke="#111" stroke-width="0.4" />
<rect x="232.2" y="643.1" width="4.3" height="2" fill="#000" />
<rect x="244.8" y="643.1" width="1.8" height="2" fill="#000" />
<line x1="235" y1="648" x2="262.8" y2="648" stroke="#111" stroke-width="0.4" />
<rect x="236" y="647" width="2.5" height="2" fill="#000" />
<rect x="244.8" y="647" width="1.8" height="2" fill="#000" />
<text x="55.8" y="615.3" font-size="4" fill="#111" text-anchor="end" font-family="DejaVu Sans, Liberation Sans, sans-serif"  stroke="#111" stroke-width="0.12">ENSMUST00000123353.8</text>
<text x="55.8" y="618.25" font-size="4" fill="#111" text-anchor="end" font-family="DejaVu Sans, Liberation Sans, sans-serif"  stroke="#111" stroke-width="0.12">ENSMUST00000132583.2</text>
<text x="55.8" y="621.2" font-size="4" fill="#111" text-anchor="end" font-family="DejaVu Sans, Liberation Sans, sans-serif"  stroke="#111" stroke-width="0.12">ENSMUST00000152934.8</text>
<text x="55.8" y="624.15" font-size="4" fill="#111" text-anchor="end" font-family="DejaVu Sans, Liberation Sans, sans-serif"  stroke="#111" stroke-width="0.12">ENSMUST00000134588.2</text>
<text x="55.8" y="627.1" font-size="4" fill="#111" text-anchor="end" font-family="DejaVu Sans, Liberation Sans, sans-serif"  stroke="#111" stroke-width="0.12">ENSMUST00000147768.8</text>
<text x="55.8" y="630.05" font-size="4" fill="#111" text-anchor="end" font-family="DejaVu Sans, Liberation Sans, sans-serif"  stroke="#111" stroke-width="0.12">ENSMUST00000149798.8</text>
<text x="55.8" y="633" font-size="4" fill="#111" text-anchor="end" font-family="DejaVu Sans, Liberation Sans, sans-serif"  stroke="#111" stroke-width="0.12">ENSMUST00000135178.8</text>
<text x="55.8" y="635.95" font-size="4" fill="#111" text-anchor="end" font-family="DejaVu Sans, Liberation Sans, sans-serif"  stroke="#111" stroke-width="0.12">ENSMUST00000151768.2</text>
<text x="146.8" y="618.6" font-size="4" fill="#111" text-anchor="end" font-family="DejaVu Sans, Liberation Sans, sans-serif"  stroke="#111" stroke-width="0.12">ENSMUST00000196864.3</text>
<text x="146.5" y="628" font-size="4" fill="#111" text-anchor="end" font-family="DejaVu Sans, Liberation Sans, sans-serif"  stroke="#111" stroke-width="0.12">ENSMUST00000191337.2</text>
<text x="117.5" y="639.3" font-size="4" fill="#111" text-anchor="end" font-family="DejaVu Sans, Liberation Sans, sans-serif"  stroke="#111" stroke-width="0.12">ENSMUST00000150804.3</text>
<text x="179" y="642.6" font-size="4" fill="#111" text-anchor="end" font-family="DejaVu Sans, Liberation Sans, sans-serif"  stroke="#111" stroke-width="0.12">ENSMUST00000128358.3</text>
<text x="231.3" y="632.2" font-size="4" fill="#111" text-anchor="end" font-family="DejaVu Sans, Liberation Sans, sans-serif"  stroke="#111" stroke-width="0.12">ENSMUST00000057344.3</text>
<text x="231.3" y="635.2" font-size="4" fill="#111" text-anchor="end" font-family="DejaVu Sans, Liberation Sans, sans-serif"  stroke="#111" stroke-width="0.12">ENSMUST00000212537.2</text>
<text x="231.6" y="645.5" font-size="4" fill="#111" text-anchor="end" font-family="DejaVu Sans, Liberation Sans, sans-serif"  stroke="#111" stroke-width="0.12">ENSMUST00000109242.8</text>
<text x="234.2" y="649.5" font-size="4" fill="#111" text-anchor="end" font-family="DejaVu Sans, Liberation Sans, sans-serif"  stroke="#111" stroke-width="0.12">ENSMUST00000212689.2</text>
<text x="269.8" y="490.7" font-size="12.6" fill="#000"  stroke="#000" stroke-width="0.16">K</text>
<text x="458.7" y="499" font-size="9.6" fill="#111"  stroke="#111" stroke-width="0.16">DHODH</text>
<linearGradient id="kg" x1="0" y1="0" x2="0" y2="1"><stop offset="0.0" stop-color="#08306b"/><stop offset="0.125" stop-color="#08519c"/><stop offset="0.25" stop-color="#2171b5"/><stop offset="0.375" stop-color="#4292c6"/><stop offset="0.5" stop-color="#6baed6"/><stop offset="0.625" stop-color="#9ecae1"/><stop offset="0.75" stop-color="#c6dbef"/><stop offset="0.875" stop-color="#deebf7"/><stop offset="1.0" stop-color="#f7fbff"/></linearGradient>
<rect x="293.1" y="507.2" width="70.9" height="131.2" fill="#e3eef9" />
<rect x="293.1" y="507.2" width="2.6" height="131.2" fill="#eff6fc" />
<rect x="295.55" y="507.2" width="3.22" height="131.2" fill="#dbe9f6" />
<rect x="298.61" y="507.2" width="1.78" height="131.2" fill="#f1f7fd" />
<rect x="300.25" y="507.2" width="3.62" height="131.2" fill="#d5e5f4" />
<rect x="303.72" y="507.2" width="3.22" height="131.2" fill="#9cc9e1" />
<rect x="306.79" y="507.2" width="3.22" height="131.2" fill="#d0e1f2" />
<rect x="309.85" y="507.2" width="4.24" height="131.2" fill="#b6d4e9" />
<rect x="313.94" y="507.2" width="6.28" height="131.2" fill="#ddeaf7" />
<rect x="320.07" y="507.2" width="3.62" height="131.2" fill="#c8dcf0" />
<rect x="323.55" y="507.2" width="2.81" height="131.2" fill="#d9e8f5" />
<rect x="326.2" y="507.2" width="2.81" height="131.2" fill="#64aad3" />
<rect x="328.86" y="507.2" width="3.62" height="131.2" fill="#083d7f" />
<rect x="332.33" y="507.2" width="4.24" height="131.2" fill="#8cc0dd" />
<rect x="336.42" y="507.2" width="4.24" height="131.2" fill="#c6dbef" />
<rect x="340.51" y="507.2" width="4.24" height="131.2" fill="#d5e5f4" />
<rect x="344.6" y="507.2" width="3.22" height="131.2" fill="#bcd7ec" />
<rect x="347.66" y="507.2" width="3.22" height="131.2" fill="#dfecf7" />
<rect x="350.73" y="507.2" width="4.24" height="131.2" fill="#9cc9e1" />
<rect x="354.82" y="507.2" width="2.19" height="131.2" fill="#d9e8f5" />
<rect x="356.86" y="507.2" width="4.24" height="131.2" fill="#b0d1e7" />
<rect x="360.95" y="507.2" width="3.2" height="131.2" fill="#dbe9f6" />
<rect x="293.1" y="507.2" width="70.9" height="131.2" fill="none" stroke="#333" stroke-width="0.5" />
<ellipse cx="331" cy="573.5" rx="7.4" ry="70" fill="none" stroke="#e23b2b" stroke-width="1.35" />
<rect x="368.6" y="507.2" width="71.1" height="131.2" fill="#e3eef9" />
<rect x="368.6" y="507.2" width="2.79" height="131.2" fill="#ddeaf7" />
<rect x="371.24" y="507.2" width="2.19" height="131.2" fill="#c6dbef" />
<rect x="373.28" y="507.2" width="3.22" height="131.2" fill="#dfecf7" />
<rect x="376.35" y="507.2" width="4.24" height="131.2" fill="#a9cfe5" />
<rect x="380.44" y="507.2" width="6.28" height="131.2" fill="#f1f7fd" />
<rect x="386.57" y="507.2" width="6.28" height="131.2" fill="#d9e8f5" />
<rect x="392.7" y="507.2" width="5.26" height="131.2" fill="#d0e1f2" />
<rect x="397.81" y="507.2" width="4.24" height="131.2" fill="#b6d4e9" />
<rect x="401.9" y="507.2" width="2.19" height="131.2" fill="#5ba3d0" />
<rect x="403.94" y="507.2" width="3.62" height="131.2" fill="#08306b" />
<rect x="407.41" y="507.2" width="2.81" height="131.2" fill="#4493c7" />
<rect x="410.07" y="507.2" width="3.22" height="131.2" fill="#a3cce3" />
<rect x="413.14" y="507.2" width="4.24" height="131.2" fill="#ddeaf7" />
<rect x="417.22" y="507.2" width="4.24" height="131.2" fill="#bcd7ec" />
<rect x="421.31" y="507.2" width="5.26" height="131.2" fill="#d9e8f5" />
<rect x="426.42" y="507.2" width="3.22" height="131.2" fill="#c6dbef" />
<rect x="429.49" y="507.2" width="4.24" height="131.2" fill="#dfecf7" />
<rect x="433.57" y="507.2" width="6.28" height="131.2" fill="#d2e3f3" />
<rect x="368.6" y="507.2" width="71.1" height="131.2" fill="none" stroke="#333" stroke-width="0.5" />
<ellipse cx="406.8" cy="570.4" rx="7.3" ry="70" fill="none" stroke="#e23b2b" stroke-width="1.35" />
<text x="328.3" y="503.5" font-size="6.4" fill="#111" text-anchor="middle" font-family="DejaVu Sans, Liberation Sans, sans-serif"  stroke="#111" stroke-width="0.16">Hnrnpk_1</text>
<text x="404" y="503.5" font-size="6.4" fill="#111" text-anchor="middle" font-family="DejaVu Sans, Liberation Sans, sans-serif"  stroke="#111" stroke-width="0.16">Hnrnpk_2</text>
<line x1="293.1" y1="638.4" x2="293.1" y2="640.2" stroke="#222" stroke-width="0.5" />
<line x1="330.3" y1="638.4" x2="330.3" y2="640.2" stroke="#222" stroke-width="0.5" />
<line x1="364" y1="638.4" x2="364" y2="640.2" stroke="#222" stroke-width="0.5" />
<text x="293.9" y="647.3" font-size="5.1" fill="#111" font-family="DejaVu Sans, Liberation Sans, sans-serif"  stroke="#111" stroke-width="0.16">-3.0</text>
<text x="328.2" y="647.3" font-size="5.1" fill="#111" text-anchor="middle" font-family="DejaVu Sans, Liberation Sans, sans-serif"  stroke="#111" stroke-width="0.16">center</text>
<text x="363.6" y="647.3" font-size="5.1" fill="#111" text-anchor="end" font-family="DejaVu Sans, Liberation Sans, sans-serif"  stroke="#111" stroke-width="0.16">3.0Kb</text>
<text x="328.25" y="655.4" font-size="5.4" fill="#111" text-anchor="middle" font-family="DejaVu Sans, Liberation Sans, sans-serif"  stroke="#111" stroke-width="0.16">peaks distance (bp)</text>
<line x1="368.6" y1="638.4" x2="368.6" y2="640.2" stroke="#222" stroke-width="0.5" />
<line x1="405.6" y1="638.4" x2="405.6" y2="640.2" stroke="#222" stroke-width="0.5" />
<line x1="439.7" y1="638.4" x2="439.7" y2="640.2" stroke="#222" stroke-width="0.5" />
<text x="369.4" y="647.3" font-size="5.1" fill="#111" font-family="DejaVu Sans, Liberation Sans, sans-serif"  stroke="#111" stroke-width="0.16">-3.0</text>
<text x="403.5" y="647.3" font-size="5.1" fill="#111" text-anchor="middle" font-family="DejaVu Sans, Liberation Sans, sans-serif"  stroke="#111" stroke-width="0.16">center</text>
<text x="439.3" y="647.3" font-size="5.1" fill="#111" text-anchor="end" font-family="DejaVu Sans, Liberation Sans, sans-serif"  stroke="#111" stroke-width="0.16">3.0Kb</text>
<text x="403.85" y="655.4" font-size="5.4" fill="#111" text-anchor="middle" font-family="DejaVu Sans, Liberation Sans, sans-serif"  stroke="#111" stroke-width="0.16">peaks distance (bp)</text>
<text x="289.8" y="573.7" font-size="5.1" fill="#111" text-anchor="middle" transform="rotate(-90 289.8 573.7)" font-family="DejaVu Sans, Liberation Sans, sans-serif"  stroke="#111" stroke-width="0.16">peaks</text>
<rect x="444.4" y="507.2" width="7.2" height="131.2" fill="url(#kg)" stroke="#333" stroke-width="0.5" />
<line x1="451.6" y1="510.7" x2="453.4" y2="510.7" stroke="#222" stroke-width="0.5" />
<text x="455.8" y="512.6" font-size="5.1" fill="#111" font-family="DejaVu Sans, Liberation Sans, sans-serif"  stroke="#111" stroke-width="0.16">0.6</text>
<line x1="451.6" y1="532.1" x2="453.4" y2="532.1" stroke="#222" stroke-width="0.5" />
<text x="455.8" y="534" font-size="5.1" fill="#111" font-family="DejaVu Sans, Liberation Sans, sans-serif"  stroke="#111" stroke-width="0.16">0.5</text>
<line x1="451.6" y1="553.2" x2="453.4" y2="553.2" stroke="#222" stroke-width="0.5" />
<text x="455.8" y="555.1" font-size="5.1" fill="#111" font-family="DejaVu Sans, Liberation Sans, sans-serif"  stroke="#111" stroke-width="0.16">0.4</text>
<line x1="451.6" y1="574.6" x2="453.4" y2="574.6" stroke="#222" stroke-width="0.5" />
<text x="455.8" y="576.5" font-size="5.1" fill="#111" font-family="DejaVu Sans, Liberation Sans, sans-serif"  stroke="#111" stroke-width="0.16">0.3</text>
<line x1="451.6" y1="595.9" x2="453.4" y2="595.9" stroke="#222" stroke-width="0.5" />
<text x="455.8" y="597.8" font-size="5.1" fill="#111" font-family="DejaVu Sans, Liberation Sans, sans-serif"  stroke="#111" stroke-width="0.16">0.2</text>
<line x1="451.6" y1="617.3" x2="453.4" y2="617.3" stroke="#222" stroke-width="0.5" />
<text x="455.8" y="619.2" font-size="5.1" fill="#111" font-family="DejaVu Sans, Liberation Sans, sans-serif"  stroke="#111" stroke-width="0.16">0.1</text>
<line x1="451.6" y1="638.2" x2="453.4" y2="638.2" stroke="#222" stroke-width="0.5" />
<text x="455.8" y="640.1" font-size="5.1" fill="#111" font-family="DejaVu Sans, Liberation Sans, sans-serif"  stroke="#111" stroke-width="0.16">0.0</text>
<rect x="489.9" y="506.3" width="60.4" height="132.6" fill="#b6d4e9" />
<rect x="490.11" y="506.3" width="1.58" height="132.6" fill="#83bbdb" />
<rect x="491.54" y="506.3" width="1.38" height="132.6" fill="#c2d9ed" />
<rect x="492.77" y="506.3" width="1.58" height="132.6" fill="#08306b" />
<rect x="494.2" y="506.3" width="2.19" height="132.6" fill="#5ca4d0" />
<rect x="496.24" y="506.3" width="2.19" height="132.6" fill="#95c5df" />
<rect x="498.28" y="506.3" width="1.58" height="132.6" fill="#62a8d2" />
<rect x="499.71" y="506.3" width="1.78" height="132.6" fill="#c2d9ed" />
<rect x="501.35" y="506.3" width="2.19" height="132.6" fill="#83bbdb" />
<rect x="503.39" y="506.3" width="1.58" height="132.6" fill="#ddeaf7" />
<rect x="504.82" y="506.3" width="1.78" height="132.6" fill="#e9f2fa" />
<rect x="506.46" y="506.3" width="1.58" height="132.6" fill="#a5cde4" />
<rect x="507.89" y="506.3" width="1.78" height="132.6" fill="#c2d9ed" />
<rect x="509.52" y="506.3" width="1.78" height="132.6" fill="#95c5df" />
<rect x="511.16" y="506.3" width="1.58" height="132.6" fill="#d4e4f4" />
<rect x="512.59" y="506.3" width="1.58" height="132.6" fill="#83bbdb" />
<rect x="514.02" y="506.3" width="1.78" height="132.6" fill="#b3d3e9" />
<rect x="515.66" y="506.3" width="1.78" height="132.6" fill="#d1e2f3" />
<rect x="517.29" y="506.3" width="1.58" height="132.6" fill="#83bbdb" />
<rect x="518.72" y="506.3" width="1.58" height="132.6" fill="#c2d9ed" />
<rect x="520.15" y="506.3" width="1.78" height="132.6" fill="#72b2d7" />
<rect x="521.79" y="506.3" width="1.58" height="132.6" fill="#b3d3e9" />
<rect x="523.22" y="506.3" width="1.78" height="132.6" fill="#d4e4f4" />
<rect x="524.85" y="506.3" width="1.78" height="132.6" fill="#95c5df" />
<rect x="526.49" y="506.3" width="1.58" height="132.6" fill="#c2d9ed" />
<rect x="527.92" y="506.3" width="1.58" height="132.6" fill="#83bbdb" />
<rect x="529.35" y="506.3" width="1.78" height="132.6" fill="#0d57a1" />
<rect x="530.98" y="506.3" width="1.58" height="132.6" fill="#a5cde4" />
<rect x="532.41" y="506.3" width="1.78" height="132.6" fill="#d4e4f4" />
<rect x="534.05" y="506.3" width="1.58" height="132.6" fill="#b3d3e9" />
<rect x="535.48" y="506.3" width="1.78" height="132.6" fill="#08306b" />
<rect x="537.12" y="506.3" width="1.58" height="132.6" fill="#62a8d2" />
<rect x="538.55" y="506.3" width="1.78" height="132.6" fill="#083d7f" />
<rect x="540.18" y="506.3" width="1.58" height="132.6" fill="#a5cde4" />
<rect x="541.61" y="506.3" width="1.78" height="132.6" fill="#ddeaf7" />
<rect x="543.25" y="506.3" width="1.58" height="132.6" fill="#e9f2fa" />
<rect x="544.68" y="506.3" width="1.78" height="132.6" fill="#c2d9ed" />
<rect x="546.31" y="506.3" width="1.58" height="132.6" fill="#08519c" />
<rect x="547.74" y="506.3" width="2.71" height="132.6" fill="#83bbdb" />
<rect x="489.9" y="506.3" width="60.4" height="132.6" fill="none" stroke="#333" stroke-width="0.5" />
<rect x="554.8" y="506.3" width="60.8" height="132.6" fill="#b6d4e9" />
<rect x="555.51" y="506.3" width="1.58" height="132.6" fill="#a5cde4" />
<rect x="556.94" y="506.3" width="1.78" height="132.6" fill="#72b2d7" />
<rect x="558.57" y="506.3" width="1.78" height="132.6" fill="#c2d9ed" />
<rect x="560.21" y="506.3" width="1.58" height="132.6" fill="#62a8d2" />
<rect x="561.64" y="506.3" width="1.58" height="132.6" fill="#083b7b" />
<rect x="563.07" y="506.3" width="1.78" height="132.6" fill="#a5cde4" />
<rect x="564.71" y="506.3" width="2.19" height="132.6" fill="#ccdff1" />
<rect x="566.75" y="506.3" width="2.19" height="132.6" fill="#ddeaf7" />
<rect x="568.79" y="506.3" width="2.19" height="132.6" fill="#c2d9ed" />
<rect x="570.84" y="506.3" width="1.78" height="132.6" fill="#95c5df" />
<rect x="572.47" y="506.3" width="1.78" height="132.6" fill="#62a8d2" />
<rect x="574.11" y="506.3" width="1.78" height="132.6" fill="#83bbdb" />
<rect x="575.74" y="506.3" width="1.78" height="132.6" fill="#b3d3e9" />
<rect x="577.38" y="506.3" width="1.78" height="132.6" fill="#ccdff1" />
<rect x="579.01" y="506.3" width="1.78" height="132.6" fill="#a5cde4" />
<rect x="580.65" y="506.3" width="1.38" height="132.6" fill="#72b2d7" />
<rect x="581.87" y="506.3" width="1.58" height="132.6" fill="#08306b" />
<rect x="583.3" y="506.3" width="1.58" height="132.6" fill="#95c5df" />
<rect x="584.73" y="506.3" width="1.78" height="132.6" fill="#c2d9ed" />
<rect x="586.37" y="506.3" width="1.99" height="132.6" fill="#b3d3e9" />
<rect x="588.21" y="506.3" width="2.19" height="132.6" fill="#ccdff1" />
<rect x="590.25" y="506.3" width="2.19" height="132.6" fill="#ddeaf7" />
<rect x="592.3" y="506.3" width="3.22" height="132.6" fill="#e9f2fa" />
<rect x="595.36" y="506.3" width="1.78" height="132.6" fill="#ccdff1" />
<rect x="597" y="506.3" width="1.78" height="132.6" fill="#83bbdb" />
<rect x="598.63" y="506.3" width="1.78" height="132.6" fill="#62a8d2" />
<rect x="600.27" y="506.3" width="1.78" height="132.6" fill="#a5cde4" />
<rect x="601.9" y="506.3" width="1.78" height="132.6" fill="#83bbdb" />
<rect x="603.54" y="506.3" width="1.78" height="132.6" fill="#1b69af" />
<rect x="605.17" y="506.3" width="1.78" height="132.6" fill="#084a92" />
<rect x="606.81" y="506.3" width="1.78" height="132.6" fill="#08306b" />
<rect x="608.44" y="506.3" width="1.78" height="132.6" fill="#62a8d2" />
<rect x="610.08" y="506.3" width="1.78" height="132.6" fill="#0f5aa3" />
<rect x="611.71" y="506.3" width="2.19" height="132.6" fill="#83bbdb" />
<rect x="613.76" y="506.3" width="1.99" height="132.6" fill="#62a8d2" />
<rect x="554.8" y="506.3" width="60.8" height="132.6" fill="none" stroke="#333" stroke-width="0.5" />
<ellipse cx="582" cy="572.8" rx="7" ry="68.8" fill="none" stroke="#e23b2b" stroke-width="1.35" />
<text x="519.5" y="501.8" font-size="5.6" fill="#111" text-anchor="middle" font-family="DejaVu Sans, Liberation Sans, sans-serif"  stroke="#111" stroke-width="0.16">Input_1</text>
<text x="585.2" y="501.8" font-size="5.6" fill="#111" text-anchor="middle" font-family="DejaVu Sans, Liberation Sans, sans-serif"  stroke="#111" stroke-width="0.16">IP_1</text>
<line x1="489.9" y1="638.9" x2="489.9" y2="640.7" stroke="#222" stroke-width="0.5" />
<line x1="519.4" y1="638.9" x2="519.4" y2="640.7" stroke="#222" stroke-width="0.5" />
<line x1="550.3" y1="638.9" x2="550.3" y2="640.7" stroke="#222" stroke-width="0.5" />
<text x="489.9" y="648.2" font-size="4.8" fill="#111" font-family="DejaVu Sans, Liberation Sans, sans-serif"  stroke="#111" stroke-width="0.16">-3.0</text>
<text x="519.4" y="648.2" font-size="4.8" fill="#111" text-anchor="middle" font-family="DejaVu Sans, Liberation Sans, sans-serif"  stroke="#111" stroke-width="0.16">center</text>
<text x="550.3" y="648.2" font-size="4.8" fill="#111" text-anchor="end" font-family="DejaVu Sans, Liberation Sans, sans-serif"  stroke="#111" stroke-width="0.16">3.0Kb</text>
<text x="519.6" y="656" font-size="4.85" fill="#111" text-anchor="middle" font-family="DejaVu Sans, Liberation Sans, sans-serif"  stroke="#111" stroke-width="0.16">peaks distance (bp)</text>
<line x1="554.8" y1="638.9" x2="554.8" y2="640.7" stroke="#222" stroke-width="0.5" />
<line x1="585.2" y1="638.9" x2="585.2" y2="640.7" stroke="#222" stroke-width="0.5" />
<line x1="615.6" y1="638.9" x2="615.6" y2="640.7" stroke="#222" stroke-width="0.5" />
<text x="554.8" y="648.2" font-size="4.8" fill="#111" font-family="DejaVu Sans, Liberation Sans, sans-serif"  stroke="#111" stroke-width="0.16">-3.0</text>
<text x="585.2" y="648.2" font-size="4.8" fill="#111" text-anchor="middle" font-family="DejaVu Sans, Liberation Sans, sans-serif"  stroke="#111" stroke-width="0.16">center</text>
<text x="615.6" y="648.2" font-size="4.8" fill="#111" text-anchor="end" font-family="DejaVu Sans, Liberation Sans, sans-serif"  stroke="#111" stroke-width="0.16">3.0Kb</text>
<text x="584.7" y="656" font-size="4.85" fill="#111" text-anchor="middle" font-family="DejaVu Sans, Liberation Sans, sans-serif"  stroke="#111" stroke-width="0.16">peaks distance (bp)</text>
<rect x="620.1" y="506.3" width="6" height="132.6" fill="url(#kg)" stroke="#333" stroke-width="0.5" />
<line x1="626.1" y1="519.5" x2="627.8" y2="519.5" stroke="#222" stroke-width="0.5" />
<text x="630.3" y="521.2" font-size="4.6" fill="#111" font-family="DejaVu Sans, Liberation Sans, sans-serif"  stroke="#111" stroke-width="0.16">0.16</text>
<line x1="626.1" y1="534.8" x2="627.8" y2="534.8" stroke="#222" stroke-width="0.5" />
<text x="630.3" y="536.5" font-size="4.6" fill="#111" font-family="DejaVu Sans, Liberation Sans, sans-serif"  stroke="#111" stroke-width="0.16">0.14</text>
<line x1="626.1" y1="549.7" x2="627.8" y2="549.7" stroke="#222" stroke-width="0.5" />
<text x="630.3" y="551.4" font-size="4.6" fill="#111" font-family="DejaVu Sans, Liberation Sans, sans-serif"  stroke="#111" stroke-width="0.16">0.12</text>
<line x1="626.1" y1="564.7" x2="627.8" y2="564.7" stroke="#222" stroke-width="0.5" />
<text x="630.3" y="566.4" font-size="4.6" fill="#111" font-family="DejaVu Sans, Liberation Sans, sans-serif"  stroke="#111" stroke-width="0.16">0.10</text>
<line x1="626.1" y1="579.7" x2="627.8" y2="579.7" stroke="#222" stroke-width="0.5" />
<text x="630.3" y="581.4" font-size="4.6" fill="#111" font-family="DejaVu Sans, Liberation Sans, sans-serif"  stroke="#111" stroke-width="0.16">0.08</text>
<line x1="626.1" y1="594.6" x2="627.8" y2="594.6" stroke="#222" stroke-width="0.5" />
<text x="630.3" y="596.3" font-size="4.6" fill="#111" font-family="DejaVu Sans, Liberation Sans, sans-serif"  stroke="#111" stroke-width="0.16">0.06</text>
<line x1="626.1" y1="609.6" x2="627.8" y2="609.6" stroke="#222" stroke-width="0.5" />
<text x="630.3" y="611.3" font-size="4.6" fill="#111" font-family="DejaVu Sans, Liberation Sans, sans-serif"  stroke="#111" stroke-width="0.16">0.04</text>
<line x1="626.1" y1="624.6" x2="627.8" y2="624.6" stroke="#222" stroke-width="0.5" />
<text x="630.3" y="626.3" font-size="4.6" fill="#111" font-family="DejaVu Sans, Liberation Sans, sans-serif"  stroke="#111" stroke-width="0.16">0.02</text>
<line x1="626.1" y1="638.7" x2="627.8" y2="638.7" stroke="#222" stroke-width="0.5" />
<text x="630.3" y="640.4" font-size="4.6" fill="#111" font-family="DejaVu Sans, Liberation Sans, sans-serif"  stroke="#111" stroke-width="0.16">0.00</text>
<text x="0.2" y="677.2" font-size="12.6" fill="#000"  stroke="#000" stroke-width="0.16">L</text>
<path d="M56.4 798.9V784.4H67.8V798.9" fill="#fff" stroke="#808080" stroke-width="0.7" />
<path d="M74.5 798.9V726.3H86.1V798.9" fill="#fff" stroke="#808080" stroke-width="0.7" />
<line x1="50.7" y1="697.6" x2="50.7" y2="799.4" stroke="#111" stroke-width="1" />
<line x1="50.2" y1="798.9" x2="93.4" y2="798.9" stroke="#111" stroke-width="1" />
<line x1="46.3" y1="798.9" x2="50.7" y2="798.9" stroke="#111" stroke-width="1" />
<text x="45.3" y="801.74" font-size="7.9" fill="#111" text-anchor="end"  stroke="#111" stroke-width="0.16">0.00</text>
<line x1="46.3" y1="765.3" x2="50.7" y2="765.3" stroke="#111" stroke-width="1" />
<text x="45.3" y="768.14" font-size="7.9" fill="#111" text-anchor="end"  stroke="#111" stroke-width="0.16">0.05</text>
<line x1="46.3" y1="731.7" x2="50.7" y2="731.7" stroke="#111" stroke-width="1" />
<text x="45.3" y="734.54" font-size="7.9" fill="#111" text-anchor="end"  stroke="#111" stroke-width="0.16">0.10</text>
<line x1="46.3" y1="698.1" x2="50.7" y2="698.1" stroke="#111" stroke-width="1" />
<text x="45.3" y="700.94" font-size="7.9" fill="#111" text-anchor="end"  stroke="#111" stroke-width="0.16">0.15</text>
<line x1="62.2" y1="798.9" x2="62.2" y2="803.7" stroke="#111" stroke-width="1" />
<line x1="80.3" y1="798.9" x2="80.3" y2="803.7" stroke="#111" stroke-width="1" />
<line x1="80.3" y1="716.8" x2="80.3" y2="738" stroke="#e8262a" stroke-width="0.8" />
<line x1="77.6" y1="716.8" x2="83" y2="716.8" stroke="#e8262a" stroke-width="0.8" />
<line x1="77.6" y1="738" x2="83" y2="738" stroke="#e8262a" stroke-width="0.8" />
<circle cx="62.2" cy="777.7" r="2.8" fill="none" stroke="#4472c4" stroke-width="0.95" />
<circle cx="62.2" cy="784" r="2.8" fill="none" stroke="#4472c4" stroke-width="0.95" />
<circle cx="62.2" cy="790.4" r="2.8" fill="none" stroke="#4472c4" stroke-width="0.95" />
<polygon points="80.3,713.76 77.6,718.76 83,718.76" fill="none" stroke="#e8262a" stroke-width="0.95" />
<polygon points="80.3,723.06 77.6,728.06 83,728.06" fill="none" stroke="#e8262a" stroke-width="0.95" />
<polygon points="80.3,735.37 77.6,740.36 83,740.36" fill="none" stroke="#e8262a" stroke-width="0.95" />
<text x="70.75" y="691.2" font-size="8.3" fill="#111" text-anchor="middle" font-style="italic"  stroke="#111" stroke-width="0.16">p = 0.0014</text>
<line x1="62" y1="695.4" x2="80.5" y2="695.4" stroke="#111" stroke-width="1" />
<text x="25.6" y="748.3" font-size="11" fill="#111" text-anchor="middle" transform="rotate(-90 25.6 748.3)"  stroke="#111" stroke-width="0.16">% of input</text>
<text x="66.3" y="810.5" font-size="10.2" fill="#111" text-anchor="end" transform="rotate(-45 66.3 810.5)"  stroke="#111" stroke-width="0.16">IgG</text>
<text x="84.6" y="810.5" font-size="10.2" fill="#111" text-anchor="end" transform="rotate(-45 84.6 810.5)"  stroke="#111" stroke-width="0.16">hnRNPK</text>
<path d="M153.3 796.8V785.8H165.4V796.8" fill="#fff" stroke="#808080" stroke-width="0.7" />
<path d="M172.4 796.8V784.6H184.6V796.8" fill="#fff" stroke="#808080" stroke-width="0.7" />
<path d="M204.4 796.8V756.1H216.3V796.8" fill="#fff" stroke="#808080" stroke-width="0.7" />
<path d="M223.3 796.8V718.1H235.5V796.8" fill="#fff" stroke="#808080" stroke-width="0.7" />
<line x1="146.7" y1="699.6" x2="146.7" y2="797.3" stroke="#111" stroke-width="1" />
<line x1="146.2" y1="796.8" x2="242.5" y2="796.8" stroke="#111" stroke-width="1" />
<line x1="142" y1="796.8" x2="146.7" y2="796.8" stroke="#111" stroke-width="1" />
<text x="140.9" y="799.9" font-size="8.6" fill="#111" text-anchor="end"  stroke="#111" stroke-width="0.16">0.00</text>
<line x1="142" y1="777.46" x2="146.7" y2="777.46" stroke="#111" stroke-width="1" />
<text x="140.9" y="780.56" font-size="8.6" fill="#111" text-anchor="end"  stroke="#111" stroke-width="0.16">0.05</text>
<line x1="142" y1="758.12" x2="146.7" y2="758.12" stroke="#111" stroke-width="1" />
<text x="140.9" y="761.22" font-size="8.6" fill="#111" text-anchor="end"  stroke="#111" stroke-width="0.16">0.10</text>
<line x1="142" y1="738.78" x2="146.7" y2="738.78" stroke="#111" stroke-width="1" />
<text x="140.9" y="741.88" font-size="8.6" fill="#111" text-anchor="end"  stroke="#111" stroke-width="0.16">0.15</text>
<line x1="142" y1="719.44" x2="146.7" y2="719.44" stroke="#111" stroke-width="1" />
<text x="140.9" y="722.54" font-size="8.6" fill="#111" text-anchor="end"  stroke="#111" stroke-width="0.16">0.20</text>
<line x1="142" y1="700.1" x2="146.7" y2="700.1" stroke="#111" stroke-width="1" />
<text x="140.9" y="703.2" font-size="8.6" fill="#111" text-anchor="end"  stroke="#111" stroke-width="0.16">0.25</text>
<line x1="168.4" y1="796.8" x2="168.4" y2="801.7" stroke="#111" stroke-width="1" />
<line x1="219.1" y1="796.8" x2="219.1" y2="801.7" stroke="#111" stroke-width="1" />
<line x1="210.5" y1="753" x2="210.5" y2="758.8" stroke="#4472c4" stroke-width="0.8" />
<line x1="210.5" y1="753" x2="210.5" y2="753" stroke="#4472c4" stroke-width="0.8" />
<line x1="210.5" y1="758.8" x2="210.5" y2="758.8" stroke="#4472c4" stroke-width="0.8" />
<line x1="229.2" y1="709.2" x2="229.2" y2="725.1" stroke="#e8262a" stroke-width="0.8" />
<line x1="226.4" y1="709.2" x2="232" y2="709.2" stroke="#e8262a" stroke-width="0.8" />
<line x1="226.4" y1="725.1" x2="232" y2="725.1" stroke="#e8262a" stroke-width="0.8" />
<circle cx="156.1" cy="784.9" r="2.7" fill="none" stroke="#4472c4" stroke-width="0.95" />
<circle cx="156.1" cy="790.5" r="2.7" fill="none" stroke="#4472c4" stroke-width="0.95" />
<circle cx="162.6" cy="788.8" r="2.7" fill="none" stroke="#4472c4" stroke-width="0.95" />
<polygon points="174.7,779.46 172,784.46 177.4,784.46" fill="none" stroke="#e8262a" stroke-width="0.95" />
<polygon points="181.1,781.37 178.4,786.36 183.8,786.36" fill="none" stroke="#e8262a" stroke-width="0.95" />
<polygon points="174.7,786.96 172,791.96 177.4,791.96" fill="none" stroke="#e8262a" stroke-width="0.95" />
<circle cx="210.5" cy="749.6" r="2.7" fill="none" stroke="#4472c4" stroke-width="0.95" />
<circle cx="207" cy="758.5" r="2.7" fill="none" stroke="#4472c4" stroke-width="0.95" />
<circle cx="213.8" cy="757.8" r="2.7" fill="none" stroke="#4472c4" stroke-width="0.95" />
<polygon points="229.2,705.87 226.5,710.86 231.9,710.86" fill="none" stroke="#e8262a" stroke-width="0.95" />
<polygon points="226.1,721.26 223.4,726.26 228.8,726.26" fill="none" stroke="#e8262a" stroke-width="0.95" />
<polygon points="232.7,720.56 230,725.56 235.4,725.56" fill="none" stroke="#e8262a" stroke-width="0.95" />
<text x="219.7" y="691.7" font-size="8.1" fill="#111" text-anchor="middle" font-style="italic"  stroke="#111" stroke-width="0.16">p &lt; 0.0001</text>
<line x1="210.3" y1="696.6" x2="229.6" y2="696.6" stroke="#111" stroke-width="1" />
<circle cx="164.7" cy="722.3" r="2.8" fill="none" stroke="#4472c4" stroke-width="0.95" />
<text x="175.9" y="725.8" font-size="10.5" fill="#111"  stroke="#111" stroke-width="0.16">Vector</text>
<polygon points="164.7,732.86 161.9,738.04 167.5,738.04" fill="none" stroke="#e8262a" stroke-width="0.95" />
<text x="175.9" y="739.1" font-size="10.5" fill="#111"  stroke="#111" stroke-width="0.16">OE</text>
<text x="118.2" y="747.3" font-size="10.7" fill="#111" text-anchor="middle" transform="rotate(-90 118.2 747.3)"  stroke="#111" stroke-width="0.16">% of input</text>
<text x="172.5" y="809.3" font-size="11" fill="#111" text-anchor="end" transform="rotate(-45 172.5 809.3)"  stroke="#111" stroke-width="0.16">IgG</text>
<text x="223.8" y="809.6" font-size="11" fill="#111" text-anchor="end" transform="rotate(-45 223.8 809.6)"  stroke="#111" stroke-width="0.16">hnRNPK</text>
<text x="268.8" y="677.2" font-size="12.6" fill="#000"  stroke="#000" stroke-width="0.16">M</text>
<path d="M320.4 789.8V728.8H334.8V789.8" fill="#fff" stroke="#808080" stroke-width="0.7" />
<path d="M343.1 789.8V769.2H357.6V789.8" fill="#fff" stroke="#808080" stroke-width="0.7" />
<line x1="312.9" y1="696.3" x2="312.9" y2="790.3" stroke="#111" stroke-width="1" />
<line x1="312.4" y1="789.8" x2="366.6" y2="789.8" stroke="#111" stroke-width="1" />
<line x1="308.9" y1="789.8" x2="312.9" y2="789.8" stroke="#111" stroke-width="1" />
<text x="307.5" y="792.21" font-size="6.7" fill="#111" text-anchor="end"  stroke="#111" stroke-width="0.16">0.0</text>
<line x1="308.9" y1="758.8" x2="312.9" y2="758.8" stroke="#111" stroke-width="1" />
<text x="307.5" y="761.21" font-size="6.7" fill="#111" text-anchor="end"  stroke="#111" stroke-width="0.16">0.5</text>
<line x1="308.9" y1="727.8" x2="312.9" y2="727.8" stroke="#111" stroke-width="1" />
<text x="307.5" y="730.21" font-size="6.7" fill="#111" text-anchor="end"  stroke="#111" stroke-width="0.16">1.0</text>
<line x1="308.9" y1="696.8" x2="312.9" y2="696.8" stroke="#111" stroke-width="1" />
<text x="307.5" y="699.21" font-size="6.7" fill="#111" text-anchor="end"  stroke="#111" stroke-width="0.16">1.5</text>
<line x1="327.5" y1="789.8" x2="327.5" y2="794.6" stroke="#111" stroke-width="1" />
<line x1="350.4" y1="789.8" x2="350.4" y2="794.6" stroke="#111" stroke-width="1" />
<line x1="350.4" y1="765.2" x2="350.4" y2="772.1" stroke="#e8262a" stroke-width="0.8" />
<line x1="346.5" y1="765.2" x2="354.3" y2="765.2" stroke="#e8262a" stroke-width="0.8" />
<line x1="346.5" y1="772.1" x2="354.3" y2="772.1" stroke="#e8262a" stroke-width="0.8" />
<circle cx="322.9" cy="729.7" r="2.7" fill="none" stroke="#4472c4" stroke-width="0.95" />
<circle cx="327.9" cy="726.6" r="2.7" fill="none" stroke="#4472c4" stroke-width="0.95" />
<circle cx="333.1" cy="728" r="2.7" fill="none" stroke="#4472c4" stroke-width="0.95" />
<polygon points="345.6,762.37 342.9,767.36 348.3,767.36" fill="none" stroke="#e8262a" stroke-width="0.95" />
<polygon points="345.6,769.06 342.9,774.06 348.3,774.06" fill="none" stroke="#e8262a" stroke-width="0.95" />
<polygon points="355.6,767.76 352.9,772.76 358.3,772.76" fill="none" stroke="#e8262a" stroke-width="0.95" />
<text x="338.7" y="710.9" font-size="7.7" fill="#111" text-anchor="middle" font-style="italic"  stroke="#111" stroke-width="0.16">p &lt; 0.0001</text>
<line x1="327.3" y1="715.3" x2="350.8" y2="715.3" stroke="#111" stroke-width="1" />
<text x="293.6" y="743.3" font-size="10.26" fill="#111" text-anchor="middle" transform="rotate(-90 293.6 743.3)"  stroke="#111" stroke-width="0.16">Relative luciferase activity</text>
<text x="330" y="801.8" font-size="9.3" fill="#111" text-anchor="end" transform="rotate(-45 330 801.8)"  stroke="#111" stroke-width="0.16">Cas9 Control</text>
<text x="353.4" y="801.8" font-size="9.3" fill="#111" text-anchor="end" transform="rotate(-45 353.4 801.8)"  stroke="#111" stroke-width="0.16">hnRNPK KO</text>
<path d="M428.2 784.2V755.4H439.9V784.2" fill="#fff" stroke="#808080" stroke-width="0.7" />
<path d="M446.2 784.2V719.9H457.4V784.2" fill="#fff" stroke="#808080" stroke-width="0.7" />
<path d="M475.4 784.2V775.3H486.6V784.2" fill="#fff" stroke="#808080" stroke-width="0.7" />
<path d="M492.9 784.2V775.3H504.1V784.2" fill="#fff" stroke="#808080" stroke-width="0.7" />
<line x1="422.4" y1="695.4" x2="422.4" y2="784.7" stroke="#111" stroke-width="1" />
<line x1="421.9" y1="784.2" x2="511.1" y2="784.2" stroke="#111" stroke-width="1" />
<line x1="418.4" y1="784.2" x2="422.4" y2="784.2" stroke="#111" stroke-width="1" />
<text x="417.2" y="787.12" font-size="8.1" fill="#111" text-anchor="end"  stroke="#111" stroke-width="0.16">0</text>
<line x1="418.4" y1="754.75" x2="422.4" y2="754.75" stroke="#111" stroke-width="1" />
<text x="417.2" y="757.67" font-size="8.1" fill="#111" text-anchor="end"  stroke="#111" stroke-width="0.16">1</text>
<line x1="418.4" y1="725.3" x2="422.4" y2="725.3" stroke="#111" stroke-width="1" />
<text x="417.2" y="728.22" font-size="8.1" fill="#111" text-anchor="end"  stroke="#111" stroke-width="0.16">2</text>
<line x1="418.4" y1="695.85" x2="422.4" y2="695.85" stroke="#111" stroke-width="1" />
<text x="417.2" y="698.77" font-size="8.1" fill="#111" text-anchor="end"  stroke="#111" stroke-width="0.16">3</text>
<line x1="442.7" y1="784.2" x2="442.7" y2="789.2" stroke="#111" stroke-width="1" />
<line x1="489.4" y1="784.2" x2="489.4" y2="789.2" stroke="#111" stroke-width="1" />
<line x1="451.6" y1="713.4" x2="451.6" y2="725.1" stroke="#e8262a" stroke-width="0.8" />
<line x1="451.6" y1="713.4" x2="451.6" y2="713.4" stroke="#e8262a" stroke-width="0.8" />
<line x1="451.6" y1="725.1" x2="451.6" y2="725.1" stroke="#e8262a" stroke-width="0.8" />
<circle cx="431" cy="757.1" r="2.5" fill="none" stroke="#4472c4" stroke-width="0.95" />
<circle cx="434.1" cy="753.1" r="2.5" fill="none" stroke="#4472c4" stroke-width="0.95" />
<circle cx="437.1" cy="754.7" r="2.5" fill="none" stroke="#4472c4" stroke-width="0.95" />
<polygon points="451.6,710.77 449.1,715.4 454.1,715.4" fill="none" stroke="#e8262a" stroke-width="0.95" />
<polygon points="448.1,723.17 445.6,727.8 450.6,727.8" fill="none" stroke="#e8262a" stroke-width="0.95" />
<polygon points="454.6,720.08 452.1,724.7 457.1,724.7" fill="none" stroke="#e8262a" stroke-width="0.95" />
<circle cx="478" cy="771.1" r="2.5" fill="none" stroke="#4472c4" stroke-width="0.95" />
<circle cx="478" cy="777.6" r="2.5" fill="none" stroke="#4472c4" stroke-width="0.95" />
<circle cx="483.8" cy="775.3" r="2.5" fill="none" stroke="#4472c4" stroke-width="0.95" />
<polygon points="494.8,771.18 492.4,775.62 497.2,775.62" fill="none" stroke="#e8262a" stroke-width="0.95" />
<polygon points="498.5,769.28 496.1,773.72 500.9,773.72" fill="none" stroke="#e8262a" stroke-width="0.95" />
<polygon points="501.8,771.18 499.4,775.62 504.2,775.62" fill="none" stroke="#e8262a" stroke-width="0.95" />
<text x="442.55" y="698.2" font-size="7.4" fill="#111" text-anchor="middle" font-style="italic"  stroke="#111" stroke-width="0.16">p &lt; 0.001</text>
<line x1="434.1" y1="702.9" x2="452" y2="702.9" stroke="#111" stroke-width="1" />
<circle cx="482.6" cy="729" r="2.6" fill="none" stroke="#4472c4" stroke-width="0.95" />
<text x="492.9" y="732.1" font-size="9.55" fill="#111"  stroke="#111" stroke-width="0.16">Vector</text>
<polygon points="482.6,738.47 480,743.28 485.2,743.28" fill="none" stroke="#e8262a" stroke-width="0.95" />
<text x="492.9" y="744.2" font-size="9.55" fill="#111"  stroke="#111" stroke-width="0.16">OE</text>
<text x="399" y="740.1" font-size="9.85" fill="#111" text-anchor="middle" transform="rotate(-90 399 740.1)"  stroke="#111" stroke-width="0.16">Relative luciferase activity</text>
<text x="446.3" y="796.2" font-size="10.2" fill="#111" text-anchor="end" transform="rotate(-45 446.3 796.2)"  stroke="#111" stroke-width="0.16">DHODH-WT</text>
<text x="493" y="796.2" font-size="10.2" fill="#111" text-anchor="end" transform="rotate(-45 493 796.2)"  stroke="#111" stroke-width="0.16">DHODH-MUT</text>
<path d="M568.3 782.7V760.5H578.8V782.7" fill="#fff" stroke="#808080" stroke-width="0.7" />
<path d="M584.9 782.7V736.5H595.7V782.7" fill="#fff" stroke="#808080" stroke-width="0.7" />
<path d="M601.3 782.7V757.9H612.1V782.7" fill="#fff" stroke="#808080" stroke-width="0.7" />
<path d="M617.8 782.7V775.9H628.7V782.7" fill="#fff" stroke="#808080" stroke-width="0.7" />
<line x1="562.4" y1="713.25" x2="562.4" y2="783.15" stroke="#111" stroke-width="0.9" />
<line x1="561.95" y1="782.7" x2="634.6" y2="782.7" stroke="#111" stroke-width="0.9" />
<line x1="559.1" y1="782.7" x2="562.4" y2="782.7" stroke="#111" stroke-width="0.9" />
<text x="558.4" y="784.9" font-size="6.1" fill="#111" text-anchor="end"  stroke="#111" stroke-width="0.16">0</text>
<line x1="559.1" y1="759.7" x2="562.4" y2="759.7" stroke="#111" stroke-width="0.9" />
<text x="558.4" y="761.9" font-size="6.1" fill="#111" text-anchor="end"  stroke="#111" stroke-width="0.16">1</text>
<line x1="559.1" y1="736.7" x2="562.4" y2="736.7" stroke="#111" stroke-width="0.9" />
<text x="558.4" y="738.9" font-size="6.1" fill="#111" text-anchor="end"  stroke="#111" stroke-width="0.16">2</text>
<line x1="559.1" y1="713.7" x2="562.4" y2="713.7" stroke="#111" stroke-width="0.9" />
<text x="558.4" y="715.9" font-size="6.1" fill="#111" text-anchor="end"  stroke="#111" stroke-width="0.16">3</text>
<line x1="573.5" y1="782.7" x2="573.5" y2="786.4" stroke="#111" stroke-width="0.9" />
<line x1="590.2" y1="782.7" x2="590.2" y2="786.4" stroke="#111" stroke-width="0.9" />
<line x1="606.6" y1="782.7" x2="606.6" y2="786.4" stroke="#111" stroke-width="0.9" />
<line x1="623.2" y1="782.7" x2="623.2" y2="786.4" stroke="#111" stroke-width="0.9" />
<line x1="590.2" y1="728.4" x2="590.2" y2="737.1" stroke="#7db3e0" stroke-width="0.8" />
<line x1="590.2" y1="728.4" x2="590.2" y2="728.4" stroke="#7db3e0" stroke-width="0.8" />
<line x1="590.2" y1="737.1" x2="590.2" y2="737.1" stroke="#7db3e0" stroke-width="0.8" />
<circle cx="570.7" cy="760.5" r="2.2" fill="none" stroke="#4472c4" stroke-width="0.95" />
<circle cx="573.8" cy="758.6" r="2.2" fill="none" stroke="#4472c4" stroke-width="0.95" />
<circle cx="576.8" cy="760.5" r="2.2" fill="none" stroke="#4472c4" stroke-width="0.95" />
<rect x="587.9" y="726.1" width="4.6" height="4.6" fill="none" stroke="#7db3e0" stroke-width="0.95" />
<rect x="584.8" y="734.2" width="4.6" height="4.6" fill="none" stroke="#7db3e0" stroke-width="0.95" />
<rect x="590.7" y="733.3" width="4.6" height="4.6" fill="none" stroke="#7db3e0" stroke-width="0.95" />
<polygon points="604,758.29 601.9,762.18 606.1,762.18" fill="none" stroke="#f4874b" stroke-width="0.95" />
<polygon points="606.8,754.59 604.7,758.48 608.9,758.48" fill="none" stroke="#f4874b" stroke-width="0.95" />
<polygon points="609.9,755.69 607.8,759.58 612,759.58" fill="none" stroke="#f4874b" stroke-width="0.95" />
<polygon points="620.4,773.8 622.4,776.1 620.4,778.4 618.4,776.1" fill="none" stroke="#e8262a" stroke-width="0.95" />
<polygon points="623.2,772 625.2,774.3 623.2,776.6 621.2,774.3" fill="none" stroke="#e8262a" stroke-width="0.95" />
<polygon points="626.3,773.1 628.3,775.4 626.3,777.7 624.3,775.4" fill="none" stroke="#e8262a" stroke-width="0.95" />
<text x="598.5" y="686.7" font-size="5.7" fill="#111" text-anchor="middle" font-style="italic"  stroke="#111" stroke-width="0.16">p = 0.0159</text>
<line x1="573.5" y1="690.5" x2="623.7" y2="690.5" stroke="#111" stroke-width="0.8" />
<text x="606.7" y="701.6" font-size="5.7" fill="#111" text-anchor="middle" font-style="italic"  stroke="#111" stroke-width="0.16">p = 0.0059</text>
<line x1="589.7" y1="705.4" x2="623.7" y2="705.4" stroke="#111" stroke-width="0.8" />
<text x="581.85" y="716.3" font-size="5.9" fill="#111" text-anchor="middle" font-style="italic"  stroke="#111" stroke-width="0.16">p = 0.0334</text>
<line x1="573.5" y1="719.6" x2="590.2" y2="719.6" stroke="#111" stroke-width="0.8" />
<text x="545.3" y="748.7" font-size="7.6" fill="#111" text-anchor="middle" transform="rotate(-90 545.3 748.7)"  stroke="#111" stroke-width="0.16">Relative luciferase activity</text>
<text x="576.3" y="790" font-size="7.9" fill="#111" text-anchor="end" transform="rotate(-45 576.3 790)"  stroke="#111" stroke-width="0.16">Vector+Con</text>
<text x="593" y="790" font-size="7.9" fill="#111" text-anchor="end" transform="rotate(-45 593 790)"  stroke="#111" stroke-width="0.16">OE+ Con</text>
<text x="609.4" y="790" font-size="7.9" fill="#111" text-anchor="end" transform="rotate(-45 609.4 790)"  stroke="#111" stroke-width="0.16">OE+hnRNPK KD</text>
<text x="626" y="790" font-size="7.9" fill="#111" text-anchor="end" transform="rotate(-45 626 790)"  stroke="#111" stroke-width="0.16">Vector+hnRNPK KD</text>
<text x="0.8" y="851.3" font-size="12.6" fill="#000"  stroke="#000" stroke-width="0.16">N</text>
<text x="5.1" y="874.7" font-size="8.5" fill="#111"  stroke="#111" stroke-width="0.16">DHODH</text>
<text x="5.1" y="905.4" font-size="8.5" fill="#111"  stroke="#111" stroke-width="0.16">H3K4Me3</text>
<text x="5.1" y="937.1" font-size="8.5" fill="#111"  stroke="#111" stroke-width="0.16">H3K27Ac</text>
<text x="5.1" y="967.7" font-size="8.5" fill="#111"  stroke="#111" stroke-width="0.16">H3K4Me1</text>
<line x1="53.7" y1="860.4" x2="53.7" y2="979.2" stroke="#dcdcf4" stroke-width="0.5" />
<line x1="58.31" y1="860.4" x2="58.31" y2="979.2" stroke="#dcdcf4" stroke-width="0.5" />
<line x1="62.92" y1="860.4" x2="62.92" y2="979.2" stroke="#dcdcf4" stroke-width="0.5" />
<line x1="67.53" y1="860.4" x2="67.53" y2="979.2" stroke="#dcdcf4" stroke-width="0.5" />
<line x1="72.14" y1="860.4" x2="72.14" y2="979.2" stroke="#dcdcf4" stroke-width="0.5" />
<line x1="76.75" y1="860.4" x2="76.75" y2="979.2" stroke="#dcdcf4" stroke-width="0.5" />
<line x1="81.36" y1="860.4" x2="81.36" y2="979.2" stroke="#dcdcf4" stroke-width="0.5" />
<line x1="85.97" y1="860.4" x2="85.97" y2="979.2" stroke="#dcdcf4" stroke-width="0.5" />
<line x1="90.58" y1="860.4" x2="90.58" y2="979.2" stroke="#dcdcf4" stroke-width="0.5" />
<line x1="95.19" y1="860.4" x2="95.19" y2="979.2" stroke="#dcdcf4" stroke-width="0.5" />
<line x1="99.8" y1="860.4" x2="99.8" y2="979.2" stroke="#dcdcf4" stroke-width="0.5" />
<line x1="104.41" y1="860.4" x2="104.41" y2="979.2" stroke="#dcdcf4" stroke-width="0.5" />
<line x1="109.02" y1="860.4" x2="109.02" y2="979.2" stroke="#dcdcf4" stroke-width="0.5" />
<line x1="113.63" y1="860.4" x2="113.63" y2="979.2" stroke="#dcdcf4" stroke-width="0.5" />
<line x1="118.24" y1="860.4" x2="118.24" y2="979.2" stroke="#dcdcf4" stroke-width="0.5" />
<line x1="122.85" y1="860.4" x2="122.85" y2="979.2" stroke="#dcdcf4" stroke-width="0.5" />
<line x1="127.46" y1="860.4" x2="127.46" y2="979.2" stroke="#dcdcf4" stroke-width="0.5" />
<line x1="132.07" y1="860.4" x2="132.07" y2="979.2" stroke="#dcdcf4" stroke-width="0.5" />
<line x1="136.68" y1="860.4" x2="136.68" y2="979.2" stroke="#dcdcf4" stroke-width="0.5" />
<line x1="141.29" y1="860.4" x2="141.29" y2="979.2" stroke="#dcdcf4" stroke-width="0.5" />
<line x1="145.9" y1="860.4" x2="145.9" y2="979.2" stroke="#dcdcf4" stroke-width="0.5" />
<line x1="150.51" y1="860.4" x2="150.51" y2="979.2" stroke="#dcdcf4" stroke-width="0.5" />
<line x1="155.12" y1="860.4" x2="155.12" y2="979.2" stroke="#dcdcf4" stroke-width="0.5" />
<line x1="159.73" y1="860.4" x2="159.73" y2="979.2" stroke="#dcdcf4" stroke-width="0.5" />
<line x1="164.34" y1="860.4" x2="164.34" y2="979.2" stroke="#dcdcf4" stroke-width="0.5" />
<line x1="168.95" y1="860.4" x2="168.95" y2="979.2" stroke="#dcdcf4" stroke-width="0.5" />
<line x1="173.56" y1="860.4" x2="173.56" y2="979.2" stroke="#dcdcf4" stroke-width="0.5" />
<line x1="178.17" y1="860.4" x2="178.17" y2="979.2" stroke="#dcdcf4" stroke-width="0.5" />
<line x1="182.78" y1="860.4" x2="182.78" y2="979.2" stroke="#dcdcf4" stroke-width="0.5" />
<line x1="187.39" y1="860.4" x2="187.39" y2="979.2" stroke="#dcdcf4" stroke-width="0.5" />
<line x1="192" y1="860.4" x2="192" y2="979.2" stroke="#dcdcf4" stroke-width="0.5" />
<line x1="196.61" y1="860.4" x2="196.61" y2="979.2" stroke="#dcdcf4" stroke-width="0.5" />
<line x1="201.22" y1="860.4" x2="201.22" y2="979.2" stroke="#dcdcf4" stroke-width="0.5" />
<line x1="205.83" y1="860.4" x2="205.83" y2="979.2" stroke="#dcdcf4" stroke-width="0.5" />
<line x1="210.44" y1="860.4" x2="210.44" y2="979.2" stroke="#dcdcf4" stroke-width="0.5" />
<line x1="215.05" y1="860.4" x2="215.05" y2="979.2" stroke="#dcdcf4" stroke-width="0.5" />
<line x1="219.66" y1="860.4" x2="219.66" y2="979.2" stroke="#dcdcf4" stroke-width="0.5" />
<line x1="224.27" y1="860.4" x2="224.27" y2="979.2" stroke="#dcdcf4" stroke-width="0.5" />
<line x1="228.88" y1="860.4" x2="228.88" y2="979.2" stroke="#dcdcf4" stroke-width="0.5" />
<line x1="233.49" y1="860.4" x2="233.49" y2="979.2" stroke="#dcdcf4" stroke-width="0.5" />
<line x1="238.1" y1="860.4" x2="238.1" y2="979.2" stroke="#dcdcf4" stroke-width="0.5" />
<line x1="242.71" y1="860.4" x2="242.71" y2="979.2" stroke="#dcdcf4" stroke-width="0.5" />
<line x1="247.32" y1="860.4" x2="247.32" y2="979.2" stroke="#dcdcf4" stroke-width="0.5" />
<line x1="251.93" y1="860.4" x2="251.93" y2="979.2" stroke="#dcdcf4" stroke-width="0.5" />
<line x1="256.54" y1="860.4" x2="256.54" y2="979.2" stroke="#dcdcf4" stroke-width="0.5" />
<line x1="261.15" y1="860.4" x2="261.15" y2="979.2" stroke="#dcdcf4" stroke-width="0.5" />
<line x1="265.76" y1="860.4" x2="265.76" y2="979.2" stroke="#dcdcf4" stroke-width="0.5" />
<line x1="270.37" y1="860.4" x2="270.37" y2="979.2" stroke="#dcdcf4" stroke-width="0.5" />
<line x1="274.98" y1="860.4" x2="274.98" y2="979.2" stroke="#dcdcf4" stroke-width="0.5" />
<line x1="279.59" y1="860.4" x2="279.59" y2="979.2" stroke="#dcdcf4" stroke-width="0.5" />
<line x1="284.2" y1="860.4" x2="284.2" y2="979.2" stroke="#dcdcf4" stroke-width="0.5" />
<line x1="288.81" y1="860.4" x2="288.81" y2="979.2" stroke="#dcdcf4" stroke-width="0.5" />
<line x1="293.42" y1="860.4" x2="293.42" y2="979.2" stroke="#dcdcf4" stroke-width="0.5" />
<line x1="298.03" y1="860.4" x2="298.03" y2="979.2" stroke="#dcdcf4" stroke-width="0.5" />
<line x1="302.64" y1="860.4" x2="302.64" y2="979.2" stroke="#dcdcf4" stroke-width="0.5" />
<line x1="307.25" y1="860.4" x2="307.25" y2="979.2" stroke="#dcdcf4" stroke-width="0.5" />
<line x1="311.86" y1="860.4" x2="311.86" y2="979.2" stroke="#dcdcf4" stroke-width="0.5" />
<line x1="316.47" y1="860.4" x2="316.47" y2="979.2" stroke="#dcdcf4" stroke-width="0.5" />
<line x1="321.08" y1="860.4" x2="321.08" y2="979.2" stroke="#dcdcf4" stroke-width="0.5" />
<line x1="325.69" y1="860.4" x2="325.69" y2="979.2" stroke="#dcdcf4" stroke-width="0.5" />
<line x1="330.3" y1="860.4" x2="330.3" y2="979.2" stroke="#dcdcf4" stroke-width="0.5" />
<line x1="334.91" y1="860.4" x2="334.91" y2="979.2" stroke="#dcdcf4" stroke-width="0.5" />
<line x1="339.52" y1="860.4" x2="339.52" y2="979.2" stroke="#dcdcf4" stroke-width="0.5" />
<line x1="344.13" y1="860.4" x2="344.13" y2="979.2" stroke="#dcdcf4" stroke-width="0.5" />
<line x1="348.74" y1="860.4" x2="348.74" y2="979.2" stroke="#dcdcf4" stroke-width="0.5" />
<line x1="353.35" y1="860.4" x2="353.35" y2="979.2" stroke="#dcdcf4" stroke-width="0.5" />
<line x1="357.96" y1="860.4" x2="357.96" y2="979.2" stroke="#dcdcf4" stroke-width="0.5" />
<line x1="362.57" y1="860.4" x2="362.57" y2="979.2" stroke="#dcdcf4" stroke-width="0.5" />
<line x1="367.18" y1="860.4" x2="367.18" y2="979.2" stroke="#dcdcf4" stroke-width="0.5" />
<line x1="371.79" y1="860.4" x2="371.79" y2="979.2" stroke="#dcdcf4" stroke-width="0.5" />
<line x1="376.4" y1="860.4" x2="376.4" y2="979.2" stroke="#dcdcf4" stroke-width="0.5" />
<line x1="381.01" y1="860.4" x2="381.01" y2="979.2" stroke="#dcdcf4" stroke-width="0.5" />
<text x="168.2" y="868" font-size="7" fill="#111" textLength="9.8" lengthAdjust="spacingAndGlyphs">5 kb</text>
<line x1="179.7" y1="866" x2="364.9" y2="866" stroke="#555" stroke-width="0.6" />
<line x1="179.7" y1="863.3" x2="179.7" y2="868.8" stroke="#333" stroke-width="0.6" />
<line x1="364.9" y1="863.3" x2="364.9" y2="868.8" stroke="#333" stroke-width="0.6" />
<text x="368.5" y="868.4" font-size="7" fill="#111" textLength="10.3" lengthAdjust="spacingAndGlyphs">hg38</text>
<line x1="81.8" y1="871.7" x2="81.8" y2="879.4" stroke="#333" stroke-width="0.55" />
<text x="80.8" y="878.4" font-size="7" fill="#111" text-anchor="end" textLength="24.6" lengthAdjust="spacingAndGlyphs">72,009,000</text>
<line x1="118.9" y1="871.7" x2="118.9" y2="879.4" stroke="#333" stroke-width="0.55" />
<text x="117.9" y="878.4" font-size="7" fill="#111" text-anchor="end" textLength="24.6" lengthAdjust="spacingAndGlyphs">72,010,000</text>
<line x1="155.6" y1="871.7" x2="155.6" y2="879.4" stroke="#333" stroke-width="0.55" />
<text x="154.6" y="878.4" font-size="7" fill="#111" text-anchor="end" textLength="24.6" lengthAdjust="spacingAndGlyphs">72,011,000</text>
<line x1="192.7" y1="871.7" x2="192.7" y2="879.4" stroke="#333" stroke-width="0.55" />
<text x="191.7" y="878.4" font-size="7" fill="#111" text-anchor="end" textLength="24.6" lengthAdjust="spacingAndGlyphs">72,012,000</text>
<line x1="229.5" y1="871.7" x2="229.5" y2="879.4" stroke="#333" stroke-width="0.55" />
<text x="228.5" y="878.4" font-size="7" fill="#111" text-anchor="end" textLength="24.6" lengthAdjust="spacingAndGlyphs">72,013,000</text>
<line x1="266.6" y1="871.7" x2="266.6" y2="879.4" stroke="#333" stroke-width="0.55" />
<text x="265.6" y="878.4" font-size="7" fill="#111" text-anchor="end" textLength="24.6" lengthAdjust="spacingAndGlyphs">72,014,000</text>
<line x1="303.5" y1="871.7" x2="303.5" y2="879.4" stroke="#333" stroke-width="0.55" />
<text x="302.5" y="878.4" font-size="7" fill="#111" text-anchor="end" textLength="24.6" lengthAdjust="spacingAndGlyphs">72,015,000</text>
<line x1="341.2" y1="871.7" x2="341.2" y2="879.4" stroke="#333" stroke-width="0.55" />
<text x="340.2" y="878.4" font-size="7" fill="#111" text-anchor="end" textLength="24.6" lengthAdjust="spacingAndGlyphs">72,016,000</text>
<line x1="378.3" y1="871.7" x2="378.3" y2="879.4" stroke="#333" stroke-width="0.55" />
<text x="377.3" y="878.4" font-size="7" fill="#111" text-anchor="end" textLength="24.6" lengthAdjust="spacingAndGlyphs">72,017,000</text>
<text x="231.2" y="887.3" font-size="7.1" fill="#111" textLength="81.8" lengthAdjust="spacingAndGlyphs">GENCODE V46 (7 items filtered out)</text>
<line x1="73.2" y1="893.5" x2="382.4" y2="893.5" stroke="#3a9bdc" stroke-width="0.6" />
<path d="M74.6 892.3L75.9 893.5L74.6 894.7M76.85 892.3L78.15 893.5L76.85 894.7M79.1 892.3L80.4 893.5L79.1 894.7M81.35 892.3L82.65 893.5L81.35 894.7M83.6 892.3L84.9 893.5L83.6 894.7M85.85 892.3L87.15 893.5L85.85 894.7M88.1 892.3L89.4 893.5L88.1 894.7M90.35 892.3L91.65 893.5L90.35 894.7M92.6 892.3L93.9 893.5L92.6 894.7M94.85 892.3L96.15 893.5L94.85 894.7M97.1 892.3L98.4 893.5L97.1 894.7M99.35 892.3L100.65 893.5L99.35 894.7M101.6 892.3L102.9 893.5L101.6 894.7M103.85 892.3L105.15 893.5L103.85 894.7M106.1 892.3L107.4 893.5L106.1 894.7M108.35 892.3L109.65 893.5L108.35 894.7M110.6 892.3L111.9 893.5L110.6 894.7M112.85 892.3L114.15 893.5L112.85 894.7M115.1 892.3L116.4 893.5L115.1 894.7M117.35 892.3L118.65 893.5L117.35 894.7M119.6 892.3L120.9 893.5L119.6 894.7M121.85 892.3L123.15 893.5L121.85 894.7M124.1 892.3L125.4 893.5L124.1 894.7M126.35 892.3L127.65 893.5L126.35 894.7M128.6 892.3L129.9 893.5L128.6 894.7M130.85 892.3L132.15 893.5L130.85 894.7M133.1 892.3L134.4 893.5L133.1 894.7M135.35 892.3L136.65 893.5L135.35 894.7M137.6 892.3L138.9 893.5L137.6 894.7M139.85 892.3L141.15 893.5L139.85 894.7M142.1 892.3L143.4 893.5L142.1 894.7M144.35 892.3L145.65 893.5L144.35 894.7M146.6 892.3L147.9 893.5L146.6 894.7M148.85 892.3L150.15 893.5L148.85 894.7M151.1 892.3L152.4 893.5L151.1 894.7M153.35 892.3L154.65 893.5L153.35 894.7M155.6 892.3L156.9 893.5L155.6 894.7M157.85 892.3L159.15 893.5L157.85 894.7M160.1 892.3L161.4 893.5L160.1 894.7M162.35 892.3L163.65 893.5L162.35 894.7M164.6 892.3L165.9 893.5L164.6 894.7M166.85 892.3L168.15 893.5L166.85 894.7M169.1 892.3L170.4 893.5L169.1 894.7M171.35 892.3L172.65 893.5L171.35 894.7M173.6 892.3L174.9 893.5L173.6 894.7M175.85 892.3L177.15 893.5L175.85 894.7M178.1 892.3L179.4 893.5L178.1 894.7M180.35 892.3L181.65 893.5L180.35 894.7M182.6 892.3L183.9 893.5L182.6 894.7M184.85 892.3L186.15 893.5L184.85 894.7M187.1 892.3L188.4 893.5L187.1 894.7M189.35 892.3L190.65 893.5L189.35 894.7M191.6 892.3L192.9 893.5L191.6 894.7M193.85 892.3L195.15 893.5L193.85 894.7M196.1 892.3L197.4 893.5L196.1 894.7M198.35 892.3L199.65 893.5L198.35 894.7M200.6 892.3L201.9 893.5L200.6 894.7M202.85 892.3L204.15 893.5L202.85 894.7M205.1 892.3L206.4 893.5L205.1 894.7M207.35 892.3L208.65 893.5L207.35 894.7M209.6 892.3L210.9 893.5L209.6 894.7M211.85 892.3L213.15 893.5L211.85 894.7M214.1 892.3L215.4 893.5L214.1 894.7M216.35 892.3L217.65 893.5L216.35 894.7M218.6 892.3L219.9 893.5L218.6 894.7M220.85 892.3L222.15 893.5L220.85 894.7M223.1 892.3L224.4 893.5L223.1 894.7M225.35 892.3L226.65 893.5L225.35 894.7M227.6 892.3L228.9 893.5L227.6 894.7M229.85 892.3L231.15 893.5L229.85 894.7M232.1 892.3L233.4 893.5L232.1 894.7M234.35 892.3L235.65 893.5L234.35 894.7M236.6 892.3L237.9 893.5L236.6 894.7M238.85 892.3L240.15 893.5L238.85 894.7M241.1 892.3L242.4 893.5L241.1 894.7M243.35 892.3L244.65 893.5L243.35 894.7M245.6 892.3L246.9 893.5L245.6 894.7M247.85 892.3L249.15 893.5L247.85 894.7M250.1 892.3L251.4 893.5L250.1 894.7M252.35 892.3L253.65 893.5L252.35 894.7M254.6 892.3L255.9 893.5L254.6 894.7M256.85 892.3L258.15 893.5L256.85 894.7M259.1 892.3L260.4 893.5L259.1 894.7M261.35 892.3L262.65 893.5L261.35 894.7M263.6 892.3L264.9 893.5L263.6 894.7M265.85 892.3L267.15 893.5L265.85 894.7M268.1 892.3L269.4 893.5L268.1 894.7M270.35 892.3L271.65 893.5L270.35 894.7M272.6 892.3L273.9 893.5L272.6 894.7M274.85 892.3L276.15 893.5L274.85 894.7M277.1 892.3L278.4 893.5L277.1 894.7M279.35 892.3L280.65 893.5L279.35 894.7M281.6 892.3L282.9 893.5L281.6 894.7M283.85 892.3L285.15 893.5L283.85 894.7M286.1 892.3L287.4 893.5L286.1 894.7M288.35 892.3L289.65 893.5L288.35 894.7M290.6 892.3L291.9 893.5L290.6 894.7M292.85 892.3L294.15 893.5L292.85 894.7M295.1 892.3L296.4 893.5L295.1 894.7M297.35 892.3L298.65 893.5L297.35 894.7M299.6 892.3L300.9 893.5L299.6 894.7M301.85 892.3L303.15 893.5L301.85 894.7M304.1 892.3L305.4 893.5L304.1 894.7M306.35 892.3L307.65 893.5L306.35 894.7M308.6 892.3L309.9 893.5L308.6 894.7M310.85 892.3L312.15 893.5L310.85 894.7M313.1 892.3L314.4 893.5L313.1 894.7M315.35 892.3L316.65 893.5L315.35 894.7M317.6 892.3L318.9 893.5L317.6 894.7M319.85 892.3L321.15 893.5L319.85 894.7M322.1 892.3L323.4 893.5L322.1 894.7M324.35 892.3L325.65 893.5L324.35 894.7M326.6 892.3L327.9 893.5L326.6 894.7M328.85 892.3L330.15 893.5L328.85 894.7M331.1 892.3L332.4 893.5L331.1 894.7M333.35 892.3L334.65 893.5L333.35 894.7M335.6 892.3L336.9 893.5L335.6 894.7M337.85 892.3L339.15 893.5L337.85 894.7M340.1 892.3L341.4 893.5L340.1 894.7M342.35 892.3L343.65 893.5L342.35 894.7M344.6 892.3L345.9 893.5L344.6 894.7M346.85 892.3L348.15 893.5L346.85 894.7M349.1 892.3L350.4 893.5L349.1 894.7M351.35 892.3L352.65 893.5L351.35 894.7M353.6 892.3L354.9 893.5L353.6 894.7M355.85 892.3L357.15 893.5L355.85 894.7M358.1 892.3L359.4 893.5L358.1 894.7M360.35 892.3L361.65 893.5L360.35 894.7M362.6 892.3L363.9 893.5L362.6 894.7M364.85 892.3L366.15 893.5L364.85 894.7M367.1 892.3L368.4 893.5L367.1 894.7M369.35 892.3L370.65 893.5L369.35 894.7M371.6 892.3L372.9 893.5L371.6 894.7M373.85 892.3L375.15 893.5L373.85 894.7M376.1 892.3L377.4 893.5L376.1 894.7M378.35 892.3L379.65 893.5L378.35 894.7" fill="none" stroke="#2f8fd4" stroke-width="0.7" />
<line x1="73.2" y1="890" x2="73.2" y2="897" stroke="#1f70b8" stroke-width="0.8" />
<rect x="52.5" y="889" width="19" height="8.2" fill="#1f6fb5" />
<text x="53.2" y="896" font-size="7.4" fill="#e8f2ff" textLength="17.6" lengthAdjust="spacingAndGlyphs">DHODH</text>
<line x1="66.4" y1="899.9" x2="382.4" y2="899.9" stroke="#8a8ad6" stroke-width="0.7" />
<rect x="66.4" y="898.9" width="6.8" height="1.9" fill="#0c0c70" />
<rect x="194.4" y="889" width="7.5" height="8.8" fill="#1a6fb5" />
<rect x="194.4" y="898.2" width="7.5" height="3.1" fill="#10106a" />
<rect x="284.3" y="889" width="7.2" height="8.8" fill="#1a6fb5" />
<rect x="284.3" y="898.2" width="7.2" height="3.1" fill="#10106a" />
<rect x="378.8" y="889" width="3" height="8.8" fill="#1a6fb5" />
<rect x="378.8" y="898.2" width="3" height="3.1" fill="#10106a" />
<text x="186.6" y="909.3" font-size="7.1" fill="#111" textLength="170.1" lengthAdjust="spacingAndGlyphs">H3K4Me3 Mark (Often Found Near Promoters) on 7 cell lines from ENCODE</text>
<text x="174.6" y="935.4" font-size="7.1" fill="#111" textLength="193.4" lengthAdjust="spacingAndGlyphs">H3K27Ac Mark (Often Found Near Regulatory Elements) on 7 cell lines from ENCODE</text>
<text x="174.6" y="960.9" font-size="7.1" fill="#111" textLength="193.9" lengthAdjust="spacingAndGlyphs">H3K4Me1 Mark (Often Found Near Regulatory Elements) on 7 cell lines from ENCODE</text>
<polygon points="66.5,927.5 71.6,911.2 86,911.2 95.5,927.5" fill="#3cc4c0" />
<polygon points="68.5,927.5 72.6,912.2 85.6,912.2 93.5,927.5" fill="#2a5fd0" />
<polygon points="69.5,927.5 74.5,914.5 84.8,914.5 92,927.5" fill="#2138a8" />
<polygon points="70.3,927.5 75.6,915 78.5,912.6 83.2,912.6 85.5,915.5 91.3,927.5" fill="#1b0d45" />
<line x1="71.6" y1="911.2" x2="86" y2="911.2" stroke="#5a1e9a" stroke-width="0.8" />
<path d="M52 927.5L52 926.9L53 926.9L54 926.9L55 926.8L56 926.7L57 926.7L58 926.5L59 926.1L60 926.2L61 926.3L62 926.2L63 926.6L64 926.7L65 926.9L66 926.9L67 927L68 926.9L68 927.5Z" fill="#23236a"/>
<path d="M225 927.5L225 927.5L226 927.5L227 927.4L228 927.4L229 927.4L230 927.3L231 927.2L232 927.1L233 927.1L234 926.9L235 926.8L236 926.6L237 926.5L238 926.4L239 926.3L240 926.4L241 926.3L242 926.4L243 926.3L244 926.3L245 926.6L246 926.6L247 926.6L248 926.3L249 926.4L250 926.3L251 926.3L252 926.1L253 926L254 925.9L255 925.6L256 925.4L257 925L258 925L259 924.7L260 924.7L261 924.5L262 924.8L263 925.2L264 924.7L265 924.7L266 924.9L267 925.3L268 925.3L269 925.8L270 925.6L271 925.8L272 926.1L273 926.2L274 925.8L275 925.6L276 926L277 925.4L278 925.4L279 925.4L280 925.2L281 924.9L282 924.9L283 925.7L284 925.6L285 926.2L286 926.3L287 926.7L288 926.8L289 927.1L290 927.3L291 927.3L292 927.4L292 927.5Z" fill="#7a70f0" opacity="0.85"/>
<path d="M240 927.5L240 927.5L241 927.5L242 927.5L243 927.5L244 927.5L245 927.5L246 927.5L247 927.4L248 927.4L249 927.4L250 927.3L251 927.2L252 927.2L253 927.1L254 927L255 926.9L256 926.8L257 926.8L258 926.6L259 926.5L260 926.5L261 926.5L262 926.4L263 926.6L264 926.6L265 926.5L266 926.7L267 926.8L268 927L269 927L270 927L271 927.2L272 927.2L273 927.2L274 927.2L275 927.1L276 927.1L277 926.9L278 926.9L279 926.7L280 926.6L281 926.7L282 926.7L283 926.7L284 926.8L285 927.1L286 927.2L287 927.3L288 927.4L289 927.4L290 927.5L290 927.5Z" fill="#4a30b0" opacity="0.8"/>
<line x1="51.5" y1="927.5" x2="382.8" y2="927.5" stroke="#3a3450" stroke-width="0.7" />
<path d="M66 952.8L66 952.6L66.8 952.5L67.6 952.4L68.4 952.2L69.2 952L70 951.8L70.8 951.4L71.6 950.9L72.4 950.5L73.2 950L74 949.1L74.8 948.7L75.6 948L76.4 947.2L77.2 946.4L78 946.3L78.8 945.7L79.6 945.5L80.4 944.9L81.2 945.3L82 945.2L82.8 946.2L83.6 946.5L84.4 946.9L85.2 947.4L86 948.4L86.8 949.2L87.6 949.8L88.4 950.3L89.2 950.9L90 951.2L90.8 951.6L91.6 952L92.4 952.2L93.2 952.4L94 952.5L94.8 952.6L95.6 952.7L95.6 952.8Z" fill="#2a3cc0"/>
<path d="M68 952.8L68 952.6L68.8 952.4L69.6 952.1L70.4 951.9L71.2 951.5L72 950.9L72.8 950.3L73.6 949.5L74.4 948.5L75.2 948L76 947.4L76.8 946L77.6 945.5L78.4 945L79.2 945.5L80 945.2L80.8 945.7L81.6 946.9L82.4 947.3L83.2 948.1L84 949L84.8 949.9L85.6 950.6L86.4 951.2L87.2 951.7L88 952.1L88.8 952.3L89.6 952.5L90.4 952.6L91.2 952.7L92 952.7L92.8 952.8L92.8 952.8Z" fill="#d02c34"/>
<path d="M69 952.8L69 952.7L69.8 952.7L70.6 952.6L71.4 952.5L72.2 952.4L73 952.2L73.8 951.9L74.6 951.5L75.4 951L76.2 950.4L77 949.8L77.8 948.9L78.6 948.3L79.4 947.8L80.2 947.2L81 946.3L81.8 946.3L82.6 946L83.4 946.5L84.2 946.9L85 947.2L85.8 947.6L86.6 948.7L87.4 949.1L88.2 949.8L89 950.5L89.8 951.1L90.6 951.7L91.4 951.9L92.2 952.2L93 952.4L93.8 952.6L94.6 952.7L94.6 952.8Z" fill="#23124a"/>
<path d="M52 952.8L52 951.9L53 952L54 951.9L55 951.7L56 952.3L57 952.2L58 952.2L59 952.2L60 952.2L61 951.6L62 951.6L63 952.2L64 951.9L65 952L66 952L67 952L68 951.8L69 951.8L70 952L70 952.8Z" fill="#5a2060"/>
<path d="M95 952.8L95 952.3L96.2 952.2L97.4 952.4L98.6 952.1L99.8 951.9L101 952.2L102.2 952.4L103.4 952.3L104.6 952.2L105.8 952L107 951.9L108.2 952.2L109.4 951.9L110.6 952L111.8 952.1L113 952.2L114.2 952.1L115.4 952L116.6 952.2L117.8 952L119 952.1L120.2 952.3L121.4 952.1L122.6 952L123.8 952.4L125 952.2L126.2 952.2L127.4 951.8L128.6 951.8L129.8 952.2L131 951.8L132.2 951.9L133.4 952.3L134.6 952.1L135.8 952.3L137 951.8L138.2 951.9L139.4 951.7L140.6 951.7L141.8 951.7L143 951.6L144.2 951.7L145.4 952.1L146.6 951.5L147.8 952.2L149 952L150.2 951.1L151.4 952.1L152.6 952.1L153.8 952.1L155 951.3L156.2 952.1L157.4 952.3L158.6 951.6L159.8 952.3L161 951.7L162.2 951.9L163.4 951.8L164.6 951.7L165.8 952L167 951.9L168.2 952.4L169.4 951.8L170.6 951.9L171.8 951.7L173 952.2L174.2 951.3L175.4 951L176.6 952L177.8 951.6L179 951.3L180.2 951.1L181.4 951.9L182.6 952.1L183.8 952.1L185 951.8L186.2 951.8L187.4 952.1L188.6 952.2L189.8 952.2L191 952.2L192.2 952.2L193.4 952.4L194.6 952.1L195.8 951.8L197 952.2L198.2 951.9L199.4 952.3L200.6 952L201.8 951.9L203 952L204.2 952.1L205.4 952.1L206.6 952L207.8 951.8L209 952.3L209 952.8Z" fill="#6a5ad8" opacity="0.8"/>
<path d="M205 952.8L205 952.8L206 952.8L207 952.8L208 952.7L209 952.7L210 952.6L211 952.4L212 952.2L213 951.9L214 951.3L215 951L216 950.6L217 950L218 949.6L219 950.3L220 950.2L221 950.8L222 951L223 951.5L224 951.8L225 951.9L226 951.9L227 951.6L228 951.4L229 951.2L230 950.9L231 950.8L232 950.4L233 950.9L234 950.5L235 951.1L236 951.3L237 951.6L238 951.6L239 951.7L240 951.7L241 951.5L242 951.2L243 950.8L244 950.9L245 950.6L246 950.6L247 951L248 951.3L249 951.4L250 951.1L251 950.8L252 950L253 949.2L254 948.9L255 948.2L256 947.4L257 947.2L258 946.2L259 946.2L260 946.7L261 948.2L262 947.7L263 948.7L264 948.7L265 948.4L266 949.2L267 949.4L268 948.9L269 949.8L270 950.2L271 950.4L272 950.7L273 951.2L274 951.1L275 950.9L276 950.7L277 950.6L278 950L279 949.4L280 949.8L281 949.5L282 950L283 950L284 950L285 950.8L286 950.7L287 951.1L288 951.8L289 951.8L290 952.2L291 952.4L292 952.5L293 952.6L294 952.7L295 952.7L295 952.8Z" fill="#7a70f4" opacity="0.9"/>
<path d="M210 952.8L210 952.8L211 952.7L212 952.7L213 952.5L214 952.3L215 952.1L216 952L217 951.7L218 951.7L219 951.6L220 951.8L221 952.1L222 952.4L223 952.5L224 952.7L225 952.7L226 952.8L227 952.8L228 952.8L229 952.8L230 952.8L231 952.8L232 952.8L233 952.8L234 952.8L235 952.8L236 952.8L237 952.8L238 952.8L239 952.8L240 952.8L241 952.8L242 952.8L243 952.8L244 952.8L245 952.8L246 952.8L247 952.8L248 952.8L249 952.8L250 952.7L251 952.5L252 952.3L253 951.9L254 951.4L255 950.7L256 950.2L257 950.3L258 950.1L259 950.9L260 951.3L261 951.7L262 951.9L263 951.8L264 951.7L265 951.6L266 951.4L267 951.1L268 950.9L269 950.9L270 951.1L271 951.5L272 951.9L273 952.1L274 952.2L275 952.2L276 952.1L277 952.1L278 951.9L279 951.5L280 951.6L281 951.3L282 951.3L283 951.4L284 951.9L285 952.1L286 952.3L287 952.5L288 952.6L289 952.7L290 952.7L291 952.8L292 952.8L292 952.8Z" fill="#4a30b0" opacity="0.85"/>
<path d="M295 952.8L295 952.3L296.2 952.2L297.4 952.5L298.6 952.2L299.8 952.2L301 952.3L302.2 952.3L303.4 952.3L304.6 952.4L305.8 952.2L307 952.4L308.2 952.1L309.4 951.8L310.6 951.8L311.8 951.6L313 951L314.2 951L315.4 951.8L316.6 951.1L317.8 951.5L319 952.1L320.2 952L321.4 952.1L322.6 952.3L323.8 952L325 951.7L326.2 952L327.4 951.3L328.6 951.4L329.8 951.9L331 951.2L332.2 951.5L333.4 951.5L334.6 951.8L335.8 952L337 952.3L338.2 952.1L339.4 952.1L340.6 952.1L341.8 952.3L343 952.2L344.2 952.3L344.2 952.8Z" fill="#3030a0" opacity="0.8"/>
<line x1="51.5" y1="952.8" x2="382.8" y2="952.8" stroke="#5a3a50" stroke-width="0.7" />
<path d="M51.6 978.8L51.6 975.5L52.3 974.4L53 973.2L53.7 972.1L54.4 971.6L55.1 971.3L55.8 971.6L56.5 972.7L57.2 974L57.9 975.1L58.6 976.4L59.3 977.2L60 977.8L60.7 978.3L60.7 978.8Z" fill="#69b9f2"/>
<path d="M52 978.8L52 976.9L52.9 975.5L53.8 975.3L54.7 975.7L55.6 975.5L56.5 975.2L57.4 975.2L58.3 976.3L59.2 976.9L60.1 976.9L61 976.4L61.9 977.4L62.8 977.1L63.7 977.5L64.6 977.5L65.5 977.5L66.4 977.3L67.3 977.5L68.2 977.7L69.1 977.6L70 977.5L70.9 977.2L71.8 977.6L72.7 977.7L73.6 977.2L74.5 977.3L74.5 978.8Z" fill="#2c2cc0"/>
<path d="M74 978.8L74 978.7L74.8 978.7L75.6 978.5L76.4 978.3L77.2 978L78 977.3L78.8 976.8L79.6 976L80.4 974.9L81.2 974.2L82 973.2L82.8 973.2L83.6 973.5L84.4 974L85.2 974.2L86 975.4L86.8 976.1L87.6 977.1L88.4 977.6L89.2 978.2L90 978.5L90.8 978.6L91.6 978.7L91.6 978.8Z" fill="#4aa6c8"/>
<path d="M75 978.8L75 978.7L75.8 978.7L76.6 978.5L77.4 978.2L78.2 977.7L79 977.1L79.8 976.6L80.6 975.9L81.4 975.2L82.2 974.8L83 975L83.8 975.4L84.6 975.7L85.4 976.5L86.2 977.4L87 977.9L87.8 978.3L88.6 978.6L89.4 978.7L90.2 978.8L91 978.8L91 978.8Z" fill="#4f9a5a"/>
<path d="M60 978.8L60 977.8L61.1 977.5L62.2 977.2L63.3 977.9L64.4 977.8L65.5 977.3L66.6 977.9L67.7 977.7L68.8 977.7L69.9 977.4L71 977.2L72.1 977.9L73.2 977.3L74.3 977.3L75.4 977L76.5 977.1L77.6 976.4L78.7 976.8L79.8 976.3L80.9 976.3L82 974.8L83.1 975.4L84.2 976.1L85.3 976.5L86.4 975.8L87.5 976.5L88.6 976.7L89.7 977.4L90.8 977.4L91.9 977.8L93 977.4L94.1 978L95.2 977.6L96.3 977.4L97.4 977.4L98.5 977.9L99.6 977.8L100.7 977.3L101.8 977.4L102.9 977.2L104 977.1L105.1 977.4L106.2 976.8L107.3 976.8L108.4 977.1L109.5 976.9L110.6 977.3L111.7 976.8L112.8 975.9L113.9 977.3L115 976.7L116.1 977.5L117.2 977.6L118.3 977.1L119.4 977.6L120.5 977.9L121.6 977.8L122.7 977.4L123.8 977.5L124.9 978L126 977.8L127.1 977.2L128.2 977.8L129.3 977.5L130.4 977.7L131.5 977.4L132.6 977.5L133.7 977.3L134.8 977.5L135.9 977.8L137 977.8L138.1 977.9L139.2 977.1L140.3 977.7L141.4 977.7L142.5 976.5L143.6 977.3L144.7 976.2L145.8 977.2L146.9 976.5L148 976.8L149.1 975.7L150.2 976.1L151.3 976.1L152.4 976L153.5 975.9L154.6 976.9L155.7 976.7L156.8 977L157.9 977.6L159 976.9L160.1 977.2L161.2 977.1L162.3 977.7L163.4 977.5L164.5 977.5L165.6 977.3L166.7 977.9L167.8 977.6L168.9 977.4L170 977.7L171.1 977.1L172.2 976.7L173.3 976.9L174.4 976.4L175.5 976.3L176.6 976.8L177.7 976.4L178.8 975.1L179.9 976.3L181 976.2L182.1 976.9L183.2 976.7L184.3 977L185.4 975.9L186.5 976.4L187.6 976.4L188.7 976.5L189.8 977L190.9 976.6L192 977L193.1 976.9L194.2 975.8L195.3 975.5L196.4 975.1L197.5 975.8L198.6 975.2L199.7 976.2L200.8 975.4L201.9 976L203 977.2L204.1 976.7L205.2 977.7L206.3 977.9L207.4 977.4L208.5 977.8L209.6 977.6L209.6 978.8Z" fill="#3a30c8" opacity="0.9"/>
<path d="M205 978.8L205 978.5L205.9 978.2L206.8 977.5L207.7 976.6L208.6 975.3L209.5 974.2L210.4 973L211.3 972.2L212.2 971.7L213.1 971.1L214 970L214.9 969.1L215.8 968.8L216.7 968.5L217.6 968L218.5 968.3L219.4 968.3L220.3 968.3L221.2 968.1L222.1 968L223 967.3L223.9 966.1L224.8 965L225.7 964.3L226.6 964L227.5 964.3L228.4 963.8L229.3 965L230.2 965.2L231.1 964.8L232 964.9L232.9 965.3L233.8 965L234.7 963.7L235.6 964.5L236.5 964.1L237.4 963.6L238.3 963.8L239.2 964.9L240.1 965.6L241 966L241.9 965.8L242.8 966.5L243.7 965.9L244.6 966.1L245.5 965.7L246.4 966.6L247.3 966.3L248.2 966.5L249.1 966L250 966.3L250.9 966.7L251.8 965.9L252.7 966.2L253.6 965.5L254.5 965.1L255.4 963.9L256.3 964.3L257.2 964.9L258.1 966L259 966.7L259.9 968L260.8 969.4L261.7 970.5L262.6 971.5L263.5 972.4L264.4 972.7L265.3 972.5L266.2 972.7L267.1 973.1L268 973.3L268.9 973.5L269.8 973.4L270.7 972.9L271.6 972.2L272.5 970.9L273.4 970L274.3 969.6L275.2 969.7L276.1 969.2L277 968.5L277.9 967.9L278.8 967.3L279.7 966.7L280.6 965.9L281.5 966L282.4 965.9L283.3 965.6L284.2 965.9L285.1 967.4L286 968.6L286.9 969.7L287.8 970.5L288.7 971.1L289.6 972L290.5 972.1L291.4 972.8L292.3 972.9L293.2 973L294.1 973.3L295 973.3L295.9 973.6L296.8 973.9L297.7 974.4L298.6 974.8L299.5 974.8L300.4 974.8L301.3 974.9L302.2 975.1L303.1 975.1L304 975.4L304.9 976L305.8 976.4L306.7 977L307.6 977.4L308.5 977.8L309.4 978.2L310.3 978.4L311.2 978.6L311.2 978.8Z" fill="#7a72fa"/>
<path d="M210 978.8L210 978.7L210.9 978.6L211.8 978.5L212.7 978.3L213.6 978.1L214.5 977.8L215.4 977.2L216.3 976.6L217.2 976.2L218.1 975.6L219 975L219.9 974.6L220.8 974.2L221.7 973.4L222.6 974.1L223.5 974.2L224.4 974.6L225.3 975.1L226.2 975.3L227.1 975.5L228 975.7L228.9 975.8L229.8 975.5L230.7 975.5L231.6 974.8L232.5 973.6L233.4 973.6L234.3 972.9L235.2 972.3L236.1 972.4L237 972.2L237.9 973L238.8 973.3L239.7 973.2L240.6 974.3L241.5 974L242.4 974.6L243.3 974L244.2 973.9L245.1 973.6L246 973.6L246.9 973.4L247.8 972.4L248.7 972.9L249.6 972.8L250.5 972L251.4 971.9L252.3 972.5L253.2 971.2L254.1 971.2L255 970.9L255.9 970.8L256.8 970.1L257.7 969.2L258.6 970.4L259.5 971.1L260.4 971.8L261.3 972.7L262.2 973.4L263.1 973.8L264 975.1L264.9 975.5L265.8 975.3L266.7 975.2L267.6 975.1L268.5 975.3L269.4 975.1L270.3 974.8L271.2 975.2L272.1 975.3L273 975.8L273.9 976.1L274.8 976.1L275.7 975.7L276.6 975.4L277.5 975L278.4 974.4L279.3 973.8L280.2 973.3L281.1 972.9L282 972.5L282.9 973.2L283.8 973.2L284.7 973.5L285.6 974.3L286.5 975.5L287.4 975.8L288.3 976.5L289.2 977.1L290.1 977.3L291 977.4L291.9 977.4L292.8 977L293.7 976.9L294.6 976.6L295.5 976.7L296.4 976.8L297.3 976.6L298.2 976.9L299.1 977.2L300 977.6L300.9 978L301.8 978.2L302.7 978.5L303.6 978.6L304.5 978.7L304.5 978.8Z" fill="#5a3cd8"/>
<path d="M225 978.8L225 978.4L225.9 978.2L226.8 978L227.7 977.8L228.6 977.6L229.5 977.3L230.4 977L231.3 976.6L232.2 976.1L233.1 975.7L234 975.5L234.9 975.2L235.8 975.4L236.7 974.7L237.6 975.2L238.5 975.3L239.4 975.1L240.3 975.1L241.2 975.5L242.1 975.6L243 976.1L243.9 976L244.8 976.5L245.7 976.7L246.6 976.9L247.5 976.9L248.4 976.9L249.3 977L250.2 976.9L251.1 976.6L252 976.5L252.9 975.9L253.8 975.1L254.7 974.6L255.6 974.7L256.5 973.4L257.4 973.5L258.3 972.5L259.2 973L260.1 973.1L261 972.8L261.9 972.7L262.8 973.6L263.7 973.6L264.6 974.3L265.5 975.2L266.4 975.8L267.3 976.2L268.2 976.7L269.1 977.2L270 977.4L270.9 977.7L271.8 977.9L272.7 978.1L273.6 978.1L274.5 978L275.4 977.7L276.3 977.6L277.2 977.3L278.1 976.9L279 976.5L279.9 976.4L280.8 975.9L281.7 975.6L282.6 975.8L283.5 975.8L284.4 976.1L285.3 976.4L286.2 976.8L287.1 977.4L288 977.7L288.9 978.1L289.8 978.2L290.7 978.4L291.6 978.6L292.5 978.6L293.4 978.7L294.3 978.8L294.3 978.8Z" fill="#5a1450"/>
<path d="M310 978.8L310 977.8L311.2 977.9L312.4 978.3L313.6 978.3L314.8 978.1L316 978.3L317.2 977.8L318.4 978.2L319.6 978.1L320.8 978L322 977.9L323.2 977.9L324.4 977.7L325.6 977.6L326.8 977.7L328 978L329.2 977L330.4 977.3L331.6 978L332.8 977.7L334 977.4L335.2 977.3L336.4 978.2L337.6 978.2L338.8 977.9L340 978L341.2 977.6L342.4 977.6L343.6 977.9L344.8 977.8L346 977.6L347.2 977.2L348.4 977.8L349.6 977.6L350.8 977.9L352 977.2L353.2 977.9L354.4 977L355.6 977.5L356.8 977.5L358 978L359.2 978L360.4 977.8L361.6 977.6L362.8 977.9L364 978.1L365.2 977.6L366.4 977.9L367.6 978L368.8 978.2L370 978.1L371.2 977.7L372.4 978.2L373.6 978L374.8 977.9L376 978.1L377.2 977.8L378.4 977.7L379.6 977.8L380.8 977.8L382 978.2L382 978.8Z" fill="#2a2ab8" opacity="0.9"/>
<line x1="51.5" y1="979.1" x2="382.8" y2="979.1" stroke="#20206a" stroke-width="0.6" />
<text x="395.6" y="869.2" font-size="12.6" fill="#000"  stroke="#000" stroke-width="0.16">O</text>
<polygon points="462.1,860.32 464,862.5 462.1,864.68 460.2,862.5" fill="none" stroke="#fbd48a" stroke-width="0.8" />
<text x="471.4" y="865.6" font-size="8.4" fill="#111"  stroke="#111" stroke-width="0.16">hnRNPK KO</text>
<polygon points="531.6,860.71 529.7,864.22 533.5,864.22" fill="none" stroke="#e8262a" stroke-width="0.8" />
<text x="540.2" y="865.6" font-size="8.4" fill="#111"  stroke="#111" stroke-width="0.16">OE</text>
<circle cx="567.7" cy="862.5" r="2" fill="none" stroke="#4472c4" stroke-width="0.8" />
<text x="576.9" y="865.6" font-size="8.2" fill="#111"  stroke="#111" stroke-width="0.16">Vector</text>
<path d="M445.3 973.2V971.3H451.6V973.2" fill="#fff" stroke="#808080" stroke-width="0.65" />
<path d="M455.8 973.2V971H462.6V973.2" fill="#fff" stroke="#808080" stroke-width="0.65" />
<path d="M466.8 973.2V970.6H473.3V973.2" fill="#fff" stroke="#808080" stroke-width="0.65" />
<path d="M484.7 973.2V927.2H491.3V973.2" fill="#fff" stroke="#808080" stroke-width="0.65" />
<path d="M495.5 973.2V917.4H502.3V973.2" fill="#fff" stroke="#808080" stroke-width="0.65" />
<path d="M506 973.2V945.4H513V973.2" fill="#fff" stroke="#808080" stroke-width="0.65" />
<line x1="441.8" y1="896.45" x2="441.8" y2="973.65" stroke="#111" stroke-width="0.9" />
<line x1="441.35" y1="973.2" x2="517.7" y2="973.2" stroke="#111" stroke-width="0.9" />
<line x1="438.3" y1="973.2" x2="441.8" y2="973.2" stroke="#111" stroke-width="0.9" />
<text x="436.9" y="975.74" font-size="7.05" fill="#111" text-anchor="end"  stroke="#111" stroke-width="0.16">0.0</text>
<line x1="438.3" y1="947.75" x2="441.8" y2="947.75" stroke="#111" stroke-width="0.9" />
<text x="436.9" y="950.29" font-size="7.05" fill="#111" text-anchor="end"  stroke="#111" stroke-width="0.16">0.5</text>
<line x1="438.3" y1="922.3" x2="441.8" y2="922.3" stroke="#111" stroke-width="0.9" />
<text x="436.9" y="924.84" font-size="7.05" fill="#111" text-anchor="end"  stroke="#111" stroke-width="0.16">1.0</text>
<line x1="438.3" y1="896.85" x2="441.8" y2="896.85" stroke="#111" stroke-width="0.9" />
<text x="436.9" y="899.39" font-size="7.05" fill="#111" text-anchor="end"  stroke="#111" stroke-width="0.16">1.5</text>
<line x1="459.3" y1="973.2" x2="459.3" y2="977" stroke="#111" stroke-width="0.9" />
<line x1="499" y1="973.2" x2="499" y2="977" stroke="#111" stroke-width="0.9" />
<line x1="498.8" y1="911.1" x2="498.8" y2="922.4" stroke="#e8262a" stroke-width="0.7" />
<line x1="498.8" y1="911.1" x2="498.8" y2="911.1" stroke="#e8262a" stroke-width="0.7" />
<line x1="498.8" y1="922.4" x2="498.8" y2="922.4" stroke="#e8262a" stroke-width="0.7" />
<line x1="509.5" y1="937.7" x2="509.5" y2="951.3" stroke="#fbd48a" stroke-width="0.7" />
<line x1="509.5" y1="937.7" x2="509.5" y2="937.7" stroke="#fbd48a" stroke-width="0.7" />
<line x1="509.5" y1="951.3" x2="509.5" y2="951.3" stroke="#fbd48a" stroke-width="0.7" />
<circle cx="486.1" cy="924.9" r="1.9" fill="none" stroke="#4472c4" stroke-width="0.8" />
<circle cx="489.4" cy="927.2" r="1.9" fill="none" stroke="#4472c4" stroke-width="0.8" />
<circle cx="486.1" cy="929.6" r="1.9" fill="none" stroke="#4472c4" stroke-width="0.8" />
<polygon points="498.8,909.11 496.9,912.62 500.7,912.62" fill="none" stroke="#e8262a" stroke-width="0.8" />
<polygon points="498.8,916.11 496.9,919.62 500.7,919.62" fill="none" stroke="#e8262a" stroke-width="0.8" />
<polygon points="498.8,920.11 496.9,923.62 500.7,923.62" fill="none" stroke="#e8262a" stroke-width="0.8" />
<polygon points="509.5,935.52 511.4,937.7 509.5,939.88 507.6,937.7" fill="none" stroke="#fbd48a" stroke-width="0.8" />
<polygon points="511.1,944.42 513,946.6 511.1,948.78 509.2,946.6" fill="none" stroke="#fbd48a" stroke-width="0.8" />
<polygon points="507.9,947.92 509.8,950.1 507.9,952.28 506,950.1" fill="none" stroke="#fbd48a" stroke-width="0.8" />
<circle cx="446.9" cy="971.6" r="1.9" fill="none" stroke="#4472c4" stroke-width="0.8" />
<circle cx="449.7" cy="971.2" r="1.9" fill="none" stroke="#4472c4" stroke-width="0.8" />
<polygon points="458.6,968.71 456.7,972.22 460.5,972.22" fill="none" stroke="#e8262a" stroke-width="0.8" />
<polygon points="459.9,969.61 458,973.12 461.8,973.12" fill="none" stroke="#e8262a" stroke-width="0.8" />
<polygon points="468.4,967.82 470.3,970 468.4,972.18 466.5,970" fill="none" stroke="#fbd48a" stroke-width="0.8" />
<polygon points="471.4,968.92 473.3,971.1 471.4,973.28 469.5,971.1" fill="none" stroke="#fbd48a" stroke-width="0.8" />
<text x="493.05" y="883.1" font-size="6.4" fill="#111" text-anchor="middle" font-style="italic"  stroke="#111" stroke-width="0.16">p = 0.009</text>
<line x1="488.5" y1="887" x2="498.8" y2="887" stroke="#111" stroke-width="0.8" />
<text x="498.4" y="899.2" font-size="6.4" fill="#111" text-anchor="middle" font-style="italic"  stroke="#111" stroke-width="0.16">p &lt; 0.001</text>
<line x1="488.5" y1="902.9" x2="510" y2="902.9" stroke="#111" stroke-width="0.8" />
<text x="459.2" y="984.5" font-size="8.1" fill="#111" text-anchor="middle"  stroke="#111" stroke-width="0.16">IgG</text>
<text x="498.5" y="984.5" font-size="8.4" fill="#111" text-anchor="middle"  stroke="#111" stroke-width="0.16">DHODH</text>
<text x="419.6" y="937.5" font-size="8.4" fill="#111" text-anchor="middle" transform="rotate(-90 419.6 937.5)"  stroke="#111" stroke-width="0.16">H3K27ac % of input</text>
<path d="M572.5 973V971.4H579.5V973" fill="#fff" stroke="#808080" stroke-width="0.65" />
<path d="M583.5 973V971.8H590.5V973" fill="#fff" stroke="#808080" stroke-width="0.65" />
<path d="M595 973V971.4H602V973" fill="#fff" stroke="#808080" stroke-width="0.65" />
<path d="M613.3 973V938H620.8V973" fill="#fff" stroke="#808080" stroke-width="0.65" />
<path d="M624.3 973V921.4H631.7V973" fill="#fff" stroke="#808080" stroke-width="0.65" />
<path d="M635.3 973V948.2H642.5V973" fill="#fff" stroke="#808080" stroke-width="0.65" />
<line x1="568.9" y1="894.05" x2="568.9" y2="973.45" stroke="#111" stroke-width="0.9" />
<line x1="568.45" y1="973" x2="646.9" y2="973" stroke="#111" stroke-width="0.9" />
<line x1="565.4" y1="973" x2="568.9" y2="973" stroke="#111" stroke-width="0.9" />
<text x="564.7" y="975.7" font-size="7.5" fill="#111" text-anchor="end"  stroke="#111" stroke-width="0.16">0.0</text>
<line x1="565.4" y1="957.3" x2="568.9" y2="957.3" stroke="#111" stroke-width="0.9" />
<text x="564.7" y="960" font-size="7.5" fill="#111" text-anchor="end"  stroke="#111" stroke-width="0.16">0.5</text>
<line x1="565.4" y1="941.6" x2="568.9" y2="941.6" stroke="#111" stroke-width="0.9" />
<text x="564.7" y="944.3" font-size="7.5" fill="#111" text-anchor="end"  stroke="#111" stroke-width="0.16">1.0</text>
<line x1="565.4" y1="925.9" x2="568.9" y2="925.9" stroke="#111" stroke-width="0.9" />
<text x="564.7" y="928.6" font-size="7.5" fill="#111" text-anchor="end"  stroke="#111" stroke-width="0.16">1.5</text>
<line x1="565.4" y1="910.2" x2="568.9" y2="910.2" stroke="#111" stroke-width="0.9" />
<text x="564.7" y="912.9" font-size="7.5" fill="#111" text-anchor="end"  stroke="#111" stroke-width="0.16">2.0</text>
<line x1="565.4" y1="894.5" x2="568.9" y2="894.5" stroke="#111" stroke-width="0.9" />
<text x="564.7" y="897.2" font-size="7.5" fill="#111" text-anchor="end"  stroke="#111" stroke-width="0.16">2.5</text>
<line x1="586.9" y1="973" x2="586.9" y2="976.8" stroke="#111" stroke-width="0.9" />
<line x1="627.1" y1="973" x2="627.1" y2="976.8" stroke="#111" stroke-width="0.9" />
<line x1="616.8" y1="931" x2="616.8" y2="940.5" stroke="#4472c4" stroke-width="0.7" />
<line x1="616.8" y1="931" x2="616.8" y2="931" stroke="#4472c4" stroke-width="0.7" />
<line x1="616.8" y1="940.5" x2="616.8" y2="940.5" stroke="#4472c4" stroke-width="0.7" />
<line x1="627.8" y1="909.2" x2="627.8" y2="935.6" stroke="#e8262a" stroke-width="0.7" />
<line x1="625.9" y1="909.2" x2="629.7" y2="909.2" stroke="#e8262a" stroke-width="0.7" />
<line x1="638.8" y1="939.6" x2="638.8" y2="954.6" stroke="#fbd48a" stroke-width="0.7" />
<line x1="638.8" y1="939.6" x2="638.8" y2="939.6" stroke="#fbd48a" stroke-width="0.7" />
<line x1="638.8" y1="954.6" x2="638.8" y2="954.6" stroke="#fbd48a" stroke-width="0.7" />
<circle cx="616.8" cy="931" r="1.9" fill="none" stroke="#4472c4" stroke-width="0.8" />
<circle cx="614.9" cy="940.1" r="1.9" fill="none" stroke="#4472c4" stroke-width="0.8" />
<circle cx="618.7" cy="940.1" r="1.9" fill="none" stroke="#4472c4" stroke-width="0.8" />
<polygon points="625.9,911.21 624,914.72 627.8,914.72" fill="none" stroke="#e8262a" stroke-width="0.8" />
<polygon points="629.4,914.21 627.5,917.72 631.3,917.72" fill="none" stroke="#e8262a" stroke-width="0.8" />
<polygon points="627.8,932.9 625.9,936.42 629.7,936.42" fill="none" stroke="#e8262a" stroke-width="0.8" />
<polygon points="638.8,937.42 640.7,939.6 638.8,941.78 636.9,939.6" fill="none" stroke="#fbd48a" stroke-width="0.8" />
<polygon points="638.8,948.42 640.7,950.6 638.8,952.78 636.9,950.6" fill="none" stroke="#fbd48a" stroke-width="0.8" />
<polygon points="638.8,952.12 640.7,954.3 638.8,956.48 636.9,954.3" fill="none" stroke="#fbd48a" stroke-width="0.8" />
<circle cx="574.8" cy="971.6" r="1.9" fill="none" stroke="#4472c4" stroke-width="0.8" />
<circle cx="577.6" cy="971.8" r="1.9" fill="none" stroke="#4472c4" stroke-width="0.8" />
<polygon points="586.2,970 584.3,973.52 588.1,973.52" fill="none" stroke="#e8262a" stroke-width="0.8" />
<polygon points="588.1,970 586.2,973.52 590,973.52" fill="none" stroke="#e8262a" stroke-width="0.8" />
<polygon points="597.9,969.42 599.8,971.6 597.9,973.78 596,971.6" fill="none" stroke="#fbd48a" stroke-width="0.8" />
<polygon points="599.3,969.42 601.2,971.6 599.3,973.78 597.4,971.6" fill="none" stroke="#fbd48a" stroke-width="0.8" />
<text x="627.75" y="879.6" font-size="6.7" fill="#111" text-anchor="middle" font-style="italic"  stroke="#111" stroke-width="0.16">p = 0.03</text>
<line x1="616.1" y1="883.5" x2="638.8" y2="883.5" stroke="#111" stroke-width="0.8" />
<text x="622.3" y="896.4" font-size="6.7" fill="#111" text-anchor="middle" font-style="italic"  stroke="#111" stroke-width="0.16">p = 0.02</text>
<line x1="616.1" y1="900.6" x2="627.8" y2="900.6" stroke="#111" stroke-width="0.8" />
<text x="586.9" y="984.5" font-size="8.1" fill="#111" text-anchor="middle"  stroke="#111" stroke-width="0.16">IgG</text>
<text x="627.2" y="984.5" font-size="8.4" fill="#111" text-anchor="middle"  stroke="#111" stroke-width="0.16">DHODH</text>
<text x="547.2" y="936.3" font-size="8.6" fill="#111" text-anchor="middle" transform="rotate(-90 547.2 936.3)"  stroke="#111" stroke-width="0.16">H3K4me3 % of input</text>
</svg>
</body></html>
